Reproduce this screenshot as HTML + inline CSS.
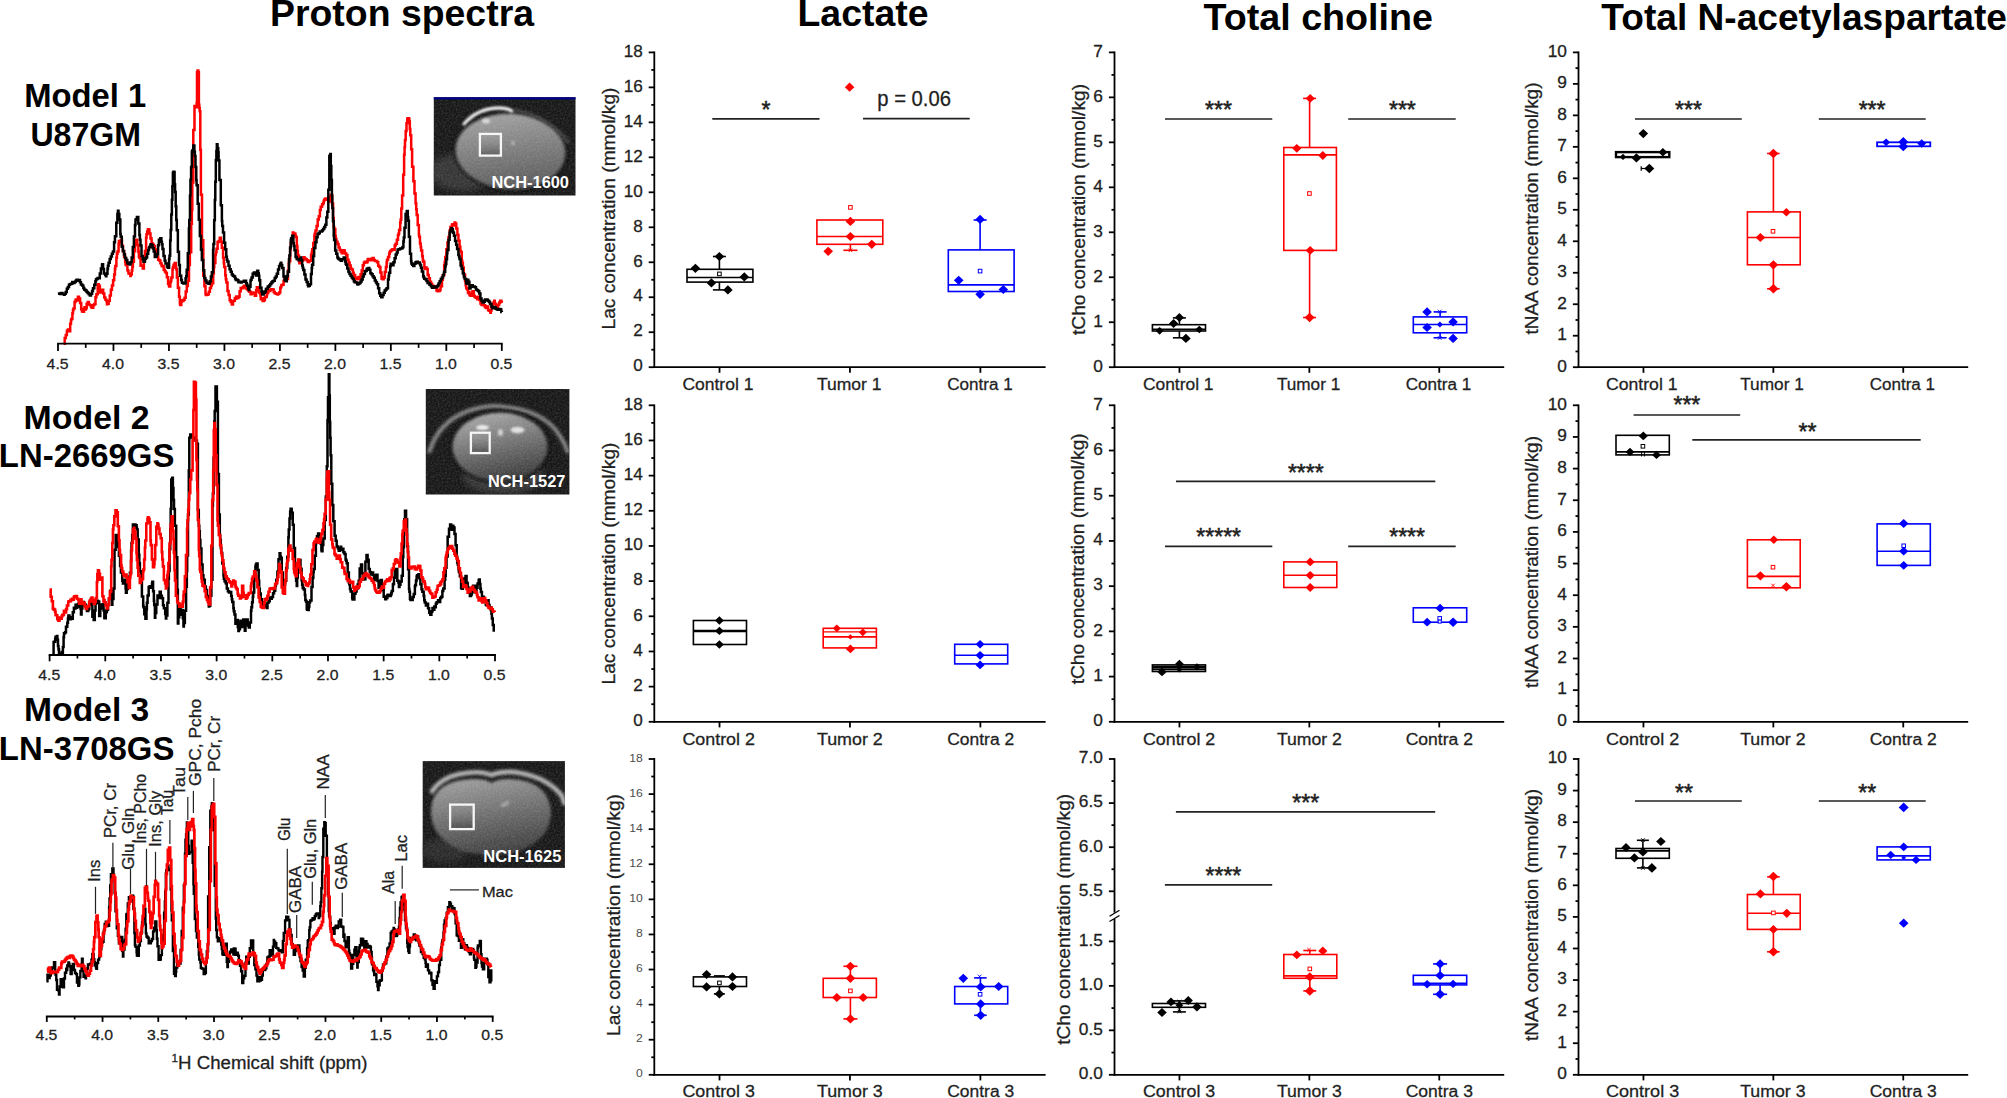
<!DOCTYPE html>
<html><head><meta charset="utf-8"><title>Figure</title>
<style>html,body{margin:0;padding:0;background:#fff}svg{display:block}text{font-family:'Liberation Sans', Arial, sans-serif}</style></head>
<body>
<svg width="2007" height="1098" viewBox="0 0 2007 1098">
<rect width="2007" height="1098" fill="#fff"/>
<text x="270" y="26.2" font-size="37" font-weight="bold" fill="#000" textLength="264" lengthAdjust="spacingAndGlyphs">Proton spectra</text>
<text x="797.5" y="25.9" font-size="37" font-weight="bold" fill="#000" textLength="131" lengthAdjust="spacingAndGlyphs">Lactate</text>
<text x="1203.5" y="29.5" font-size="37" font-weight="bold" fill="#000" textLength="229.5" lengthAdjust="spacingAndGlyphs">Total choline</text>
<text x="1601.3" y="29.6" font-size="37" font-weight="bold" fill="#000" textLength="405.7" lengthAdjust="spacingAndGlyphs">Total N-acetylaspartate</text>
<line x1="654.3" y1="51.5" x2="654.3" y2="368.1" stroke="#000000" stroke-width="1.8"/>
<line x1="653.4" y1="367.2" x2="1045.6" y2="367.2" stroke="#000000" stroke-width="1.8"/>
<line x1="648.7" y1="367.2" x2="654.3" y2="367.2" stroke="#000000" stroke-width="1.8"/>
<line x1="648.7" y1="332.22" x2="654.3" y2="332.22" stroke="#000000" stroke-width="1.8"/>
<line x1="648.7" y1="297.24" x2="654.3" y2="297.24" stroke="#000000" stroke-width="1.8"/>
<line x1="648.7" y1="262.27" x2="654.3" y2="262.27" stroke="#000000" stroke-width="1.8"/>
<line x1="648.7" y1="227.29" x2="654.3" y2="227.29" stroke="#000000" stroke-width="1.8"/>
<line x1="648.7" y1="192.31" x2="654.3" y2="192.31" stroke="#000000" stroke-width="1.8"/>
<line x1="648.7" y1="157.33" x2="654.3" y2="157.33" stroke="#000000" stroke-width="1.8"/>
<line x1="648.7" y1="122.36" x2="654.3" y2="122.36" stroke="#000000" stroke-width="1.8"/>
<line x1="648.7" y1="87.38" x2="654.3" y2="87.38" stroke="#000000" stroke-width="1.8"/>
<line x1="648.7" y1="52.4" x2="654.3" y2="52.4" stroke="#000000" stroke-width="1.8"/>
<line x1="651.3" y1="349.71" x2="654.3" y2="349.71" stroke="#000000" stroke-width="1.8"/>
<line x1="651.3" y1="314.73" x2="654.3" y2="314.73" stroke="#000000" stroke-width="1.8"/>
<line x1="651.3" y1="279.76" x2="654.3" y2="279.76" stroke="#000000" stroke-width="1.8"/>
<line x1="651.3" y1="244.78" x2="654.3" y2="244.78" stroke="#000000" stroke-width="1.8"/>
<line x1="651.3" y1="209.8" x2="654.3" y2="209.8" stroke="#000000" stroke-width="1.8"/>
<line x1="651.3" y1="174.82" x2="654.3" y2="174.82" stroke="#000000" stroke-width="1.8"/>
<line x1="651.3" y1="139.84" x2="654.3" y2="139.84" stroke="#000000" stroke-width="1.8"/>
<line x1="651.3" y1="104.87" x2="654.3" y2="104.87" stroke="#000000" stroke-width="1.8"/>
<line x1="651.3" y1="69.89" x2="654.3" y2="69.89" stroke="#000000" stroke-width="1.8"/>
<text transform="translate(642.7 371.44) scale(1.05 1)" font-size="16.3" text-anchor="end" fill="#1f1f1f" stroke="#1f1f1f" stroke-width="0.3">0</text>
<text transform="translate(642.7 336.46) scale(1.05 1)" font-size="16.3" text-anchor="end" fill="#1f1f1f" stroke="#1f1f1f" stroke-width="0.3">2</text>
<text transform="translate(642.7 301.48) scale(1.05 1)" font-size="16.3" text-anchor="end" fill="#1f1f1f" stroke="#1f1f1f" stroke-width="0.3">4</text>
<text transform="translate(642.7 266.5) scale(1.05 1)" font-size="16.3" text-anchor="end" fill="#1f1f1f" stroke="#1f1f1f" stroke-width="0.3">6</text>
<text transform="translate(642.7 231.52) scale(1.05 1)" font-size="16.3" text-anchor="end" fill="#1f1f1f" stroke="#1f1f1f" stroke-width="0.3">8</text>
<text transform="translate(642.7 196.55) scale(1.05 1)" font-size="16.3" text-anchor="end" fill="#1f1f1f" stroke="#1f1f1f" stroke-width="0.3">10</text>
<text transform="translate(642.7 161.57) scale(1.05 1)" font-size="16.3" text-anchor="end" fill="#1f1f1f" stroke="#1f1f1f" stroke-width="0.3">12</text>
<text transform="translate(642.7 126.59) scale(1.05 1)" font-size="16.3" text-anchor="end" fill="#1f1f1f" stroke="#1f1f1f" stroke-width="0.3">14</text>
<text transform="translate(642.7 91.61) scale(1.05 1)" font-size="16.3" text-anchor="end" fill="#1f1f1f" stroke="#1f1f1f" stroke-width="0.3">16</text>
<text transform="translate(642.7 56.64) scale(1.05 1)" font-size="16.3" text-anchor="end" fill="#1f1f1f" stroke="#1f1f1f" stroke-width="0.3">18</text>
<line x1="719.52" y1="367.2" x2="719.52" y2="372.8" stroke="#000000" stroke-width="1.8"/>
<line x1="849.95" y1="367.2" x2="849.95" y2="372.8" stroke="#000000" stroke-width="1.8"/>
<line x1="980.38" y1="367.2" x2="980.38" y2="372.8" stroke="#000000" stroke-width="1.8"/>
<text x="682.4" y="390.2" font-size="17.3" fill="#1f1f1f" stroke="#1f1f1f" stroke-width="0.3" textLength="71" lengthAdjust="spacingAndGlyphs">Control 1</text>
<text x="816.9" y="390.2" font-size="17.3" fill="#1f1f1f" stroke="#1f1f1f" stroke-width="0.3" textLength="64.5" lengthAdjust="spacingAndGlyphs">Tumor 1</text>
<text x="947.3" y="390.2" font-size="17.3" fill="#1f1f1f" stroke="#1f1f1f" stroke-width="0.3" textLength="65.4" lengthAdjust="spacingAndGlyphs">Contra 1</text>
<text x="615" y="208.5" font-size="18" text-anchor="middle" fill="#1f1f1f" stroke="#1f1f1f" stroke-width="0.3" transform="rotate(-90 615 208.5)" textLength="242" lengthAdjust="spacingAndGlyphs">Lac concentration (mmol/kg)</text>
<line x1="654.3" y1="404.4" x2="654.3" y2="722.7" stroke="#000000" stroke-width="1.8"/>
<line x1="653.4" y1="721.8" x2="1045.6" y2="721.8" stroke="#000000" stroke-width="1.8"/>
<line x1="648.7" y1="721.8" x2="654.3" y2="721.8" stroke="#000000" stroke-width="1.8"/>
<line x1="648.7" y1="686.63" x2="654.3" y2="686.63" stroke="#000000" stroke-width="1.8"/>
<line x1="648.7" y1="651.47" x2="654.3" y2="651.47" stroke="#000000" stroke-width="1.8"/>
<line x1="648.7" y1="616.3" x2="654.3" y2="616.3" stroke="#000000" stroke-width="1.8"/>
<line x1="648.7" y1="581.13" x2="654.3" y2="581.13" stroke="#000000" stroke-width="1.8"/>
<line x1="648.7" y1="545.97" x2="654.3" y2="545.97" stroke="#000000" stroke-width="1.8"/>
<line x1="648.7" y1="510.8" x2="654.3" y2="510.8" stroke="#000000" stroke-width="1.8"/>
<line x1="648.7" y1="475.63" x2="654.3" y2="475.63" stroke="#000000" stroke-width="1.8"/>
<line x1="648.7" y1="440.47" x2="654.3" y2="440.47" stroke="#000000" stroke-width="1.8"/>
<line x1="648.7" y1="405.3" x2="654.3" y2="405.3" stroke="#000000" stroke-width="1.8"/>
<line x1="651.3" y1="704.22" x2="654.3" y2="704.22" stroke="#000000" stroke-width="1.8"/>
<line x1="651.3" y1="669.05" x2="654.3" y2="669.05" stroke="#000000" stroke-width="1.8"/>
<line x1="651.3" y1="633.88" x2="654.3" y2="633.88" stroke="#000000" stroke-width="1.8"/>
<line x1="651.3" y1="598.72" x2="654.3" y2="598.72" stroke="#000000" stroke-width="1.8"/>
<line x1="651.3" y1="563.55" x2="654.3" y2="563.55" stroke="#000000" stroke-width="1.8"/>
<line x1="651.3" y1="528.38" x2="654.3" y2="528.38" stroke="#000000" stroke-width="1.8"/>
<line x1="651.3" y1="493.22" x2="654.3" y2="493.22" stroke="#000000" stroke-width="1.8"/>
<line x1="651.3" y1="458.05" x2="654.3" y2="458.05" stroke="#000000" stroke-width="1.8"/>
<line x1="651.3" y1="422.88" x2="654.3" y2="422.88" stroke="#000000" stroke-width="1.8"/>
<text transform="translate(642.7 726.04) scale(1.05 1)" font-size="16.3" text-anchor="end" fill="#1f1f1f" stroke="#1f1f1f" stroke-width="0.3">0</text>
<text transform="translate(642.7 690.87) scale(1.05 1)" font-size="16.3" text-anchor="end" fill="#1f1f1f" stroke="#1f1f1f" stroke-width="0.3">2</text>
<text transform="translate(642.7 655.7) scale(1.05 1)" font-size="16.3" text-anchor="end" fill="#1f1f1f" stroke="#1f1f1f" stroke-width="0.3">4</text>
<text transform="translate(642.7 620.54) scale(1.05 1)" font-size="16.3" text-anchor="end" fill="#1f1f1f" stroke="#1f1f1f" stroke-width="0.3">6</text>
<text transform="translate(642.7 585.37) scale(1.05 1)" font-size="16.3" text-anchor="end" fill="#1f1f1f" stroke="#1f1f1f" stroke-width="0.3">8</text>
<text transform="translate(642.7 550.2) scale(1.05 1)" font-size="16.3" text-anchor="end" fill="#1f1f1f" stroke="#1f1f1f" stroke-width="0.3">10</text>
<text transform="translate(642.7 515.04) scale(1.05 1)" font-size="16.3" text-anchor="end" fill="#1f1f1f" stroke="#1f1f1f" stroke-width="0.3">12</text>
<text transform="translate(642.7 479.87) scale(1.05 1)" font-size="16.3" text-anchor="end" fill="#1f1f1f" stroke="#1f1f1f" stroke-width="0.3">14</text>
<text transform="translate(642.7 444.7) scale(1.05 1)" font-size="16.3" text-anchor="end" fill="#1f1f1f" stroke="#1f1f1f" stroke-width="0.3">16</text>
<text transform="translate(642.7 409.54) scale(1.05 1)" font-size="16.3" text-anchor="end" fill="#1f1f1f" stroke="#1f1f1f" stroke-width="0.3">18</text>
<line x1="719.52" y1="721.8" x2="719.52" y2="727.4" stroke="#000000" stroke-width="1.8"/>
<line x1="849.95" y1="721.8" x2="849.95" y2="727.4" stroke="#000000" stroke-width="1.8"/>
<line x1="980.38" y1="721.8" x2="980.38" y2="727.4" stroke="#000000" stroke-width="1.8"/>
<text x="682.4" y="744.8" font-size="17.3" fill="#1f1f1f" stroke="#1f1f1f" stroke-width="0.3" textLength="72.5" lengthAdjust="spacingAndGlyphs">Control 2</text>
<text x="816.9" y="744.8" font-size="17.3" fill="#1f1f1f" stroke="#1f1f1f" stroke-width="0.3" textLength="65.9" lengthAdjust="spacingAndGlyphs">Tumor 2</text>
<text x="947.3" y="744.8" font-size="17.3" fill="#1f1f1f" stroke="#1f1f1f" stroke-width="0.3" textLength="66.8" lengthAdjust="spacingAndGlyphs">Contra 2</text>
<text x="615" y="563.5" font-size="18" text-anchor="middle" fill="#1f1f1f" stroke="#1f1f1f" stroke-width="0.3" transform="rotate(-90 615 563.5)" textLength="242" lengthAdjust="spacingAndGlyphs">Lac concentration (mmol/kg)</text>
<line x1="654.3" y1="758.1" x2="654.3" y2="1075.7" stroke="#000000" stroke-width="1.8"/>
<line x1="653.4" y1="1074.8" x2="1045.6" y2="1074.8" stroke="#000000" stroke-width="1.8"/>
<line x1="648.7" y1="1074.8" x2="654.3" y2="1074.8" stroke="#000000" stroke-width="1.8"/>
<line x1="648.7" y1="1039.71" x2="654.3" y2="1039.71" stroke="#000000" stroke-width="1.8"/>
<line x1="648.7" y1="1004.62" x2="654.3" y2="1004.62" stroke="#000000" stroke-width="1.8"/>
<line x1="648.7" y1="969.53" x2="654.3" y2="969.53" stroke="#000000" stroke-width="1.8"/>
<line x1="648.7" y1="934.44" x2="654.3" y2="934.44" stroke="#000000" stroke-width="1.8"/>
<line x1="648.7" y1="899.36" x2="654.3" y2="899.36" stroke="#000000" stroke-width="1.8"/>
<line x1="648.7" y1="864.27" x2="654.3" y2="864.27" stroke="#000000" stroke-width="1.8"/>
<line x1="648.7" y1="829.18" x2="654.3" y2="829.18" stroke="#000000" stroke-width="1.8"/>
<line x1="648.7" y1="794.09" x2="654.3" y2="794.09" stroke="#000000" stroke-width="1.8"/>
<line x1="648.7" y1="759" x2="654.3" y2="759" stroke="#000000" stroke-width="1.8"/>
<line x1="651.3" y1="1057.26" x2="654.3" y2="1057.26" stroke="#000000" stroke-width="1.8"/>
<line x1="651.3" y1="1022.17" x2="654.3" y2="1022.17" stroke="#000000" stroke-width="1.8"/>
<line x1="651.3" y1="987.08" x2="654.3" y2="987.08" stroke="#000000" stroke-width="1.8"/>
<line x1="651.3" y1="951.99" x2="654.3" y2="951.99" stroke="#000000" stroke-width="1.8"/>
<line x1="651.3" y1="916.9" x2="654.3" y2="916.9" stroke="#000000" stroke-width="1.8"/>
<line x1="651.3" y1="881.81" x2="654.3" y2="881.81" stroke="#000000" stroke-width="1.8"/>
<line x1="651.3" y1="846.72" x2="654.3" y2="846.72" stroke="#000000" stroke-width="1.8"/>
<line x1="651.3" y1="811.63" x2="654.3" y2="811.63" stroke="#000000" stroke-width="1.8"/>
<line x1="651.3" y1="776.54" x2="654.3" y2="776.54" stroke="#000000" stroke-width="1.8"/>
<text transform="translate(642.7 1077.35) scale(1.05 1)" font-size="11.6" text-anchor="end" fill="#4c4c4c">0</text>
<text transform="translate(642.7 1042.26) scale(1.05 1)" font-size="11.6" text-anchor="end" fill="#4c4c4c">2</text>
<text transform="translate(642.7 1007.18) scale(1.05 1)" font-size="11.6" text-anchor="end" fill="#4c4c4c">4</text>
<text transform="translate(642.7 972.09) scale(1.05 1)" font-size="11.6" text-anchor="end" fill="#4c4c4c">6</text>
<text transform="translate(642.7 937) scale(1.05 1)" font-size="11.6" text-anchor="end" fill="#4c4c4c">8</text>
<text transform="translate(642.7 901.91) scale(1.05 1)" font-size="11.6" text-anchor="end" fill="#4c4c4c">10</text>
<text transform="translate(642.7 866.82) scale(1.05 1)" font-size="11.6" text-anchor="end" fill="#4c4c4c">12</text>
<text transform="translate(642.7 831.73) scale(1.05 1)" font-size="11.6" text-anchor="end" fill="#4c4c4c">14</text>
<text transform="translate(642.7 796.64) scale(1.05 1)" font-size="11.6" text-anchor="end" fill="#4c4c4c">16</text>
<text transform="translate(642.7 761.55) scale(1.05 1)" font-size="11.6" text-anchor="end" fill="#4c4c4c">18</text>
<line x1="719.52" y1="1074.8" x2="719.52" y2="1080.4" stroke="#000000" stroke-width="1.8"/>
<line x1="849.95" y1="1074.8" x2="849.95" y2="1080.4" stroke="#000000" stroke-width="1.8"/>
<line x1="980.38" y1="1074.8" x2="980.38" y2="1080.4" stroke="#000000" stroke-width="1.8"/>
<text x="682.4" y="1097.2" font-size="17.3" fill="#1f1f1f" stroke="#1f1f1f" stroke-width="0.3" textLength="72.5" lengthAdjust="spacingAndGlyphs">Control 3</text>
<text x="816.9" y="1097.2" font-size="17.3" fill="#1f1f1f" stroke="#1f1f1f" stroke-width="0.3" textLength="65.9" lengthAdjust="spacingAndGlyphs">Tumor 3</text>
<text x="947.3" y="1097.2" font-size="17.3" fill="#1f1f1f" stroke="#1f1f1f" stroke-width="0.3" textLength="66.8" lengthAdjust="spacingAndGlyphs">Contra 3</text>
<text x="620" y="915" font-size="19" text-anchor="middle" fill="#1f1f1f" stroke="#1f1f1f" stroke-width="0.3" transform="rotate(-90 620 915)" textLength="242" lengthAdjust="spacingAndGlyphs">Lac concentration (mmol/kg)</text>
<line x1="1114.5" y1="51.5" x2="1114.5" y2="368.1" stroke="#000000" stroke-width="1.8"/>
<line x1="1113.6" y1="367.2" x2="1504.2" y2="367.2" stroke="#000000" stroke-width="1.8"/>
<line x1="1108.9" y1="367.2" x2="1114.5" y2="367.2" stroke="#000000" stroke-width="1.8"/>
<line x1="1108.9" y1="322.23" x2="1114.5" y2="322.23" stroke="#000000" stroke-width="1.8"/>
<line x1="1108.9" y1="277.26" x2="1114.5" y2="277.26" stroke="#000000" stroke-width="1.8"/>
<line x1="1108.9" y1="232.29" x2="1114.5" y2="232.29" stroke="#000000" stroke-width="1.8"/>
<line x1="1108.9" y1="187.31" x2="1114.5" y2="187.31" stroke="#000000" stroke-width="1.8"/>
<line x1="1108.9" y1="142.34" x2="1114.5" y2="142.34" stroke="#000000" stroke-width="1.8"/>
<line x1="1108.9" y1="97.37" x2="1114.5" y2="97.37" stroke="#000000" stroke-width="1.8"/>
<line x1="1108.9" y1="52.4" x2="1114.5" y2="52.4" stroke="#000000" stroke-width="1.8"/>
<line x1="1111.5" y1="344.71" x2="1114.5" y2="344.71" stroke="#000000" stroke-width="1.8"/>
<line x1="1111.5" y1="299.74" x2="1114.5" y2="299.74" stroke="#000000" stroke-width="1.8"/>
<line x1="1111.5" y1="254.77" x2="1114.5" y2="254.77" stroke="#000000" stroke-width="1.8"/>
<line x1="1111.5" y1="209.8" x2="1114.5" y2="209.8" stroke="#000000" stroke-width="1.8"/>
<line x1="1111.5" y1="164.83" x2="1114.5" y2="164.83" stroke="#000000" stroke-width="1.8"/>
<line x1="1111.5" y1="119.86" x2="1114.5" y2="119.86" stroke="#000000" stroke-width="1.8"/>
<line x1="1111.5" y1="74.89" x2="1114.5" y2="74.89" stroke="#000000" stroke-width="1.8"/>
<text transform="translate(1102.9 371.51) scale(1.05 1)" font-size="16.5" text-anchor="end" fill="#1f1f1f" stroke="#1f1f1f" stroke-width="0.3">0</text>
<text transform="translate(1102.9 326.54) scale(1.05 1)" font-size="16.5" text-anchor="end" fill="#1f1f1f" stroke="#1f1f1f" stroke-width="0.3">1</text>
<text transform="translate(1102.9 281.56) scale(1.05 1)" font-size="16.5" text-anchor="end" fill="#1f1f1f" stroke="#1f1f1f" stroke-width="0.3">2</text>
<text transform="translate(1102.9 236.59) scale(1.05 1)" font-size="16.5" text-anchor="end" fill="#1f1f1f" stroke="#1f1f1f" stroke-width="0.3">3</text>
<text transform="translate(1102.9 191.62) scale(1.05 1)" font-size="16.5" text-anchor="end" fill="#1f1f1f" stroke="#1f1f1f" stroke-width="0.3">4</text>
<text transform="translate(1102.9 146.65) scale(1.05 1)" font-size="16.5" text-anchor="end" fill="#1f1f1f" stroke="#1f1f1f" stroke-width="0.3">5</text>
<text transform="translate(1102.9 101.68) scale(1.05 1)" font-size="16.5" text-anchor="end" fill="#1f1f1f" stroke="#1f1f1f" stroke-width="0.3">6</text>
<text transform="translate(1102.9 56.71) scale(1.05 1)" font-size="16.5" text-anchor="end" fill="#1f1f1f" stroke="#1f1f1f" stroke-width="0.3">7</text>
<line x1="1179.45" y1="367.2" x2="1179.45" y2="372.8" stroke="#000000" stroke-width="1.8"/>
<line x1="1309.35" y1="367.2" x2="1309.35" y2="372.8" stroke="#000000" stroke-width="1.8"/>
<line x1="1439.25" y1="367.2" x2="1439.25" y2="372.8" stroke="#000000" stroke-width="1.8"/>
<text x="1143" y="390.2" font-size="17.3" fill="#1f1f1f" stroke="#1f1f1f" stroke-width="0.3" textLength="70.5" lengthAdjust="spacingAndGlyphs">Control 1</text>
<text x="1276.9" y="390.2" font-size="17.3" fill="#1f1f1f" stroke="#1f1f1f" stroke-width="0.3" textLength="63.3" lengthAdjust="spacingAndGlyphs">Tumor 1</text>
<text x="1405.7" y="390.2" font-size="17.3" fill="#1f1f1f" stroke="#1f1f1f" stroke-width="0.3" textLength="65.6" lengthAdjust="spacingAndGlyphs">Contra 1</text>
<text x="1084.5" y="209.5" font-size="18" text-anchor="middle" fill="#1f1f1f" stroke="#1f1f1f" stroke-width="0.3" transform="rotate(-90 1084.5 209.5)" textLength="251" lengthAdjust="spacingAndGlyphs">tCho concentration (mmol/kg)</text>
<line x1="1114.5" y1="404.4" x2="1114.5" y2="722.7" stroke="#000000" stroke-width="1.8"/>
<line x1="1113.6" y1="721.8" x2="1504.2" y2="721.8" stroke="#000000" stroke-width="1.8"/>
<line x1="1108.9" y1="721.8" x2="1114.5" y2="721.8" stroke="#000000" stroke-width="1.8"/>
<line x1="1108.9" y1="676.59" x2="1114.5" y2="676.59" stroke="#000000" stroke-width="1.8"/>
<line x1="1108.9" y1="631.37" x2="1114.5" y2="631.37" stroke="#000000" stroke-width="1.8"/>
<line x1="1108.9" y1="586.16" x2="1114.5" y2="586.16" stroke="#000000" stroke-width="1.8"/>
<line x1="1108.9" y1="540.94" x2="1114.5" y2="540.94" stroke="#000000" stroke-width="1.8"/>
<line x1="1108.9" y1="495.73" x2="1114.5" y2="495.73" stroke="#000000" stroke-width="1.8"/>
<line x1="1108.9" y1="450.51" x2="1114.5" y2="450.51" stroke="#000000" stroke-width="1.8"/>
<line x1="1108.9" y1="405.3" x2="1114.5" y2="405.3" stroke="#000000" stroke-width="1.8"/>
<line x1="1111.5" y1="699.19" x2="1114.5" y2="699.19" stroke="#000000" stroke-width="1.8"/>
<line x1="1111.5" y1="653.98" x2="1114.5" y2="653.98" stroke="#000000" stroke-width="1.8"/>
<line x1="1111.5" y1="608.76" x2="1114.5" y2="608.76" stroke="#000000" stroke-width="1.8"/>
<line x1="1111.5" y1="563.55" x2="1114.5" y2="563.55" stroke="#000000" stroke-width="1.8"/>
<line x1="1111.5" y1="518.34" x2="1114.5" y2="518.34" stroke="#000000" stroke-width="1.8"/>
<line x1="1111.5" y1="473.12" x2="1114.5" y2="473.12" stroke="#000000" stroke-width="1.8"/>
<line x1="1111.5" y1="427.91" x2="1114.5" y2="427.91" stroke="#000000" stroke-width="1.8"/>
<text transform="translate(1102.9 726.11) scale(1.05 1)" font-size="16.5" text-anchor="end" fill="#1f1f1f" stroke="#1f1f1f" stroke-width="0.3">0</text>
<text transform="translate(1102.9 680.89) scale(1.05 1)" font-size="16.5" text-anchor="end" fill="#1f1f1f" stroke="#1f1f1f" stroke-width="0.3">1</text>
<text transform="translate(1102.9 635.68) scale(1.05 1)" font-size="16.5" text-anchor="end" fill="#1f1f1f" stroke="#1f1f1f" stroke-width="0.3">2</text>
<text transform="translate(1102.9 590.46) scale(1.05 1)" font-size="16.5" text-anchor="end" fill="#1f1f1f" stroke="#1f1f1f" stroke-width="0.3">3</text>
<text transform="translate(1102.9 545.25) scale(1.05 1)" font-size="16.5" text-anchor="end" fill="#1f1f1f" stroke="#1f1f1f" stroke-width="0.3">4</text>
<text transform="translate(1102.9 500.04) scale(1.05 1)" font-size="16.5" text-anchor="end" fill="#1f1f1f" stroke="#1f1f1f" stroke-width="0.3">5</text>
<text transform="translate(1102.9 454.82) scale(1.05 1)" font-size="16.5" text-anchor="end" fill="#1f1f1f" stroke="#1f1f1f" stroke-width="0.3">6</text>
<text transform="translate(1102.9 409.61) scale(1.05 1)" font-size="16.5" text-anchor="end" fill="#1f1f1f" stroke="#1f1f1f" stroke-width="0.3">7</text>
<line x1="1179.45" y1="721.8" x2="1179.45" y2="727.4" stroke="#000000" stroke-width="1.8"/>
<line x1="1309.35" y1="721.8" x2="1309.35" y2="727.4" stroke="#000000" stroke-width="1.8"/>
<line x1="1439.25" y1="721.8" x2="1439.25" y2="727.4" stroke="#000000" stroke-width="1.8"/>
<text x="1143" y="744.8" font-size="17.3" fill="#1f1f1f" stroke="#1f1f1f" stroke-width="0.3" textLength="72.2" lengthAdjust="spacingAndGlyphs">Control 2</text>
<text x="1276.9" y="744.8" font-size="17.3" fill="#1f1f1f" stroke="#1f1f1f" stroke-width="0.3" textLength="65" lengthAdjust="spacingAndGlyphs">Tumor 2</text>
<text x="1405.7" y="744.8" font-size="17.3" fill="#1f1f1f" stroke="#1f1f1f" stroke-width="0.3" textLength="67.3" lengthAdjust="spacingAndGlyphs">Contra 2</text>
<text x="1084.5" y="558.8" font-size="18" text-anchor="middle" fill="#1f1f1f" stroke="#1f1f1f" stroke-width="0.3" transform="rotate(-90 1084.5 558.8)" textLength="251" lengthAdjust="spacingAndGlyphs">tCho concentration (mmol/kg)</text>
<line x1="1114.5" y1="758.1" x2="1114.5" y2="912.6" stroke="#000000" stroke-width="1.8"/>
<line x1="1114.5" y1="919" x2="1114.5" y2="1075.7" stroke="#000000" stroke-width="1.8"/>
<line x1="1109.5" y1="916.2" x2="1119.5" y2="910.2" stroke="#000000" stroke-width="1.2"/>
<line x1="1109.5" y1="921.4" x2="1119.5" y2="915.4" stroke="#000000" stroke-width="1.2"/>
<line x1="1113.6" y1="1074.8" x2="1504.2" y2="1074.8" stroke="#000000" stroke-width="1.8"/>
<line x1="1108.9" y1="1074.8" x2="1114.5" y2="1074.8" stroke="#000000" stroke-width="1.8"/>
<line x1="1108.9" y1="1030.33" x2="1114.5" y2="1030.33" stroke="#000000" stroke-width="1.8"/>
<line x1="1108.9" y1="985.86" x2="1114.5" y2="985.86" stroke="#000000" stroke-width="1.8"/>
<line x1="1108.9" y1="941.39" x2="1114.5" y2="941.39" stroke="#000000" stroke-width="1.8"/>
<line x1="1108.9" y1="891.3" x2="1114.5" y2="891.3" stroke="#000000" stroke-width="1.8"/>
<line x1="1108.9" y1="847.2" x2="1114.5" y2="847.2" stroke="#000000" stroke-width="1.8"/>
<line x1="1108.9" y1="803.1" x2="1114.5" y2="803.1" stroke="#000000" stroke-width="1.8"/>
<line x1="1108.9" y1="759" x2="1114.5" y2="759" stroke="#000000" stroke-width="1.8"/>
<line x1="1111.5" y1="1052.57" x2="1114.5" y2="1052.57" stroke="#000000" stroke-width="1.8"/>
<line x1="1111.5" y1="1008.09" x2="1114.5" y2="1008.09" stroke="#000000" stroke-width="1.8"/>
<line x1="1111.5" y1="963.62" x2="1114.5" y2="963.62" stroke="#000000" stroke-width="1.8"/>
<line x1="1111.5" y1="869.25" x2="1114.5" y2="869.25" stroke="#000000" stroke-width="1.8"/>
<line x1="1111.5" y1="825.15" x2="1114.5" y2="825.15" stroke="#000000" stroke-width="1.8"/>
<line x1="1111.5" y1="781.05" x2="1114.5" y2="781.05" stroke="#000000" stroke-width="1.8"/>
<text transform="translate(1102.9 1079.11) scale(1.05 1)" font-size="16.5" text-anchor="end" fill="#1f1f1f" stroke="#1f1f1f" stroke-width="0.3">0.0</text>
<text transform="translate(1102.9 1034.64) scale(1.05 1)" font-size="16.5" text-anchor="end" fill="#1f1f1f" stroke="#1f1f1f" stroke-width="0.3">0.5</text>
<text transform="translate(1102.9 990.17) scale(1.05 1)" font-size="16.5" text-anchor="end" fill="#1f1f1f" stroke="#1f1f1f" stroke-width="0.3">1.0</text>
<text transform="translate(1102.9 945.7) scale(1.05 1)" font-size="16.5" text-anchor="end" fill="#1f1f1f" stroke="#1f1f1f" stroke-width="0.3">1.5</text>
<text transform="translate(1102.9 895.61) scale(1.05 1)" font-size="16.5" text-anchor="end" fill="#1f1f1f" stroke="#1f1f1f" stroke-width="0.3">5.5</text>
<text transform="translate(1102.9 851.51) scale(1.05 1)" font-size="16.5" text-anchor="end" fill="#1f1f1f" stroke="#1f1f1f" stroke-width="0.3">6.0</text>
<text transform="translate(1102.9 807.41) scale(1.05 1)" font-size="16.5" text-anchor="end" fill="#1f1f1f" stroke="#1f1f1f" stroke-width="0.3">6.5</text>
<text transform="translate(1102.9 763.31) scale(1.05 1)" font-size="16.5" text-anchor="end" fill="#1f1f1f" stroke="#1f1f1f" stroke-width="0.3">7.0</text>
<line x1="1179.45" y1="1074.8" x2="1179.45" y2="1080.4" stroke="#000000" stroke-width="1.8"/>
<line x1="1309.35" y1="1074.8" x2="1309.35" y2="1080.4" stroke="#000000" stroke-width="1.8"/>
<line x1="1439.25" y1="1074.8" x2="1439.25" y2="1080.4" stroke="#000000" stroke-width="1.8"/>
<text x="1143" y="1097.2" font-size="17.3" fill="#1f1f1f" stroke="#1f1f1f" stroke-width="0.3" textLength="72.2" lengthAdjust="spacingAndGlyphs">Control 3</text>
<text x="1276.9" y="1097.2" font-size="17.3" fill="#1f1f1f" stroke="#1f1f1f" stroke-width="0.3" textLength="65" lengthAdjust="spacingAndGlyphs">Tumor 3</text>
<text x="1405.7" y="1097.2" font-size="17.3" fill="#1f1f1f" stroke="#1f1f1f" stroke-width="0.3" textLength="67.3" lengthAdjust="spacingAndGlyphs">Contra 3</text>
<text x="1069.9" y="919.3" font-size="19" text-anchor="middle" fill="#1f1f1f" stroke="#1f1f1f" stroke-width="0.3" transform="rotate(-90 1069.9 919.3)" textLength="251" lengthAdjust="spacingAndGlyphs">tCho concentration (mmol/kg)</text>
<line x1="1578.5" y1="51.5" x2="1578.5" y2="368.1" stroke="#000000" stroke-width="1.8"/>
<line x1="1577.6" y1="367.2" x2="1968.2" y2="367.2" stroke="#000000" stroke-width="1.8"/>
<line x1="1572.9" y1="367.2" x2="1578.5" y2="367.2" stroke="#000000" stroke-width="1.8"/>
<line x1="1572.9" y1="335.72" x2="1578.5" y2="335.72" stroke="#000000" stroke-width="1.8"/>
<line x1="1572.9" y1="304.24" x2="1578.5" y2="304.24" stroke="#000000" stroke-width="1.8"/>
<line x1="1572.9" y1="272.76" x2="1578.5" y2="272.76" stroke="#000000" stroke-width="1.8"/>
<line x1="1572.9" y1="241.28" x2="1578.5" y2="241.28" stroke="#000000" stroke-width="1.8"/>
<line x1="1572.9" y1="209.8" x2="1578.5" y2="209.8" stroke="#000000" stroke-width="1.8"/>
<line x1="1572.9" y1="178.32" x2="1578.5" y2="178.32" stroke="#000000" stroke-width="1.8"/>
<line x1="1572.9" y1="146.84" x2="1578.5" y2="146.84" stroke="#000000" stroke-width="1.8"/>
<line x1="1572.9" y1="115.36" x2="1578.5" y2="115.36" stroke="#000000" stroke-width="1.8"/>
<line x1="1572.9" y1="83.88" x2="1578.5" y2="83.88" stroke="#000000" stroke-width="1.8"/>
<line x1="1572.9" y1="52.4" x2="1578.5" y2="52.4" stroke="#000000" stroke-width="1.8"/>
<line x1="1575.5" y1="351.46" x2="1578.5" y2="351.46" stroke="#000000" stroke-width="1.8"/>
<line x1="1575.5" y1="319.98" x2="1578.5" y2="319.98" stroke="#000000" stroke-width="1.8"/>
<line x1="1575.5" y1="288.5" x2="1578.5" y2="288.5" stroke="#000000" stroke-width="1.8"/>
<line x1="1575.5" y1="257.02" x2="1578.5" y2="257.02" stroke="#000000" stroke-width="1.8"/>
<line x1="1575.5" y1="225.54" x2="1578.5" y2="225.54" stroke="#000000" stroke-width="1.8"/>
<line x1="1575.5" y1="194.06" x2="1578.5" y2="194.06" stroke="#000000" stroke-width="1.8"/>
<line x1="1575.5" y1="162.58" x2="1578.5" y2="162.58" stroke="#000000" stroke-width="1.8"/>
<line x1="1575.5" y1="131.1" x2="1578.5" y2="131.1" stroke="#000000" stroke-width="1.8"/>
<line x1="1575.5" y1="99.62" x2="1578.5" y2="99.62" stroke="#000000" stroke-width="1.8"/>
<line x1="1575.5" y1="68.14" x2="1578.5" y2="68.14" stroke="#000000" stroke-width="1.8"/>
<text transform="translate(1566.9 371.51) scale(1.05 1)" font-size="16.5" text-anchor="end" fill="#1f1f1f" stroke="#1f1f1f" stroke-width="0.3">0</text>
<text transform="translate(1566.9 340.03) scale(1.05 1)" font-size="16.5" text-anchor="end" fill="#1f1f1f" stroke="#1f1f1f" stroke-width="0.3">1</text>
<text transform="translate(1566.9 308.55) scale(1.05 1)" font-size="16.5" text-anchor="end" fill="#1f1f1f" stroke="#1f1f1f" stroke-width="0.3">2</text>
<text transform="translate(1566.9 277.07) scale(1.05 1)" font-size="16.5" text-anchor="end" fill="#1f1f1f" stroke="#1f1f1f" stroke-width="0.3">3</text>
<text transform="translate(1566.9 245.59) scale(1.05 1)" font-size="16.5" text-anchor="end" fill="#1f1f1f" stroke="#1f1f1f" stroke-width="0.3">4</text>
<text transform="translate(1566.9 214.11) scale(1.05 1)" font-size="16.5" text-anchor="end" fill="#1f1f1f" stroke="#1f1f1f" stroke-width="0.3">5</text>
<text transform="translate(1566.9 182.63) scale(1.05 1)" font-size="16.5" text-anchor="end" fill="#1f1f1f" stroke="#1f1f1f" stroke-width="0.3">6</text>
<text transform="translate(1566.9 151.15) scale(1.05 1)" font-size="16.5" text-anchor="end" fill="#1f1f1f" stroke="#1f1f1f" stroke-width="0.3">7</text>
<text transform="translate(1566.9 119.67) scale(1.05 1)" font-size="16.5" text-anchor="end" fill="#1f1f1f" stroke="#1f1f1f" stroke-width="0.3">8</text>
<text transform="translate(1566.9 88.19) scale(1.05 1)" font-size="16.5" text-anchor="end" fill="#1f1f1f" stroke="#1f1f1f" stroke-width="0.3">9</text>
<text transform="translate(1566.9 56.71) scale(1.05 1)" font-size="16.5" text-anchor="end" fill="#1f1f1f" stroke="#1f1f1f" stroke-width="0.3">10</text>
<line x1="1643.45" y1="367.2" x2="1643.45" y2="372.8" stroke="#000000" stroke-width="1.8"/>
<line x1="1773.35" y1="367.2" x2="1773.35" y2="372.8" stroke="#000000" stroke-width="1.8"/>
<line x1="1903.25" y1="367.2" x2="1903.25" y2="372.8" stroke="#000000" stroke-width="1.8"/>
<text x="1606" y="390" font-size="17.3" fill="#1f1f1f" stroke="#1f1f1f" stroke-width="0.3" textLength="71.5" lengthAdjust="spacingAndGlyphs">Control 1</text>
<text x="1740.2" y="390" font-size="17.3" fill="#1f1f1f" stroke="#1f1f1f" stroke-width="0.3" textLength="63.6" lengthAdjust="spacingAndGlyphs">Tumor 1</text>
<text x="1869.7" y="390" font-size="17.3" fill="#1f1f1f" stroke="#1f1f1f" stroke-width="0.3" textLength="65.3" lengthAdjust="spacingAndGlyphs">Contra 1</text>
<text x="1538.2" y="208.5" font-size="18.5" text-anchor="middle" fill="#1f1f1f" stroke="#1f1f1f" stroke-width="0.3" transform="rotate(-90 1538.2 208.5)" textLength="252" lengthAdjust="spacingAndGlyphs">tNAA concentration (mmol/kg)</text>
<line x1="1578.5" y1="404.4" x2="1578.5" y2="722.7" stroke="#000000" stroke-width="1.8"/>
<line x1="1577.6" y1="721.8" x2="1968.2" y2="721.8" stroke="#000000" stroke-width="1.8"/>
<line x1="1572.9" y1="721.8" x2="1578.5" y2="721.8" stroke="#000000" stroke-width="1.8"/>
<line x1="1572.9" y1="690.15" x2="1578.5" y2="690.15" stroke="#000000" stroke-width="1.8"/>
<line x1="1572.9" y1="658.5" x2="1578.5" y2="658.5" stroke="#000000" stroke-width="1.8"/>
<line x1="1572.9" y1="626.85" x2="1578.5" y2="626.85" stroke="#000000" stroke-width="1.8"/>
<line x1="1572.9" y1="595.2" x2="1578.5" y2="595.2" stroke="#000000" stroke-width="1.8"/>
<line x1="1572.9" y1="563.55" x2="1578.5" y2="563.55" stroke="#000000" stroke-width="1.8"/>
<line x1="1572.9" y1="531.9" x2="1578.5" y2="531.9" stroke="#000000" stroke-width="1.8"/>
<line x1="1572.9" y1="500.25" x2="1578.5" y2="500.25" stroke="#000000" stroke-width="1.8"/>
<line x1="1572.9" y1="468.6" x2="1578.5" y2="468.6" stroke="#000000" stroke-width="1.8"/>
<line x1="1572.9" y1="436.95" x2="1578.5" y2="436.95" stroke="#000000" stroke-width="1.8"/>
<line x1="1572.9" y1="405.3" x2="1578.5" y2="405.3" stroke="#000000" stroke-width="1.8"/>
<line x1="1575.5" y1="705.97" x2="1578.5" y2="705.97" stroke="#000000" stroke-width="1.8"/>
<line x1="1575.5" y1="674.32" x2="1578.5" y2="674.32" stroke="#000000" stroke-width="1.8"/>
<line x1="1575.5" y1="642.67" x2="1578.5" y2="642.67" stroke="#000000" stroke-width="1.8"/>
<line x1="1575.5" y1="611.02" x2="1578.5" y2="611.02" stroke="#000000" stroke-width="1.8"/>
<line x1="1575.5" y1="579.38" x2="1578.5" y2="579.38" stroke="#000000" stroke-width="1.8"/>
<line x1="1575.5" y1="547.72" x2="1578.5" y2="547.72" stroke="#000000" stroke-width="1.8"/>
<line x1="1575.5" y1="516.08" x2="1578.5" y2="516.08" stroke="#000000" stroke-width="1.8"/>
<line x1="1575.5" y1="484.43" x2="1578.5" y2="484.43" stroke="#000000" stroke-width="1.8"/>
<line x1="1575.5" y1="452.77" x2="1578.5" y2="452.77" stroke="#000000" stroke-width="1.8"/>
<line x1="1575.5" y1="421.12" x2="1578.5" y2="421.12" stroke="#000000" stroke-width="1.8"/>
<text transform="translate(1566.9 726.11) scale(1.05 1)" font-size="16.5" text-anchor="end" fill="#1f1f1f" stroke="#1f1f1f" stroke-width="0.3">0</text>
<text transform="translate(1566.9 694.46) scale(1.05 1)" font-size="16.5" text-anchor="end" fill="#1f1f1f" stroke="#1f1f1f" stroke-width="0.3">1</text>
<text transform="translate(1566.9 662.81) scale(1.05 1)" font-size="16.5" text-anchor="end" fill="#1f1f1f" stroke="#1f1f1f" stroke-width="0.3">2</text>
<text transform="translate(1566.9 631.16) scale(1.05 1)" font-size="16.5" text-anchor="end" fill="#1f1f1f" stroke="#1f1f1f" stroke-width="0.3">3</text>
<text transform="translate(1566.9 599.51) scale(1.05 1)" font-size="16.5" text-anchor="end" fill="#1f1f1f" stroke="#1f1f1f" stroke-width="0.3">4</text>
<text transform="translate(1566.9 567.86) scale(1.05 1)" font-size="16.5" text-anchor="end" fill="#1f1f1f" stroke="#1f1f1f" stroke-width="0.3">5</text>
<text transform="translate(1566.9 536.21) scale(1.05 1)" font-size="16.5" text-anchor="end" fill="#1f1f1f" stroke="#1f1f1f" stroke-width="0.3">6</text>
<text transform="translate(1566.9 504.56) scale(1.05 1)" font-size="16.5" text-anchor="end" fill="#1f1f1f" stroke="#1f1f1f" stroke-width="0.3">7</text>
<text transform="translate(1566.9 472.91) scale(1.05 1)" font-size="16.5" text-anchor="end" fill="#1f1f1f" stroke="#1f1f1f" stroke-width="0.3">8</text>
<text transform="translate(1566.9 441.26) scale(1.05 1)" font-size="16.5" text-anchor="end" fill="#1f1f1f" stroke="#1f1f1f" stroke-width="0.3">9</text>
<text transform="translate(1566.9 409.61) scale(1.05 1)" font-size="16.5" text-anchor="end" fill="#1f1f1f" stroke="#1f1f1f" stroke-width="0.3">10</text>
<line x1="1643.45" y1="721.8" x2="1643.45" y2="727.4" stroke="#000000" stroke-width="1.8"/>
<line x1="1773.35" y1="721.8" x2="1773.35" y2="727.4" stroke="#000000" stroke-width="1.8"/>
<line x1="1903.25" y1="721.8" x2="1903.25" y2="727.4" stroke="#000000" stroke-width="1.8"/>
<text x="1606" y="744.8" font-size="17.3" fill="#1f1f1f" stroke="#1f1f1f" stroke-width="0.3" textLength="73.2" lengthAdjust="spacingAndGlyphs">Control 2</text>
<text x="1740.2" y="744.8" font-size="17.3" fill="#1f1f1f" stroke="#1f1f1f" stroke-width="0.3" textLength="65.3" lengthAdjust="spacingAndGlyphs">Tumor 2</text>
<text x="1869.7" y="744.8" font-size="17.3" fill="#1f1f1f" stroke="#1f1f1f" stroke-width="0.3" textLength="67" lengthAdjust="spacingAndGlyphs">Contra 2</text>
<text x="1538.2" y="562" font-size="18.5" text-anchor="middle" fill="#1f1f1f" stroke="#1f1f1f" stroke-width="0.3" transform="rotate(-90 1538.2 562)" textLength="252" lengthAdjust="spacingAndGlyphs">tNAA concentration (mmol/kg)</text>
<line x1="1578.5" y1="758.1" x2="1578.5" y2="1075.7" stroke="#000000" stroke-width="1.8"/>
<line x1="1577.6" y1="1074.8" x2="1968.2" y2="1074.8" stroke="#000000" stroke-width="1.8"/>
<line x1="1572.9" y1="1074.8" x2="1578.5" y2="1074.8" stroke="#000000" stroke-width="1.8"/>
<line x1="1572.9" y1="1043.22" x2="1578.5" y2="1043.22" stroke="#000000" stroke-width="1.8"/>
<line x1="1572.9" y1="1011.64" x2="1578.5" y2="1011.64" stroke="#000000" stroke-width="1.8"/>
<line x1="1572.9" y1="980.06" x2="1578.5" y2="980.06" stroke="#000000" stroke-width="1.8"/>
<line x1="1572.9" y1="948.48" x2="1578.5" y2="948.48" stroke="#000000" stroke-width="1.8"/>
<line x1="1572.9" y1="916.9" x2="1578.5" y2="916.9" stroke="#000000" stroke-width="1.8"/>
<line x1="1572.9" y1="885.32" x2="1578.5" y2="885.32" stroke="#000000" stroke-width="1.8"/>
<line x1="1572.9" y1="853.74" x2="1578.5" y2="853.74" stroke="#000000" stroke-width="1.8"/>
<line x1="1572.9" y1="822.16" x2="1578.5" y2="822.16" stroke="#000000" stroke-width="1.8"/>
<line x1="1572.9" y1="790.58" x2="1578.5" y2="790.58" stroke="#000000" stroke-width="1.8"/>
<line x1="1572.9" y1="759" x2="1578.5" y2="759" stroke="#000000" stroke-width="1.8"/>
<line x1="1575.5" y1="1059.01" x2="1578.5" y2="1059.01" stroke="#000000" stroke-width="1.8"/>
<line x1="1575.5" y1="1027.43" x2="1578.5" y2="1027.43" stroke="#000000" stroke-width="1.8"/>
<line x1="1575.5" y1="995.85" x2="1578.5" y2="995.85" stroke="#000000" stroke-width="1.8"/>
<line x1="1575.5" y1="964.27" x2="1578.5" y2="964.27" stroke="#000000" stroke-width="1.8"/>
<line x1="1575.5" y1="932.69" x2="1578.5" y2="932.69" stroke="#000000" stroke-width="1.8"/>
<line x1="1575.5" y1="901.11" x2="1578.5" y2="901.11" stroke="#000000" stroke-width="1.8"/>
<line x1="1575.5" y1="869.53" x2="1578.5" y2="869.53" stroke="#000000" stroke-width="1.8"/>
<line x1="1575.5" y1="837.95" x2="1578.5" y2="837.95" stroke="#000000" stroke-width="1.8"/>
<line x1="1575.5" y1="806.37" x2="1578.5" y2="806.37" stroke="#000000" stroke-width="1.8"/>
<line x1="1575.5" y1="774.79" x2="1578.5" y2="774.79" stroke="#000000" stroke-width="1.8"/>
<text transform="translate(1566.9 1079.11) scale(1.05 1)" font-size="16.5" text-anchor="end" fill="#1f1f1f" stroke="#1f1f1f" stroke-width="0.3">0</text>
<text transform="translate(1566.9 1047.53) scale(1.05 1)" font-size="16.5" text-anchor="end" fill="#1f1f1f" stroke="#1f1f1f" stroke-width="0.3">1</text>
<text transform="translate(1566.9 1015.95) scale(1.05 1)" font-size="16.5" text-anchor="end" fill="#1f1f1f" stroke="#1f1f1f" stroke-width="0.3">2</text>
<text transform="translate(1566.9 984.37) scale(1.05 1)" font-size="16.5" text-anchor="end" fill="#1f1f1f" stroke="#1f1f1f" stroke-width="0.3">3</text>
<text transform="translate(1566.9 952.79) scale(1.05 1)" font-size="16.5" text-anchor="end" fill="#1f1f1f" stroke="#1f1f1f" stroke-width="0.3">4</text>
<text transform="translate(1566.9 921.21) scale(1.05 1)" font-size="16.5" text-anchor="end" fill="#1f1f1f" stroke="#1f1f1f" stroke-width="0.3">5</text>
<text transform="translate(1566.9 889.63) scale(1.05 1)" font-size="16.5" text-anchor="end" fill="#1f1f1f" stroke="#1f1f1f" stroke-width="0.3">6</text>
<text transform="translate(1566.9 858.05) scale(1.05 1)" font-size="16.5" text-anchor="end" fill="#1f1f1f" stroke="#1f1f1f" stroke-width="0.3">7</text>
<text transform="translate(1566.9 826.47) scale(1.05 1)" font-size="16.5" text-anchor="end" fill="#1f1f1f" stroke="#1f1f1f" stroke-width="0.3">8</text>
<text transform="translate(1566.9 794.89) scale(1.05 1)" font-size="16.5" text-anchor="end" fill="#1f1f1f" stroke="#1f1f1f" stroke-width="0.3">9</text>
<text transform="translate(1566.9 763.31) scale(1.05 1)" font-size="16.5" text-anchor="end" fill="#1f1f1f" stroke="#1f1f1f" stroke-width="0.3">10</text>
<line x1="1643.45" y1="1074.8" x2="1643.45" y2="1080.4" stroke="#000000" stroke-width="1.8"/>
<line x1="1773.35" y1="1074.8" x2="1773.35" y2="1080.4" stroke="#000000" stroke-width="1.8"/>
<line x1="1903.25" y1="1074.8" x2="1903.25" y2="1080.4" stroke="#000000" stroke-width="1.8"/>
<text x="1606" y="1097.2" font-size="17.3" fill="#1f1f1f" stroke="#1f1f1f" stroke-width="0.3" textLength="73.2" lengthAdjust="spacingAndGlyphs">Control 3</text>
<text x="1740.2" y="1097.2" font-size="17.3" fill="#1f1f1f" stroke="#1f1f1f" stroke-width="0.3" textLength="65.3" lengthAdjust="spacingAndGlyphs">Tumor 3</text>
<text x="1869.7" y="1097.2" font-size="17.3" fill="#1f1f1f" stroke="#1f1f1f" stroke-width="0.3" textLength="67" lengthAdjust="spacingAndGlyphs">Contra 3</text>
<text x="1538.2" y="915" font-size="18.5" text-anchor="middle" fill="#1f1f1f" stroke="#1f1f1f" stroke-width="0.3" transform="rotate(-90 1538.2 915)" textLength="252" lengthAdjust="spacingAndGlyphs">tNAA concentration (mmol/kg)</text>
<line x1="712.3" y1="118.8" x2="819.5" y2="118.8" stroke="#222" stroke-width="1.7"/>
<text x="765.9" y="117.5" font-size="23" text-anchor="middle" fill="#1f1f1f" stroke="#1f1f1f" stroke-width="0.55">*</text>
<line x1="863" y1="118.6" x2="969.7" y2="118.6" stroke="#222" stroke-width="1.7"/>
<text x="877.3" y="105.9" font-size="22" fill="#1f1f1f" stroke="#1f1f1f" stroke-width="0.3" textLength="73.7" lengthAdjust="spacingAndGlyphs">p = 0.06</text>
<line x1="1165" y1="119" x2="1272.3" y2="119" stroke="#222" stroke-width="1.7"/>
<text x="1218.5" y="117.8" font-size="23" text-anchor="middle" fill="#1f1f1f" stroke="#1f1f1f" stroke-width="0.55">***</text>
<line x1="1348.2" y1="119" x2="1455.7" y2="119" stroke="#222" stroke-width="1.7"/>
<text x="1402.4" y="117.8" font-size="23" text-anchor="middle" fill="#1f1f1f" stroke="#1f1f1f" stroke-width="0.55">***</text>
<line x1="1176" y1="481.4" x2="1435.3" y2="481.4" stroke="#222" stroke-width="1.7"/>
<text x="1305.8" y="480.6" font-size="23" text-anchor="middle" fill="#1f1f1f" stroke="#1f1f1f" stroke-width="0.55">****</text>
<line x1="1165" y1="546.3" x2="1272.3" y2="546.3" stroke="#222" stroke-width="1.7"/>
<text x="1218.7" y="545.1" font-size="23" text-anchor="middle" fill="#1f1f1f" stroke="#1f1f1f" stroke-width="0.55">*****</text>
<line x1="1348.2" y1="546.3" x2="1455.7" y2="546.3" stroke="#222" stroke-width="1.7"/>
<text x="1407.1" y="545.1" font-size="23" text-anchor="middle" fill="#1f1f1f" stroke="#1f1f1f" stroke-width="0.55">****</text>
<line x1="1175.9" y1="811.9" x2="1435.2" y2="811.9" stroke="#222" stroke-width="1.7"/>
<text x="1305.7" y="811.2" font-size="23" text-anchor="middle" fill="#1f1f1f" stroke="#1f1f1f" stroke-width="0.55">***</text>
<line x1="1164.9" y1="884.9" x2="1272.2" y2="884.9" stroke="#222" stroke-width="1.7"/>
<text x="1223.4" y="884.1" font-size="23" text-anchor="middle" fill="#1f1f1f" stroke="#1f1f1f" stroke-width="0.55">****</text>
<line x1="1635" y1="119" x2="1741.8" y2="119" stroke="#222" stroke-width="1.7"/>
<text x="1688.5" y="117.8" font-size="23" text-anchor="middle" fill="#1f1f1f" stroke="#1f1f1f" stroke-width="0.55">***</text>
<line x1="1818.8" y1="119" x2="1925.7" y2="119" stroke="#222" stroke-width="1.7"/>
<text x="1872.1" y="117.8" font-size="23" text-anchor="middle" fill="#1f1f1f" stroke="#1f1f1f" stroke-width="0.55">***</text>
<line x1="1633.6" y1="415" x2="1740.2" y2="415" stroke="#222" stroke-width="1.7"/>
<text x="1686.9" y="412.8" font-size="23" text-anchor="middle" fill="#1f1f1f" stroke="#1f1f1f" stroke-width="0.55">***</text>
<line x1="1692.3" y1="439.9" x2="1920.7" y2="439.9" stroke="#222" stroke-width="1.7"/>
<text x="1807.4" y="439.6" font-size="23" text-anchor="middle" fill="#1f1f1f" stroke="#1f1f1f" stroke-width="0.55">**</text>
<line x1="1635" y1="801" x2="1741.8" y2="801" stroke="#222" stroke-width="1.7"/>
<text x="1683.9" y="800.6" font-size="23" text-anchor="middle" fill="#1f1f1f" stroke="#1f1f1f" stroke-width="0.55">**</text>
<line x1="1818.8" y1="801" x2="1925.7" y2="801" stroke="#222" stroke-width="1.7"/>
<text x="1867.3" y="800.6" font-size="23" text-anchor="middle" fill="#1f1f1f" stroke="#1f1f1f" stroke-width="0.55">**</text>
<line x1="719.4" y1="269.3" x2="719.4" y2="256.5" stroke="#000000" stroke-width="1.6"/>
<line x1="712.9" y1="256.5" x2="725.9" y2="256.5" stroke="#000000" stroke-width="1.6"/>
<line x1="719.4" y1="282.1" x2="719.4" y2="289.9" stroke="#000000" stroke-width="1.6"/>
<line x1="712.9" y1="289.9" x2="725.9" y2="289.9" stroke="#000000" stroke-width="1.6"/>
<rect x="687" y="269.3" width="65.9" height="12.8" fill="none" stroke="#000000" stroke-width="1.6"/>
<line x1="687" y1="277.5" x2="752.9" y2="277.5" stroke="#000000" stroke-width="1.6"/>
<rect x="717.6" y="272.1" width="3.6" height="3.6" fill="#fff" stroke="#000000" stroke-width="1"/>
<path d="M690.6 268.3L695.4 263.7L700.2 268.3L695.4 272.9Z" fill="#000000"/>
<path d="M714.6 256.5L719.4 251.9L724.2 256.5L719.4 261.1Z" fill="#000000"/>
<path d="M739.5 276.9L744.3 272.3L749.1 276.9L744.3 281.5Z" fill="#000000"/>
<path d="M706.6 282.9L711.4 278.3L716.2 282.9L711.4 287.5Z" fill="#000000"/>
<path d="M723.1 289.9L727.9 285.3L732.7 289.9L727.9 294.5Z" fill="#000000"/>
<line x1="850.4" y1="244.3" x2="850.4" y2="250.3" stroke="#ff0000" stroke-width="1.6"/>
<line x1="843.4" y1="250.3" x2="857.4" y2="250.3" stroke="#ff0000" stroke-width="1.6"/>
<rect x="816.9" y="220" width="65.9" height="24.3" fill="none" stroke="#ff0000" stroke-width="1.6"/>
<line x1="816.9" y1="236.5" x2="882.8" y2="236.5" stroke="#ff0000" stroke-width="1.6"/>
<path d="M848.6 248.5L852.2 252.1M848.6 252.1L852.2 248.5" stroke="#ff0000" stroke-width="0.9" fill="none"/>
<rect x="848.6" y="205.6" width="3.6" height="3.6" fill="#fff" stroke="#ff0000" stroke-width="1"/>
<path d="M845.6 221.4L850.4 216.8L855.2 221.4L850.4 226Z" fill="#ff0000"/>
<path d="M845.6 236.5L850.4 231.9L855.2 236.5L850.4 241.1Z" fill="#ff0000"/>
<path d="M867 244.3L871.8 239.7L876.6 244.3L871.8 248.9Z" fill="#ff0000"/>
<path d="M823.4 251.3L828.2 246.7L833 251.3L828.2 255.9Z" fill="#ff0000"/>
<path d="M844.8 87.2L849.6 82.6L854.4 87.2L849.6 91.8Z" fill="#ff0000"/>
<line x1="980.1" y1="249.9" x2="980.1" y2="220" stroke="#0000ff" stroke-width="1.6"/>
<line x1="973.6" y1="220" x2="986.6" y2="220" stroke="#0000ff" stroke-width="1.6"/>
<rect x="948.3" y="249.9" width="65.8" height="41.6" fill="none" stroke="#0000ff" stroke-width="1.6"/>
<line x1="948.3" y1="284.9" x2="1014.1" y2="284.9" stroke="#0000ff" stroke-width="1.6"/>
<rect x="978.3" y="269.3" width="3.6" height="3.6" fill="#fff" stroke="#0000ff" stroke-width="1"/>
<path d="M975.3 219.4L980.1 214.8L984.9 219.4L980.1 224Z" fill="#0000ff"/>
<path d="M953.9 280.3L958.7 275.7L963.5 280.3L958.7 284.9Z" fill="#0000ff"/>
<path d="M975.3 294.3L980.1 289.7L984.9 294.3L980.1 298.9Z" fill="#0000ff"/>
<path d="M998.5 289.5L1003.3 284.9L1008.1 289.5L1003.3 294.1Z" fill="#0000ff"/>
<rect x="693.4" y="620.5" width="53.1" height="24" fill="none" stroke="#000000" stroke-width="1.6"/>
<line x1="693.4" y1="630.9" x2="746.5" y2="630.9" stroke="#000000" stroke-width="1.6"/>
<line x1="693.4" y1="630.3" x2="746.5" y2="630.3" stroke="#000000" stroke-width="1.28"/>
<line x1="693.4" y1="631.5" x2="746.5" y2="631.5" stroke="#000000" stroke-width="1.28"/>
<path d="M715 620.5L719.4 616.28L723.8 620.5L719.4 624.72Z" fill="#000000"/>
<path d="M715 630.9L719.4 626.68L723.8 630.9L719.4 635.12Z" fill="#000000"/>
<path d="M715 644.5L719.4 640.28L723.8 644.5L719.4 648.72Z" fill="#000000"/>
<rect x="823.2" y="628.3" width="53.2" height="19.6" fill="none" stroke="#ff0000" stroke-width="1.6"/>
<line x1="823.2" y1="636.9" x2="876.4" y2="636.9" stroke="#ff0000" stroke-width="1.6"/>
<line x1="823.2" y1="631.9" x2="876.4" y2="631.9" stroke="#ff0000" stroke-width="1.28"/>
<path d="M832.8 628.3L836.8 624.46L840.8 628.3L836.8 632.14Z" fill="#ff0000"/>
<path d="M858.8 632.3L862.8 628.46L866.8 632.3L862.8 636.14Z" fill="#ff0000"/>
<path d="M847.6 636.9L850.4 634.21L853.2 636.9L850.4 639.59Z" fill="#ff0000"/>
<path d="M845.8 648.9L850.4 644.48L855 648.9L850.4 653.32Z" fill="#ff0000"/>
<rect x="954.7" y="644.3" width="53" height="19.6" fill="none" stroke="#0000ff" stroke-width="1.6"/>
<line x1="954.7" y1="655.3" x2="1007.7" y2="655.3" stroke="#0000ff" stroke-width="1.6"/>
<path d="M975.7 644.3L980.1 640.08L984.5 644.3L980.1 648.52Z" fill="#0000ff"/>
<path d="M975.5 655.3L980.1 650.88L984.7 655.3L980.1 659.72Z" fill="#0000ff"/>
<path d="M975.5 664.9L980.1 660.48L984.7 664.9L980.1 669.32Z" fill="#0000ff"/>
<line x1="719.4" y1="976.9" x2="719.4" y2="975.9" stroke="#000000" stroke-width="1.6"/>
<line x1="713.9" y1="975.9" x2="724.9" y2="975.9" stroke="#000000" stroke-width="1.6"/>
<line x1="719.4" y1="986.5" x2="719.4" y2="993.9" stroke="#000000" stroke-width="1.6"/>
<line x1="713.9" y1="993.9" x2="724.9" y2="993.9" stroke="#000000" stroke-width="1.6"/>
<rect x="693.4" y="976.9" width="53.1" height="9.6" fill="none" stroke="#000000" stroke-width="1.6"/>
<rect x="717.6" y="981.1" width="3.6" height="3.6" fill="#fff" stroke="#000000" stroke-width="1"/>
<path d="M701.8 974.5L706.6 969.9L711.4 974.5L706.6 979.1Z" fill="#000000"/>
<path d="M727.7 976.9L732.5 972.3L737.3 976.9L732.5 981.5Z" fill="#000000"/>
<path d="M701.8 986.9L706.6 982.3L711.4 986.9L706.6 991.5Z" fill="#000000"/>
<path d="M727.7 986.5L732.5 981.9L737.3 986.5L732.5 991.1Z" fill="#000000"/>
<path d="M714.6 993.9L719.4 989.3L724.2 993.9L719.4 998.5Z" fill="#000000"/>
<line x1="850.4" y1="978.3" x2="850.4" y2="966.3" stroke="#ff0000" stroke-width="1.6"/>
<line x1="843.4" y1="966.3" x2="857.4" y2="966.3" stroke="#ff0000" stroke-width="1.6"/>
<line x1="850.4" y1="997.5" x2="850.4" y2="1018.9" stroke="#ff0000" stroke-width="1.6"/>
<line x1="843.4" y1="1018.9" x2="857.4" y2="1018.9" stroke="#ff0000" stroke-width="1.6"/>
<rect x="823.2" y="978.3" width="53.2" height="19.2" fill="none" stroke="#ff0000" stroke-width="1.6"/>
<rect x="848.6" y="989.1" width="3.6" height="3.6" fill="#fff" stroke="#ff0000" stroke-width="1"/>
<path d="M845.6 966.3L850.4 961.7L855.2 966.3L850.4 970.9Z" fill="#ff0000"/>
<path d="M845.6 978.3L850.4 973.7L855.2 978.3L850.4 982.9Z" fill="#ff0000"/>
<path d="M832 997.5L836.8 992.9L841.6 997.5L836.8 1002.1Z" fill="#ff0000"/>
<path d="M858.4 997.5L863.2 992.9L868 997.5L863.2 1002.1Z" fill="#ff0000"/>
<path d="M845.6 1018.9L850.4 1014.3L855.2 1018.9L850.4 1023.5Z" fill="#ff0000"/>
<line x1="980.4" y1="986.5" x2="980.4" y2="977.9" stroke="#0000ff" stroke-width="1.6"/>
<line x1="974.1" y1="977.9" x2="986.7" y2="977.9" stroke="#0000ff" stroke-width="1.6"/>
<line x1="980.4" y1="1003.9" x2="980.4" y2="1015.3" stroke="#0000ff" stroke-width="1.6"/>
<line x1="974.1" y1="1015.3" x2="986.7" y2="1015.3" stroke="#0000ff" stroke-width="1.6"/>
<rect x="954.7" y="986.5" width="53" height="17.4" fill="none" stroke="#0000ff" stroke-width="1.6"/>
<path d="M977.8 974.7L981.4 978.3M977.8 978.3L981.4 974.7" stroke="#0000ff" stroke-width="0.9" fill="none"/>
<rect x="978.3" y="992.5" width="3.6" height="3.6" fill="#fff" stroke="#0000ff" stroke-width="1"/>
<path d="M958.5 978.3L963.3 973.7L968.1 978.3L963.3 982.9Z" fill="#0000ff"/>
<path d="M975.9 986.9L980.7 982.3L985.5 986.9L980.7 991.5Z" fill="#0000ff"/>
<path d="M993.9 986.5L998.7 981.9L1003.5 986.5L998.7 991.1Z" fill="#0000ff"/>
<path d="M975.9 1003.9L980.7 999.3L985.5 1003.9L980.7 1008.5Z" fill="#0000ff"/>
<path d="M975.9 1015.3L980.7 1010.7L985.5 1015.3L980.7 1019.9Z" fill="#0000ff"/>
<line x1="1179.4" y1="324.7" x2="1179.4" y2="317.9" stroke="#000000" stroke-width="1.6"/>
<line x1="1172.9" y1="317.9" x2="1185.9" y2="317.9" stroke="#000000" stroke-width="1.6"/>
<line x1="1179.4" y1="331" x2="1179.4" y2="337.8" stroke="#000000" stroke-width="1.6"/>
<line x1="1172.9" y1="337.8" x2="1185.9" y2="337.8" stroke="#000000" stroke-width="1.6"/>
<rect x="1152.4" y="324.7" width="53.1" height="6.3" fill="none" stroke="#000000" stroke-width="1.6"/>
<line x1="1152.4" y1="329.2" x2="1205.5" y2="329.2" stroke="#000000" stroke-width="1.6"/>
<path d="M1174.8 317.5L1179.4 313.08L1184 317.5L1179.4 321.92Z" fill="#000000"/>
<path d="M1169 323.5L1173.6 319.08L1178.2 323.5L1173.6 327.92Z" fill="#000000"/>
<path d="M1155.6 330.8L1159.6 326.96L1163.6 330.8L1159.6 334.64Z" fill="#000000"/>
<path d="M1195.3 329.5L1199.3 325.66L1203.3 329.5L1199.3 333.34Z" fill="#000000"/>
<path d="M1181.1 338.4L1185.9 333.79L1190.7 338.4L1185.9 343.01Z" fill="#000000"/>
<line x1="1309.6" y1="147.5" x2="1309.6" y2="98.4" stroke="#ff0000" stroke-width="1.6"/>
<line x1="1303.1" y1="98.4" x2="1316.1" y2="98.4" stroke="#ff0000" stroke-width="1.6"/>
<line x1="1309.6" y1="250.4" x2="1309.6" y2="317.5" stroke="#ff0000" stroke-width="1.6"/>
<line x1="1303.1" y1="317.5" x2="1316.1" y2="317.5" stroke="#ff0000" stroke-width="1.6"/>
<rect x="1283.8" y="147.5" width="52.6" height="102.9" fill="none" stroke="#ff0000" stroke-width="1.6"/>
<line x1="1283.8" y1="154.9" x2="1336.4" y2="154.9" stroke="#ff0000" stroke-width="1.6"/>
<rect x="1307.6" y="191.7" width="3.6" height="3.6" fill="#fff" stroke="#ff0000" stroke-width="1"/>
<path d="M1305.6 98.4L1310.2 93.98L1314.8 98.4L1310.2 102.82Z" fill="#ff0000"/>
<path d="M1292.2 148.3L1296.8 143.88L1301.4 148.3L1296.8 152.72Z" fill="#ff0000"/>
<path d="M1318.2 155.5L1322.8 151.08L1327.4 155.5L1322.8 159.92Z" fill="#ff0000"/>
<path d="M1305.6 250.4L1310.2 245.98L1314.8 250.4L1310.2 254.82Z" fill="#ff0000"/>
<path d="M1304.6 317.5L1309.6 312.7L1314.6 317.5L1309.6 322.3Z" fill="#ff0000"/>
<line x1="1440.1" y1="316.9" x2="1440.1" y2="311.9" stroke="#0000ff" stroke-width="1.6"/>
<line x1="1433.6" y1="311.9" x2="1446.6" y2="311.9" stroke="#0000ff" stroke-width="1.6"/>
<line x1="1440.1" y1="332.8" x2="1440.1" y2="337.8" stroke="#0000ff" stroke-width="1.6"/>
<line x1="1433.6" y1="337.8" x2="1446.6" y2="337.8" stroke="#0000ff" stroke-width="1.6"/>
<rect x="1413.3" y="316.9" width="53.4" height="15.9" fill="none" stroke="#0000ff" stroke-width="1.6"/>
<line x1="1413.3" y1="324.5" x2="1466.7" y2="324.5" stroke="#0000ff" stroke-width="1.6"/>
<path d="M1437.9 309.7L1441.5 313.3M1437.9 313.3L1441.5 309.7" stroke="#0000ff" stroke-width="0.9" fill="none"/>
<path d="M1437.9 336.2L1441.5 339.8M1437.9 339.8L1441.5 336.2" stroke="#0000ff" stroke-width="0.9" fill="none"/>
<path d="M1422.3 311.9L1427.1 307.29L1431.9 311.9L1427.1 316.51Z" fill="#0000ff"/>
<path d="M1448.3 321.9L1453.1 317.29L1457.9 321.9L1453.1 326.51Z" fill="#0000ff"/>
<path d="M1422.3 327.5L1427.1 322.89L1431.9 327.5L1427.1 332.11Z" fill="#0000ff"/>
<path d="M1448.3 338.4L1453.1 333.79L1457.9 338.4L1453.1 343.01Z" fill="#0000ff"/>
<path d="M1436.9 324.5L1439.9 321.62L1442.9 324.5L1439.9 327.38Z" fill="#0000ff"/>
<rect x="1152.4" y="664.9" width="53.1" height="6.6" fill="none" stroke="#000000" stroke-width="1.6"/>
<line x1="1152.4" y1="667.9" x2="1205.5" y2="667.9" stroke="#000000" stroke-width="1.6"/>
<line x1="1152.4" y1="666.4" x2="1205.5" y2="666.4" stroke="#000000" stroke-width="1.28"/>
<line x1="1152.4" y1="669.6" x2="1205.5" y2="669.6" stroke="#000000" stroke-width="1.28"/>
<path d="M1175 663.9L1179.4 659.68L1183.8 663.9L1179.4 668.12Z" fill="#000000"/>
<path d="M1157.4 671.9L1162 667.48L1166.6 671.9L1162 676.32Z" fill="#000000"/>
<path d="M1193.1 666.9L1196.9 663.25L1200.7 666.9L1196.9 670.55Z" fill="#000000"/>
<path d="M1176.4 669.5L1179.4 666.62L1182.4 669.5L1179.4 672.38Z" fill="#000000"/>
<rect x="1283.8" y="561.9" width="53" height="25.6" fill="none" stroke="#ff0000" stroke-width="1.6"/>
<line x1="1283.8" y1="575.3" x2="1336.8" y2="575.3" stroke="#ff0000" stroke-width="1.6"/>
<path d="M1305.6 561.9L1310.2 557.48L1314.8 561.9L1310.2 566.32Z" fill="#ff0000"/>
<path d="M1305.6 575.3L1310.2 570.88L1314.8 575.3L1310.2 579.72Z" fill="#ff0000"/>
<path d="M1305.6 587.5L1310.2 583.08L1314.8 587.5L1310.2 591.92Z" fill="#ff0000"/>
<rect x="1413.3" y="607.8" width="53.4" height="14.4" fill="none" stroke="#0000ff" stroke-width="1.6"/>
<rect x="1437.9" y="616.6" width="3.6" height="3.6" fill="#fff" stroke="#0000ff" stroke-width="1"/>
<path d="M1435.5 608.2L1440.1 603.78L1444.7 608.2L1440.1 612.62Z" fill="#0000ff"/>
<path d="M1422.5 622.2L1427.1 617.78L1431.7 622.2L1427.1 626.62Z" fill="#0000ff"/>
<path d="M1448.1 622.2L1453.1 617.4L1458.1 622.2L1453.1 627Z" fill="#0000ff"/>
<rect x="1438.2" y="620.1" width="3" height="3" fill="#fff" stroke="#0000ff" stroke-width="1"/>
<line x1="1179.4" y1="1003.5" x2="1179.4" y2="1000.9" stroke="#000000" stroke-width="1.6"/>
<line x1="1172.9" y1="1000.9" x2="1185.9" y2="1000.9" stroke="#000000" stroke-width="1.6"/>
<line x1="1179.4" y1="1007.3" x2="1179.4" y2="1011.9" stroke="#000000" stroke-width="1.6"/>
<line x1="1172.9" y1="1011.9" x2="1185.9" y2="1011.9" stroke="#000000" stroke-width="1.6"/>
<rect x="1152.4" y="1003.5" width="53.1" height="3.8" fill="none" stroke="#000000" stroke-width="1.6"/>
<path d="M1177.6 1009.7L1181.2 1013.3M1177.6 1013.3L1181.2 1009.7" stroke="#000000" stroke-width="0.9" fill="none"/>
<path d="M1177.6 999.7L1181.2 1003.3M1177.6 1003.3L1181.2 999.7" stroke="#000000" stroke-width="0.9" fill="none"/>
<path d="M1166.4 1001.9L1171 997.48L1175.6 1001.9L1171 1006.32Z" fill="#000000"/>
<path d="M1183.7 1000.5L1188.3 996.08L1192.9 1000.5L1188.3 1004.92Z" fill="#000000"/>
<path d="M1157.2 1012.5L1162 1007.89L1166.8 1012.5L1162 1017.11Z" fill="#000000"/>
<path d="M1192.1 1006.9L1196.9 1002.29L1201.7 1006.9L1196.9 1011.51Z" fill="#000000"/>
<path d="M1175.6 1005.3L1179.4 1001.65L1183.2 1005.3L1179.4 1008.95Z" fill="#000000"/>
<line x1="1309.8" y1="954.5" x2="1309.8" y2="950.5" stroke="#ff0000" stroke-width="1.6"/>
<line x1="1303.3" y1="950.5" x2="1316.3" y2="950.5" stroke="#ff0000" stroke-width="1.6"/>
<line x1="1309.8" y1="978.3" x2="1309.8" y2="990.9" stroke="#ff0000" stroke-width="1.6"/>
<line x1="1303.3" y1="990.9" x2="1316.3" y2="990.9" stroke="#ff0000" stroke-width="1.6"/>
<rect x="1283.8" y="954.5" width="53" height="23.8" fill="none" stroke="#ff0000" stroke-width="1.6"/>
<line x1="1283.8" y1="975.9" x2="1336.8" y2="975.9" stroke="#ff0000" stroke-width="1.6"/>
<path d="M1307.2 947.8L1310.8 951.4M1307.2 951.4L1310.8 947.8" stroke="#ff0000" stroke-width="0.9" fill="none"/>
<rect x="1308" y="967.1" width="3.6" height="3.6" fill="#fff" stroke="#ff0000" stroke-width="1"/>
<path d="M1292.2 954.9L1296.8 950.48L1301.4 954.9L1296.8 959.32Z" fill="#ff0000"/>
<path d="M1318.2 950.9L1322.8 946.48L1327.4 950.9L1322.8 955.32Z" fill="#ff0000"/>
<path d="M1305 976.9L1309.8 972.29L1314.6 976.9L1309.8 981.51Z" fill="#ff0000"/>
<path d="M1304.8 990.9L1309.8 986.1L1314.8 990.9L1309.8 995.7Z" fill="#ff0000"/>
<line x1="1440.1" y1="975.3" x2="1440.1" y2="963.9" stroke="#0000ff" stroke-width="1.6"/>
<line x1="1433.1" y1="963.9" x2="1447.1" y2="963.9" stroke="#0000ff" stroke-width="1.6"/>
<line x1="1440.1" y1="984.9" x2="1440.1" y2="994.3" stroke="#0000ff" stroke-width="1.6"/>
<line x1="1433.1" y1="994.3" x2="1447.1" y2="994.3" stroke="#0000ff" stroke-width="1.6"/>
<rect x="1413.3" y="975.3" width="53.4" height="9.6" fill="none" stroke="#0000ff" stroke-width="1.6"/>
<line x1="1413.3" y1="983.3" x2="1466.7" y2="983.3" stroke="#0000ff" stroke-width="1.6"/>
<path d="M1435.3 963.9L1440.1 959.29L1444.9 963.9L1440.1 968.51Z" fill="#0000ff"/>
<path d="M1435.3 975.5L1440.1 970.89L1444.9 975.5L1440.1 980.11Z" fill="#0000ff"/>
<path d="M1422.7 984.3L1427.1 980.08L1431.5 984.3L1427.1 988.52Z" fill="#0000ff"/>
<path d="M1448.7 983.9L1453.1 979.68L1457.5 983.9L1453.1 988.12Z" fill="#0000ff"/>
<path d="M1435.1 994.3L1440.1 989.5L1445.1 994.3L1440.1 999.1Z" fill="#0000ff"/>
<rect x="1616" y="152.1" width="53.3" height="5" fill="none" stroke="#000000" stroke-width="2.4"/>
<path d="M1638.5 133.6L1643.3 128.99L1648.1 133.6L1643.3 138.21Z" fill="#000000"/>
<path d="M1658.5 152.3L1662.9 148.08L1667.3 152.3L1662.9 156.52Z" fill="#000000"/>
<path d="M1631.6 157.9L1636.4 153.29L1641.2 157.9L1636.4 162.51Z" fill="#000000"/>
<path d="M1619.8 156.9L1623 153.83L1626.2 156.9L1623 159.97Z" fill="#000000"/>
<path d="M1644.3 168.5L1649.3 163.7L1654.3 168.5L1649.3 173.3Z" fill="#000000"/>
<line x1="1641.2" y1="166.2" x2="1641.2" y2="170.8" stroke="#000000" stroke-width="1.2"/>
<line x1="1641.2" y1="168.5" x2="1646" y2="168.5" stroke="#000000" stroke-width="1.2"/>
<line x1="1773.4" y1="211.9" x2="1773.4" y2="153.5" stroke="#ff0000" stroke-width="1.6"/>
<line x1="1767.1" y1="153.5" x2="1779.7" y2="153.5" stroke="#ff0000" stroke-width="1.6"/>
<line x1="1773.4" y1="264.8" x2="1773.4" y2="288.8" stroke="#ff0000" stroke-width="1.6"/>
<line x1="1767.1" y1="288.8" x2="1779.7" y2="288.8" stroke="#ff0000" stroke-width="1.6"/>
<rect x="1747.4" y="211.9" width="52.8" height="52.9" fill="none" stroke="#ff0000" stroke-width="1.6"/>
<line x1="1747.4" y1="237.5" x2="1800.2" y2="237.5" stroke="#ff0000" stroke-width="1.6"/>
<rect x="1771.2" y="229.5" width="3.6" height="3.6" fill="#fff" stroke="#ff0000" stroke-width="1"/>
<path d="M1768.4 153.5L1773.4 148.7L1778.4 153.5L1773.4 158.3Z" fill="#ff0000"/>
<path d="M1782 212.3L1786.4 208.08L1790.8 212.3L1786.4 216.52Z" fill="#ff0000"/>
<path d="M1755.6 237.5L1760.4 232.89L1765.2 237.5L1760.4 242.11Z" fill="#ff0000"/>
<path d="M1768.6 264.8L1773.4 260.19L1778.2 264.8L1773.4 269.41Z" fill="#ff0000"/>
<path d="M1768.4 288.8L1773.4 284L1778.4 288.8L1773.4 293.6Z" fill="#ff0000"/>
<rect x="1877.1" y="142.3" width="53.2" height="4" fill="none" stroke="#0000ff" stroke-width="1.8"/>
<path d="M1882.1 142.3L1886.1 138.46L1890.1 142.3L1886.1 146.14Z" fill="#0000ff"/>
<path d="M1898.3 141.9L1903.3 137.1L1908.3 141.9L1903.3 146.7Z" fill="#0000ff"/>
<path d="M1898.3 146.5L1903.3 141.7L1908.3 146.5L1903.3 151.3Z" fill="#0000ff"/>
<path d="M1917.3 143.5L1921.7 139.28L1926.1 143.5L1921.7 147.72Z" fill="#0000ff"/>
<rect x="1616" y="435.3" width="53.3" height="19.6" fill="none" stroke="#000000" stroke-width="1.6"/>
<line x1="1616" y1="451.9" x2="1669.3" y2="451.9" stroke="#000000" stroke-width="1.6"/>
<rect x="1641.1" y="444.5" width="3.6" height="3.6" fill="#fff" stroke="#000000" stroke-width="1"/>
<path d="M1638.7 435.9L1643.3 431.48L1647.9 435.9L1643.3 440.32Z" fill="#000000"/>
<path d="M1625.6 451.9L1630 447.68L1634.4 451.9L1630 456.12Z" fill="#000000"/>
<path d="M1652.1 454.9L1656.5 450.68L1660.9 454.9L1656.5 459.12Z" fill="#000000"/>
<line x1="1641.6" y1="452" x2="1641.6" y2="456.5" stroke="#000000" stroke-width="1"/>
<line x1="1644.4" y1="452" x2="1644.4" y2="456.5" stroke="#000000" stroke-width="1"/>
<rect x="1747.4" y="539.8" width="52.8" height="48" fill="none" stroke="#ff0000" stroke-width="1.6"/>
<line x1="1747.4" y1="576.4" x2="1800.2" y2="576.4" stroke="#ff0000" stroke-width="1.6"/>
<path d="M1771.2 583.7L1774.8 587.3M1771.2 587.3L1774.8 583.7" stroke="#ff0000" stroke-width="0.9" fill="none"/>
<rect x="1771.2" y="565.4" width="3.6" height="3.6" fill="#fff" stroke="#ff0000" stroke-width="1"/>
<path d="M1769.4 539.8L1773.8 535.58L1778.2 539.8L1773.8 544.02Z" fill="#ff0000"/>
<path d="M1755.6 575.8L1760.4 571.19L1765.2 575.8L1760.4 580.41Z" fill="#ff0000"/>
<path d="M1781.4 586.8L1786.4 582L1791.4 586.8L1786.4 591.6Z" fill="#ff0000"/>
<rect x="1877.1" y="523.9" width="53.2" height="41.5" fill="none" stroke="#0000ff" stroke-width="1.6"/>
<line x1="1877.1" y1="551.2" x2="1930.3" y2="551.2" stroke="#0000ff" stroke-width="1.6"/>
<rect x="1901.9" y="544" width="3.6" height="3.6" fill="#fff" stroke="#0000ff" stroke-width="1"/>
<path d="M1898.9 523.5L1903.7 518.89L1908.5 523.5L1903.7 528.11Z" fill="#0000ff"/>
<path d="M1899.1 551.2L1903.7 546.78L1908.3 551.2L1903.7 555.62Z" fill="#0000ff"/>
<path d="M1899.1 565.4L1903.7 560.98L1908.3 565.4L1903.7 569.82Z" fill="#0000ff"/>
<line x1="1642.9" y1="848.5" x2="1642.9" y2="840.3" stroke="#000000" stroke-width="1.6"/>
<line x1="1636.9" y1="840.3" x2="1648.9" y2="840.3" stroke="#000000" stroke-width="1.6"/>
<line x1="1642.9" y1="858.3" x2="1642.9" y2="867.9" stroke="#000000" stroke-width="1.6"/>
<line x1="1636.9" y1="867.9" x2="1648.9" y2="867.9" stroke="#000000" stroke-width="1.6"/>
<rect x="1616" y="848.5" width="53.3" height="9.8" fill="none" stroke="#000000" stroke-width="1.6"/>
<line x1="1616" y1="850.9" x2="1669.3" y2="850.9" stroke="#000000" stroke-width="1.6"/>
<path d="M1641.1 838.2L1644.7 841.8M1641.1 841.8L1644.7 838.2" stroke="#000000" stroke-width="0.9" fill="none"/>
<path d="M1641.1 866.2L1644.7 869.8M1641.1 869.8L1644.7 866.2" stroke="#000000" stroke-width="0.9" fill="none"/>
<path d="M1621.4 847.5L1626 843.08L1630.6 847.5L1626 851.92Z" fill="#000000"/>
<path d="M1656.1 841.5L1660.9 836.89L1665.7 841.5L1660.9 846.11Z" fill="#000000"/>
<path d="M1638.1 851.9L1642.9 847.29L1647.7 851.9L1642.9 856.51Z" fill="#000000"/>
<path d="M1629.6 857.9L1634.4 853.29L1639.2 857.9L1634.4 862.51Z" fill="#000000"/>
<path d="M1646.9 867.9L1651.9 863.1L1656.9 867.9L1651.9 872.7Z" fill="#000000"/>
<line x1="1773.4" y1="894.5" x2="1773.4" y2="876.9" stroke="#ff0000" stroke-width="1.6"/>
<line x1="1767.1" y1="876.9" x2="1779.7" y2="876.9" stroke="#ff0000" stroke-width="1.6"/>
<line x1="1773.4" y1="929.4" x2="1773.4" y2="951.8" stroke="#ff0000" stroke-width="1.6"/>
<line x1="1767.1" y1="951.8" x2="1779.7" y2="951.8" stroke="#ff0000" stroke-width="1.6"/>
<rect x="1747.4" y="894.5" width="52.8" height="34.9" fill="none" stroke="#ff0000" stroke-width="1.6"/>
<line x1="1747.4" y1="913.3" x2="1800.2" y2="913.3" stroke="#ff0000" stroke-width="1.6"/>
<rect x="1771.6" y="911.1" width="3.6" height="3.6" fill="#fff" stroke="#ff0000" stroke-width="1"/>
<path d="M1768.4 876.5L1773.4 871.7L1778.4 876.5L1773.4 881.3Z" fill="#ff0000"/>
<path d="M1755.6 893.9L1760.4 889.29L1765.2 893.9L1760.4 898.51Z" fill="#ff0000"/>
<path d="M1782 913.3L1786.8 908.69L1791.6 913.3L1786.8 917.91Z" fill="#ff0000"/>
<path d="M1768.8 929.4L1773.4 924.98L1778 929.4L1773.4 933.82Z" fill="#ff0000"/>
<path d="M1768.4 951.8L1773.4 947L1778.4 951.8L1773.4 956.6Z" fill="#ff0000"/>
<rect x="1877.1" y="846.9" width="53.2" height="13" fill="none" stroke="#0000ff" stroke-width="1.6"/>
<line x1="1877.1" y1="855.9" x2="1930.3" y2="855.9" stroke="#0000ff" stroke-width="1.6"/>
<path d="M1898.7 807.4L1903.7 802.6L1908.7 807.4L1903.7 812.2Z" fill="#0000ff"/>
<path d="M1899.1 846.9L1903.7 842.48L1908.3 846.9L1903.7 851.32Z" fill="#0000ff"/>
<path d="M1886.3 854.9L1890.7 850.68L1895.1 854.9L1890.7 859.12Z" fill="#0000ff"/>
<path d="M1911.7 859.9L1916.1 855.68L1920.5 859.9L1916.1 864.12Z" fill="#0000ff"/>
<path d="M1898.9 923.2L1903.7 918.59L1908.5 923.2L1903.7 927.81Z" fill="#0000ff"/>
<path d="M1901.3 857.8L1903.7 855.5L1906.1 857.8L1903.7 860.1Z" fill="#0000ff"/>
<polyline points="63.59,343.74 64.69,343.74 64.69,337.98 65.79,337.98 65.79,334.91 66.89,334.91 66.89,330.82 67.99,330.82 67.99,329.54 68.98,329.54 68.98,331.13 70.19,331.13 70.19,323.69 70.98,323.69 70.98,320.36 71.29,320.36 71.29,319.05 72.39,319.05 72.39,313.26 72.98,313.26 72.98,310.03 73.49,310.03 73.49,308.39 74.59,308.39 74.59,302.32 74.98,302.32 74.98,301.55 75.69,301.55 75.69,299.4 76.79,299.4 76.79,300.4 77.89,300.4 77.89,296.86 78.97,296.86 78.97,298.53 80.09,298.53 80.09,303.09 81.19,303.09 81.19,309.31 81.97,309.31 81.97,311.5 82.29,311.5 82.29,311.04 83.39,311.04 83.39,311.66 83.97,311.66 83.97,308.68 84.49,308.68 84.49,307.26 85.59,307.26 85.59,309.43 85.96,309.43 85.96,308.03 86.69,308.03 86.69,303.63 87.79,303.63 87.79,301.91 88.89,301.91 88.89,304.46 89.96,304.46 89.96,305.14 91.09,305.14 91.09,307.03 91.96,307.03 91.96,307.79 93.29,307.79 93.29,305.07 94.36,305.07 94.36,304.01 95.49,304.01 95.49,297.16 96.35,297.16 96.35,294.14 97.69,294.14 97.69,284.24 98.79,284.24 98.79,285.84 99.89,285.84 99.89,292.38 100.99,292.38 100.99,290.75 102.09,290.75 102.09,289.7 103.19,289.7 103.19,293.45 104.29,293.45 104.29,297.58 105.39,297.58 105.39,299.82 106.49,299.82 106.49,300.98 106.94,300.98 106.94,304.16 107.59,304.16 107.59,303.65 108.69,303.65 108.69,300.63 109.79,300.63 109.79,295.42 110.89,295.42 110.89,289.77 111.94,289.77 111.94,285.49 113.09,285.49 113.09,280.23 114.19,280.23 114.19,274.51 114.94,274.51 114.94,269.11 115.29,269.11 115.29,266.1 116.39,266.1 116.39,257.68 116.93,257.68 116.93,253.83 117.49,253.83 117.49,251.5 118.59,251.5 118.59,244.15 118.93,244.15 118.93,240.91 119.69,240.91 119.69,242.13 120.79,242.13 120.79,239.97 121.89,239.97 121.89,245.69 122.93,245.69 122.93,251.3 124.09,251.3 124.09,256.83 125.19,256.83 125.19,261.87 125.52,261.87 125.52,264.43 126.29,264.43 126.29,265.2 127.39,265.2 127.39,270.01 127.92,270.01 127.92,271.08 128.49,271.08 128.49,273.54 129.59,273.54 129.59,273.72 130.32,273.72 130.32,276.06 130.69,276.06 130.69,274.47 131.79,274.47 131.79,270.56 132.32,270.56 132.32,266.89 132.89,266.89 132.89,261.8 133.92,261.8 133.92,251.3 135.09,251.3 135.09,244.03 135.91,244.03 135.91,239.73 137.29,239.73 137.29,244.94 138.39,244.94 138.39,251.66 138.91,251.66 138.91,256.8 139.49,256.8 139.49,257.96 140.59,257.96 140.59,265.46 140.91,265.46 140.91,265.74 141.69,265.74 141.69,265.39 142.79,265.39 142.79,268.48 143.89,268.48 143.89,261.34 144.91,261.34 144.91,251.1 146.09,251.1 146.09,237.8 146.5,237.8 146.5,234.26 147.19,234.26 147.19,231.5 147.9,231.5 147.9,229.2 148.29,229.2 148.29,229.48 149.39,229.48 149.39,233.54 150.49,233.54 150.49,238.41 151.59,238.41 151.59,242.88 151.9,242.88 151.9,243.41 152.69,243.41 152.69,244.71 153.79,244.71 153.79,245.97 154.89,245.97 154.89,249.58 155.99,249.58 155.99,254.31 156.89,254.31 156.89,256.84 158.19,256.84 158.19,259.65 159.29,259.65 159.29,260.57 160.39,260.57 160.39,263.31 161.49,263.31 161.49,265.11 161.89,265.11 161.89,266.2 162.59,266.2 162.59,265.98 163.69,265.98 163.69,269.83 164.79,269.83 164.79,271.57 165.89,271.57 165.89,273.11 166.88,273.11 166.88,277.26 168.09,277.26 168.09,283.76 168.88,283.76 168.88,285.48 169.19,285.48 169.19,286.4 170.29,286.4 170.29,281.98 170.88,281.98 170.88,280.39 171.39,280.39 171.39,277.59 172.49,277.59 172.49,269.5 172.88,269.5 172.88,267.31 173.59,267.31 173.59,264.72 174.69,264.72 174.69,262.89 175.79,262.89 175.79,267.78 176.27,267.78 176.27,269.17 176.89,269.17 176.89,277.52 177.87,277.52 177.87,287.82 179.09,287.82 179.09,296.83 179.87,296.83 179.87,303.61 180.19,303.61 180.19,304.92 181.29,304.92 181.29,301.57 181.87,301.57 181.87,300.24 182.39,300.24 182.39,300.88 183.49,300.88 183.49,299.81 184.59,299.81 184.59,297.64 185.69,297.64 185.69,291.49 186.79,291.49 186.79,285.88 187.86,285.88 187.86,280.78 188.99,280.78 188.99,265.04 189.86,265.04 189.86,252.14 191.19,252.14 191.19,223.83 191.86,223.83 191.86,209.73 192.29,209.73 192.29,182.39 193.3,182.39 193.3,130.07 194.49,130.07 194.49,106.04 195.59,106.04 195.59,106.96 196,106.96 196,107.16 196.69,107.16 196.69,102.64 197,102.64 197,72.24 197.6,72.24 197.6,70.4 198.3,70.4 198.3,72.28 198.89,72.28 198.89,104.7 199.3,104.7 199.3,107.9 199.7,107.9 199.7,111.25 200.3,111.25 200.3,149.76 200.9,149.76 200.9,194.75 202,194.75 202,240.34 203.29,240.34 203.29,275.84 204.39,275.84 204.39,286.33 205.49,286.33 205.49,293.86 205.84,293.86 205.84,295.12 206.59,295.12 206.59,294.78 207.69,294.78 207.69,294.15 208.79,294.15 208.79,291.67 209.89,291.67 209.89,288.1 210.99,288.1 210.99,285.6 211.84,285.6 211.84,283.34 213.19,283.34 213.19,273.44 213.84,273.44 213.84,267.22 214.29,267.22 214.29,262.93 215.39,262.93 215.39,254.68 215.83,254.68 215.83,252.16 216.49,252.16 216.49,248.85 217.59,248.85 217.59,242.04 218.69,242.04 218.69,240.88 219.79,240.88 219.79,237.79 220.89,237.79 220.89,241.65 221.83,241.65 221.83,247.65 223.09,247.65 223.09,257.73 223.83,257.73 223.83,263.21 224.19,263.21 224.19,267.04 225.29,267.04 225.29,275.17 225.82,275.17 225.82,279.29 226.39,279.29 226.39,282.54 227.49,282.54 227.49,291.05 227.82,291.05 227.82,290.96 228.59,290.96 228.59,294.97 229.69,294.97 229.69,300.32 230.79,300.32 230.79,301.98 231.82,301.98 231.82,304.47 232.99,304.47 232.99,300.99 234.09,300.99 234.09,300.85 234.82,300.85 234.82,298.03 235.19,298.03 235.19,298.72 236.29,298.72 236.29,296.61 237.39,296.61 237.39,297.45 237.81,297.45 237.81,298.1 238.49,298.1 238.49,296.86 239.59,296.86 239.59,291.31 240.69,291.31 240.69,288 241.79,288 241.79,288.21 242.81,288.21 242.81,286.95 243.99,286.95 243.99,285.86 245.09,285.86 245.09,287.37 245.8,287.37 245.8,288.58 246.19,288.58 246.19,287.9 247.29,287.9 247.29,289.49 248.39,289.49 248.39,290.36 248.8,290.36 248.8,291.28 249.49,291.28 249.49,291.83 250.59,291.83 250.59,294.21 251.69,294.21 251.69,292.53 252.79,292.53 252.79,292.68 253.89,292.68 253.89,293.53 254.8,293.53 254.8,295.77 256.09,295.77 256.09,290.19 256.79,290.19 256.79,287.33 257.19,287.33 257.19,287.14 258.29,287.14 258.29,289.52 258.79,289.52 258.79,291.78 259.39,291.78 259.39,293.06 260.49,293.06 260.49,296.05 260.79,296.05 260.79,299.33 261.59,299.33 261.59,298.37 262.69,298.37 262.69,301.11 263.79,301.11 263.79,300.35 264.89,300.35 264.89,297.37 265.99,297.37 265.99,296.77 266.78,296.77 266.78,295.07 267.09,295.07 267.09,292.92 268.19,292.92 268.19,289.59 268.78,289.59 268.78,290.01 269.29,290.01 269.29,290.93 270.39,290.93 270.39,289.5 271.49,289.5 271.49,289.33 272.59,289.33 272.59,289.4 273.69,289.4 273.69,292.09 274.78,292.09 274.78,293.29 275.89,293.29 275.89,293.68 276.99,293.68 276.99,293.98 277.77,293.98 277.77,294.43 278.09,294.43 278.09,293.63 279.19,293.63 279.19,292.57 280.29,292.57 280.29,287.98 280.77,287.98 280.77,286.96 281.39,286.96 281.39,285.07 282.49,285.07 282.49,284.74 283.59,284.74 283.59,280.71 284.69,280.71 284.69,277.53 285.79,277.53 285.79,279.51 286.76,279.51 286.76,279.05 287.99,279.05 287.99,270.58 288.76,270.58 288.76,263.77 289.09,263.77 289.09,261.2 290.19,261.2 290.19,249.23 290.76,249.23 290.76,243.18 291.29,243.18 291.29,241.93 292.39,241.93 292.39,236.18 292.76,236.18 292.76,232.45 293.49,232.45 293.49,235.09 294.59,235.09 294.59,233.44 295.35,233.44 295.35,235.16 295.69,235.16 295.69,236.98 296.79,236.98 296.79,246.12 297.35,246.12 297.35,251.05 297.89,251.05 297.89,255.51 298.99,255.51 298.99,261.15 299.35,261.15 299.35,263.14 300.09,263.14 300.09,261.24 301.19,261.24 301.19,259.82 301.75,259.82 301.75,260.7 302.29,260.7 302.29,260.18 303.39,260.18 303.39,257.33 304.49,257.33 304.49,258.5 305.59,258.5 305.59,259.23 306.69,259.23 306.69,260.32 307.74,260.32 307.74,261.93 308.89,261.93 308.89,261.34 309.74,261.34 309.74,260.79 311.09,260.79 311.09,254.77 311.74,254.77 311.74,252.25 312.19,252.25 312.19,249.2 313.29,249.2 313.29,243.01 314.39,243.01 314.39,235.74 314.74,235.74 314.74,233.69 315.49,233.69 315.49,230.39 316.59,230.39 316.59,225.96 317.69,225.96 317.69,219.55 318.79,219.55 318.79,216.27 319.89,216.27 319.89,210.09 320.73,210.09 320.73,206.77 322.09,206.77 322.09,204.17 323.19,204.17 323.19,202.9 323.73,202.9 323.73,200.68 324.29,200.68 324.29,199.48 325.39,199.48 325.39,198.44 326.49,198.44 326.49,198.45 327.59,198.45 327.59,199.87 328.69,199.87 328.69,201.45 329.79,201.45 329.79,196.74 330.72,196.74 330.72,194.66 331.99,194.66 331.99,203.49 333.09,203.49 333.09,218 333.72,218 333.72,227.03 334.19,227.03 334.19,228.98 335.29,228.98 335.29,236.22 335.71,236.22 335.71,238.92 336.39,238.92 336.39,241.65 337.49,241.65 337.49,243.96 338.59,243.96 338.59,247.48 339.69,247.48 339.69,249.92 340.79,249.92 340.79,251.38 341.71,251.38 341.71,253.24 342.99,253.24 342.99,250.31 344.09,250.31 344.09,250.44 344.71,250.44 344.71,252.93 345.19,252.93 345.19,253.38 346.29,253.38 346.29,255.09 347.39,255.09 347.39,259.76 347.7,259.76 347.7,259.79 348.49,259.79 348.49,262.62 349.59,262.62 349.59,265.55 350.69,265.55 350.69,268.81 351.79,268.81 351.79,269.53 352.89,269.53 352.89,272.84 353.7,272.84 353.7,275.09 355.09,275.09 355.09,277.95 356.19,277.95 356.19,278.65 356.69,278.65 356.69,279.24 357.29,279.24 357.29,277.68 358.39,277.68 358.39,276.99 359.29,276.99 359.29,278.97 360.59,278.97 360.59,274.21 361.69,274.21 361.69,270.6 362.79,270.6 362.79,265.34 363.89,265.34 363.89,262.71 364.69,262.71 364.69,261.65 364.99,261.65 364.99,262.54 366.09,262.54 366.09,262.42 367.19,262.42 367.19,261.53 367.68,261.53 367.68,259.62 368.29,259.62 368.29,258.93 369.39,258.93 369.39,260.08 370.49,260.08 370.49,260.24 371.59,260.24 371.59,258.87 372.69,258.87 372.69,258.08 373.68,258.08 373.68,260.07 374.89,260.07 374.89,260.88 375.99,260.88 375.99,260.91 376.67,260.91 376.67,261.05 377.09,261.05 377.09,262.18 378.19,262.18 378.19,265.65 379.27,265.65 379.27,266.96 380.39,266.96 380.39,272.4 381.49,272.4 381.49,278.58 382.59,278.58 382.59,279.18 383.69,279.18 383.69,277.09 384.07,277.09 384.07,277.52 384.79,277.52 384.79,272.12 385.89,272.12 385.89,267.12 386.66,267.12 386.66,262.22 386.99,262.22 386.99,259.77 388.09,259.77 388.09,257.09 389.19,257.09 389.19,253.79 389.66,253.79 389.66,252.12 390.29,252.12 390.29,251.05 391.39,251.05 391.39,249.89 392.49,249.89 392.49,249.25 393.59,249.25 393.59,249.73 394.69,249.73 394.69,245.54 395.65,245.54 395.65,243.86 396.89,243.86 396.89,239.64 397.99,239.64 397.99,234.96 398.65,234.96 398.65,233.5 399.09,233.5 399.09,229.88 400.19,229.88 400.19,222.44 400.65,222.44 400.65,219.55 401.29,219.55 401.29,208.52 402.1,208.52 402.1,195.47 403.2,195.47 403.2,174.83 404.1,174.83 404.1,154.66 404.59,154.66 404.59,147.11 405,147.11 405,139.89 405.69,139.89 405.69,131.08 406.5,131.08 406.5,123.27 407.3,123.27 407.3,118.38 407.89,118.38 407.89,119.75 408.4,119.75 408.4,118.2 408.99,118.2 408.99,119.09 409.3,119.09 409.3,121.54 409.8,121.54 409.8,128.9 410.3,128.9 410.3,135.36 411.19,135.36 411.19,149.22 412.1,149.22 412.1,166.74 413.39,166.74 413.39,181.26 414.49,181.26 414.49,193.55 415.59,193.55 415.59,203.29 416.2,203.29 416.2,209.37 416.69,209.37 416.69,214.98 417.7,214.98 417.7,225.08 418.89,225.08 418.89,234.78 419.2,234.78 419.2,237 419.99,237 419.99,243.51 420.7,243.51 420.7,246.91 421.09,246.91 421.09,250.61 422.19,250.61 422.19,256.23 422.84,256.23 422.84,260.36 423.29,260.36 423.29,261.75 424.39,261.75 424.39,267.26 424.74,267.26 424.74,268.74 425.49,268.74 425.49,267.57 426.59,267.57 426.59,268.91 427.69,268.91 427.69,274.93 428.79,274.93 428.79,278.25 429.88,278.25 429.88,281.81 430.99,281.81 430.99,283.65 432.09,283.65 432.09,285.71 433.19,285.71 433.19,285.93 434.29,285.93 434.29,286.95 435.21,286.95 435.21,287.6 436.49,287.6 436.49,290.62 437.59,290.62 437.59,291.21 438.07,291.21 438.07,289.84 438.69,289.84 438.69,291.02 439.79,291.02 439.79,289.89 440.54,289.89 440.54,286.42 440.89,286.42 440.89,286.26 441.99,286.26 441.99,279.8 442.83,279.8 442.83,275.25 444.19,275.25 444.19,265.33 444.73,265.33 444.73,262.05 445.29,262.05 445.29,257.06 446.39,257.06 446.39,249.16 447.49,249.16 447.49,242.42 448.54,242.42 448.54,236.98 449.69,236.98 449.69,230.59 450.44,230.59 450.44,227.05 450.79,227.05 450.79,228.33 451.89,228.33 451.89,224.93 452.35,224.93 452.35,224.21 452.99,224.21 452.99,224.4 454.09,224.4 454.09,225.38 454.63,225.38 454.63,222.57 455.19,222.57 455.19,223.51 456.29,223.51 456.29,228.52 457.39,228.52 457.39,234.65 458.44,234.65 458.44,240.63 459.59,240.63 459.59,246.8 460.34,246.8 460.34,250.7 460.69,250.7 460.69,251.97 461.79,251.97 461.79,260.64 462.25,260.64 462.25,263.06 462.89,263.06 462.89,267.5 463.77,267.5 463.77,274.4 465.09,274.4 465.09,281.12 465.67,281.12 465.67,285.19 466.19,285.19 466.19,288.31 467.29,288.31 467.29,289.49 467.96,289.49 467.96,292.94 468.39,292.94 468.39,291.92 469.49,291.92 469.49,295.08 470.43,295.08 470.43,295.81 471.69,295.81 471.69,293.7 472.34,293.7 472.34,291.81 472.79,291.81 472.79,291.23 473.89,291.23 473.89,295.36 474.24,295.36 474.24,296.21 474.99,296.21 474.99,297.24 476.09,297.24 476.09,297.67 477.19,297.67 477.19,299.17 478.05,299.17 478.05,296.85 479.39,296.85 479.39,300 480.49,300 480.49,303.55 481.59,303.55 481.59,305.05 482.69,305.05 482.69,304.69 483.79,304.69 483.79,305.17 484.89,305.17 484.89,307.06 485.66,307.06 485.66,305.98 485.99,305.98 485.99,308.06 487.09,308.06 487.09,306.5 488.19,306.5 488.19,310.33 488.52,310.33 488.52,310.13 489.29,310.13 489.29,310.81 490.39,310.81 490.39,312.82 490.8,312.82 490.8,310.39 491.49,310.39 491.49,307.38 492.59,307.38 492.59,303.77 493.69,303.77 493.69,302.24 494.23,302.24 494.23,300.65 494.79,300.65 494.79,303.64 495.89,303.64 495.89,307.84 496.99,307.84 496.99,307.87 498.04,307.87 498.04,304.84 499.19,304.84 499.19,302.72 499.94,302.72 499.94,301.69 500.29,301.69 500.29,300.85 501.39,300.85 501.39,301.93 501.85,301.93 501.85,302.72" fill="none" stroke="#ff0000" stroke-width="2.5" stroke-linejoin="miter"/>
<polyline points="57.99,293.79 59.09,293.79 59.09,293.57 60.19,293.57 60.19,293.91 60.99,293.91 60.99,292.91 61.29,292.91 61.29,293.08 62.39,293.08 62.39,293.94 63.49,293.94 63.49,293.99 63.99,293.99 63.99,294.79 64.59,294.79 64.59,293.82 65.69,293.82 65.69,291.92 66.79,291.92 66.79,288.7 67.89,288.7 67.89,286.92 68.99,286.92 68.99,284.76 69.98,284.76 69.98,284.06 71.19,284.06 71.19,283.63 72.29,283.63 72.29,281.88 72.98,281.88 72.98,282.69 73.39,282.69 73.39,283.05 74.49,283.05 74.49,282.03 75.59,282.03 75.59,281.34 75.97,281.34 75.97,280.52 76.69,280.52 76.69,279.82 77.79,279.82 77.79,280.7 78.89,280.7 78.89,279.98 79.99,279.98 79.99,282.25 80.97,282.25 80.97,284.54 82.19,284.54 82.19,285.6 83.29,285.6 83.29,287.72 83.97,287.72 83.97,288.76 84.39,288.76 84.39,289.83 85.49,289.83 85.49,290.52 86.59,290.52 86.59,291.75 86.96,291.75 86.96,291.88 87.69,291.88 87.69,293.1 88.79,293.1 88.79,294.27 89.89,294.27 89.89,295.38 90.99,295.38 90.99,293.74 92.09,293.74 92.09,291.01 92.96,291.01 92.96,288.25 94.29,288.25 94.29,284.73 95.39,284.73 95.39,281.18 95.95,281.18 95.95,279.6 96.49,279.6 96.49,279.04 97.59,279.04 97.59,277.91 98.69,277.91 98.69,278.34 99.79,278.34 99.79,273.6 100.89,273.6 100.89,268.56 101.99,268.56 101.99,264.81 102.35,264.81 102.35,264.26 103.09,264.26 103.09,269.04 103.95,269.04 103.95,273.6 105.29,273.6 105.29,274.63 105.94,274.63 105.94,276.22 106.39,276.22 106.39,273.71 107.49,273.71 107.49,268.72 107.94,268.72 107.94,265.87 108.59,265.87 108.59,262.72 109.69,262.72 109.69,258.93 110.79,258.93 110.79,256.62 111.89,256.62 111.89,253.71 112.94,253.71 112.94,251.47 114.09,251.47 114.09,242.35 114.94,242.35 114.94,236.14 116.29,236.14 116.29,222.64 117.39,222.64 117.39,214.05 117.93,214.05 117.93,210.72 118.49,210.72 118.49,214.03 119.33,214.03 119.33,219.57 120.33,219.57 120.33,233.96 120.69,233.96 120.69,236.79 121.79,236.79 121.79,246.7 122.89,246.7 122.89,251.03 123.99,251.03 123.99,254.33 124.93,254.33 124.93,258.02 126.19,258.02 126.19,259.89 127.29,259.89 127.29,262.73 127.92,262.73 127.92,263.53 128.39,263.53 128.39,263.85 129.49,263.85 129.49,264.09 129.92,264.09 129.92,264.56 130.59,264.56 130.59,262.33 131.69,262.33 131.69,257.38 132.79,257.38 132.79,247.07 133.89,247.07 133.89,236.47 134.99,236.47 134.99,224.96 135.51,224.96 135.51,219.84 136.09,219.84 136.09,219.2 136.91,219.2 136.91,217.11 138.29,217.11 138.29,223.4 139.39,223.4 139.39,235.06 139.91,235.06 139.91,239.79 140.49,239.79 140.49,245.47 141.51,245.47 141.51,256 142.69,256 142.69,259.23 143.51,259.23 143.51,261.68 144.89,261.68 144.89,258.82 145.9,258.82 145.9,257.4 147.09,257.4 147.09,253.87 148.19,253.87 148.19,249.89 148.9,249.89 148.9,247.93 149.29,247.93 149.29,246.92 150.39,246.92 150.39,244.8 150.9,244.8 150.9,244.31 151.49,244.31 151.49,245.19 152.59,245.19 152.59,247.42 152.9,247.42 152.9,248.25 153.69,248.25 153.69,251.61 154.79,251.61 154.79,256.9 155.89,256.9 155.89,256.43 156.89,256.43 156.89,254.25 158.09,254.25 158.09,245.35 158.89,245.35 158.89,239.69 159.19,239.69 159.19,239.79 160.29,239.79 160.29,238.37 161.39,238.37 161.39,241.79 161.89,241.79 161.89,244.22 162.49,244.22 162.49,248.92 163.49,248.92 163.49,256.01 164.69,256.01 164.69,260.64 165.48,260.64 165.48,263.56 165.79,263.56 165.79,263.55 166.89,263.55 166.89,266.79 167.88,266.79 167.88,267.69 169.09,267.69 169.09,258.94 169.48,258.94 169.48,255.75 170.19,255.75 170.19,240.6 170.68,240.6 170.68,229.96 171.29,229.96 171.29,214.51 171.88,214.51 171.88,199.84 172.39,199.84 172.39,186.13 172.88,186.13 172.88,172.86 173.49,172.86 173.49,171.85 173.88,171.85 173.88,171.97 174.59,171.97 174.59,184.13 175.07,184.13 175.07,192.02 175.69,192.02 175.69,206.26 176.27,206.26 176.27,220.04 176.79,220.04 176.79,230.16 177.87,230.16 177.87,251.71 178.99,251.71 178.99,265.09 179.87,265.09 179.87,275.81 181.19,275.81 181.19,279.88 181.87,279.88 181.87,282.52 182.29,282.52 182.29,282.68 183.39,282.68 183.39,283.55 184.27,283.55 184.27,283.46 185.59,283.46 185.59,278.24 186.26,278.24 186.26,276.13 186.69,276.13 186.69,269.86 187.79,269.86 187.79,253.13 188.89,253.13 188.89,228.48 189.26,228.48 189.26,219.96 189.99,219.96 189.99,195.42 190.46,195.42 190.46,179.84 191.09,179.84 191.09,167 191.86,167 191.86,152.09 192.19,152.09 192.19,150.59 193.29,150.59 193.29,145.43 194.39,145.43 194.39,151.68 194.86,151.68 194.86,156.02 195.49,156.02 195.49,166.9 196.25,166.9 196.25,180.05 196.59,180.05 196.59,185.37 197.69,185.37 197.69,203.64 198.79,203.64 198.79,219.8 199.85,219.8 199.85,235.9 200.99,235.9 200.99,249.79 201.85,249.79 201.85,260.09 203.19,260.09 203.19,270.27 204.25,270.27 204.25,278.02 205.39,278.02 205.39,280.58 206.49,280.58 206.49,282.93 206.84,282.93 206.84,282.81 207.59,282.81 207.59,283.2 208.69,283.2 208.69,283.69 209.44,283.69 209.44,283.39 209.79,283.39 209.79,281.32 210.89,281.32 210.89,276.58 211.84,276.58 211.84,272.18 213.09,272.18 213.09,250.08 213.44,250.08 213.44,243.96 214.19,243.96 214.19,220.13 214.84,220.13 214.84,199.96 215.29,199.96 215.29,181.71 215.83,181.71 215.83,159.9 216.39,159.9 216.39,151.12 216.83,151.12 216.83,144.2 217.49,144.2 217.49,148.26 218.23,148.26 218.23,152.2 218.59,152.2 218.59,160.41 219.43,160.41 219.43,180.03 220.79,180.03 220.79,205.32 221.89,205.32 221.89,221.09 222.23,221.09 222.23,226.05 222.99,226.05 222.99,232.45 224.09,232.45 224.09,242.86 225.19,242.86 225.19,249.36 226.29,249.36 226.29,256.63 226.82,256.63 226.82,259.87 227.39,259.87 227.39,261.4 228.49,261.4 228.49,265.64 229.59,265.64 229.59,269.15 230.69,269.15 230.69,271.8 231.79,271.8 231.79,274.5 232.82,274.5 232.82,275.72 233.99,275.72 233.99,276.57 235.09,276.57 235.09,278.4 235.81,278.4 235.81,279.98 236.19,279.98 236.19,279.62 237.29,279.62 237.29,280.16 238.39,280.16 238.39,282.16 238.81,282.16 238.81,282.1 239.49,282.1 239.49,281.83 240.59,281.83 240.59,282.6 241.69,282.6 241.69,281.68 242.79,281.68 242.79,281.8 243.89,281.8 243.89,280.66 244.81,280.66 244.81,280.72 246.09,280.72 246.09,283.24 246.8,283.24 246.8,284.31 247.19,284.31 247.19,285.71 248.29,285.71 248.29,288.3 248.8,288.3 248.8,289.92 249.39,289.92 249.39,286.7 250.49,286.7 250.49,280.92 250.8,280.92 250.8,279.8 251.59,279.8 251.59,277.52 252.69,277.52 252.69,273.79 253.79,273.79 253.79,272.64 254.2,272.64 254.2,272.4 254.89,272.4 254.89,273.46 255.79,273.46 255.79,275.55 257.09,275.55 257.09,271.64 257.39,271.64 257.39,270.66 258.19,270.66 258.19,273.27 258.79,273.27 258.79,275.74 259.29,275.74 259.29,280.23 260.19,280.23 260.19,287.86 261.49,287.86 261.49,291.5 262.19,291.5 262.19,294.1 262.59,294.1 262.59,294.47 263.69,294.47 263.69,292.79 264.79,292.79 264.79,291.41 265.89,291.41 265.89,289.11 266.99,289.11 266.99,288.59 267.78,288.59 267.78,286.46 268.09,286.46 268.09,286.77 269.19,286.77 269.19,285.61 270.29,285.61 270.29,284.05 270.78,284.05 270.78,284.12 271.39,284.12 271.39,282.51 272.49,282.51 272.49,281.37 273.59,281.37 273.59,280.81 274.69,280.81 274.69,277.96 275.79,277.96 275.79,276.5 276.77,276.5 276.77,273.67 277.99,273.67 277.99,269.55 279.09,269.55 279.09,265.98 280.19,265.98 280.19,264.16 280.77,264.16 280.77,262.83 281.29,262.83 281.29,264.9 282.17,264.9 282.17,268.02 283.49,268.02 283.49,276.53 284.59,276.53 284.59,279.92 285.69,279.92 285.69,281.22 286.79,281.22 286.79,275.95 287.76,275.95 287.76,271.82 288.99,271.82 288.99,259.27 289.36,259.27 289.36,255.59 290.09,255.59 290.09,247.41 290.76,247.41 290.76,239.99 291.19,239.99 291.19,238.23 292.16,238.23 292.16,235.66 293.39,235.66 293.39,243.37 293.76,243.37 293.76,245.99 294.49,245.99 294.49,250.36 295.59,250.36 295.59,257.05 296.69,257.05 296.69,258.99 297.79,258.99 297.79,259.15 298.75,259.15 298.75,260.18 299.99,260.18 299.99,259.44 300.75,259.44 300.75,257.55 301.09,257.55 301.09,260.01 302.19,260.01 302.19,265.44 302.75,265.44 302.75,267.65 303.29,267.65 303.29,269.92 304.39,269.92 304.39,274.59 305.49,274.59 305.49,279.41 306.59,279.41 306.59,281.91 307.69,281.91 307.69,284.82 308.14,284.82 308.14,286.2 308.79,286.2 308.79,285.65 309.74,285.65 309.74,284.37 310.99,284.37 310.99,273.98 311.74,273.98 311.74,267.98 312.09,267.98 312.09,264.68 313.19,264.68 313.19,255.92 314.14,255.92 314.14,248.1 315.39,248.1 315.39,242.34 316.49,242.34 316.49,237.34 317.59,237.34 317.59,234.08 318.69,234.08 318.69,233.2 319.73,233.2 319.73,231.44 320.89,231.44 320.89,231.58 321.99,231.58 321.99,230.43 322.73,230.43 322.73,230.27 323.09,230.27 323.09,228.92 324.19,228.92 324.19,227.12 325.29,227.12 325.29,224.64 326.39,224.64 326.39,217.47 327.32,217.47 327.32,211.64 328.32,211.64 328.32,189.87 329.32,189.87 329.32,155.98 329.69,155.98 329.69,155.66 330.32,155.66 330.32,154.02 330.79,154.02 330.79,166.06 331.32,166.06 331.32,180.02 331.89,180.02 331.89,195.84 332.32,195.84 332.32,207.99 332.99,207.99 332.99,221.25 333.72,221.25 333.72,235.83 334.09,235.83 334.09,239.89 335.19,239.89 335.19,250.39 336.29,250.39 336.29,253.76 337.39,253.76 337.39,256.99 337.71,256.99 337.71,258.07 338.49,258.07 338.49,259.07 339.59,259.07 339.59,259.61 340.69,259.61 340.69,260.76 341.79,260.76 341.79,259.32 342.89,259.32 342.89,259.26 343.71,259.26 343.71,257.54 345.09,257.54 345.09,261.53 345.7,261.53 345.7,263.84 346.19,263.84 346.19,264.86 347.29,264.86 347.29,268.38 348.39,268.38 348.39,271.3 348.7,271.3 348.7,271.92 349.49,271.92 349.49,274 350.59,274 350.59,275.85 351.69,275.85 351.69,277.6 352.79,277.6 352.79,279.07 353.89,279.07 353.89,281.31 354.7,281.31 354.7,282.32 356.09,282.32 356.09,282.42 357.19,282.42 357.19,284.07 357.69,284.07 357.69,284.42 358.29,284.42 358.29,283.69 359.39,283.69 359.39,282.9 360.49,282.9 360.49,281.49 361.59,281.49 361.59,279.4 362.69,279.4 362.69,276.51 363.69,276.51 363.69,273.96 364.89,273.96 364.89,271.13 365.99,271.13 365.99,270.63 366.68,270.63 366.68,268.96 367.09,268.96 367.09,268.52 368.19,268.52 368.19,268.63 368.68,268.63 368.68,268 369.29,268 369.29,269.73 370.39,269.73 370.39,273.28 371.49,273.28 371.49,274.29 372.59,274.29 372.59,276.35 373.68,276.35 373.68,277.77 374.79,277.77 374.79,280.42 375.89,280.42 375.89,282.37 376.67,282.37 376.67,282.73 376.99,282.73 376.99,284.13 378.09,284.13 378.09,288.37 379.19,288.37 379.19,293.33 380.29,293.33 380.29,295.86 381.27,295.86 381.27,297.29 382.49,297.29 382.49,294.92 383.59,294.92 383.59,292.7 384.69,292.7 384.69,290.59 385.79,290.59 385.79,289.38 386.66,289.38 386.66,288.27 387.99,288.27 387.99,279.61 388.66,279.61 388.66,276.02 389.09,276.02 389.09,272.8 390.19,272.8 390.19,266.24 390.66,266.24 390.66,263.64 391.29,263.64 391.29,264.75 392.39,264.75 392.39,265.35 393.49,265.35 393.49,262.3 394.59,262.3 394.59,258.24 395.69,258.24 395.69,254.56 396.79,254.56 396.79,252.41 397.65,252.41 397.65,249.59 398.99,249.59 398.99,249.36 400.09,249.36 400.09,248.6 400.65,248.6 400.65,248.5 401.19,248.5 401.19,248.38 402.29,248.38 402.29,247.44 402.85,247.44 402.85,246.97 403.39,246.97 403.39,241.53 403.8,241.53 403.8,237.6 404.49,237.6 404.49,227.64 405.59,227.64 405.59,213.89 406.69,213.89 406.69,211.59 407.03,211.59 407.03,211.1 407.79,211.1 407.79,217.33 408.18,217.33 408.18,220.67 408.89,220.67 408.89,236.68 409.99,236.68 409.99,253.67 411.09,253.67 411.09,261 411.41,261 411.41,263.43 412.19,263.43 412.19,264.65 413.29,264.65 413.29,265.98 414.39,265.98 414.39,263.81 415.49,263.81 415.49,262.35 415.79,262.35 415.79,262.73 416.59,262.73 416.59,261.81 417.69,261.81 417.69,262.89 418.08,262.89 418.08,262.51 418.79,262.51 418.79,262.56 419.89,262.56 419.89,264.03 420.36,264.03 420.36,265.36 420.99,265.36 420.99,267.71 421.88,267.71 421.88,271.53 423.19,271.53 423.19,276.14 423.79,276.14 423.79,277.55 424.29,277.55 424.29,278.72 425.39,278.72 425.39,279.19 426.49,279.19 426.49,280.92 427.59,280.92 427.59,282.9 428.69,282.9 428.69,283.37 429.5,283.37 429.5,284.81 430.89,284.81 430.89,286.32 431.99,286.32 431.99,287.62 432.36,287.62 432.36,287.69 433.09,287.69 433.09,286.56 434.19,286.56 434.19,287 435.21,287 435.21,287.38 436.39,287.38 436.39,286.41 437.49,286.41 437.49,285.93 438.07,285.93 438.07,284.9 438.59,284.9 438.59,283.38 439.69,283.38 439.69,281.18 440.79,281.18 440.79,278.88 441.89,278.88 441.89,277.45 442.99,277.45 442.99,275.35 443.78,275.35 443.78,273.83 444.09,273.83 444.09,271.8 445.19,271.8 445.19,266.25 445.68,266.25 445.68,263.98 446.29,263.98 446.29,259.26 447.02,259.26 447.02,253.13 447.39,253.13 447.39,250.04 448.49,250.04 448.49,239.63 449.59,239.63 449.59,233.02 450.06,233.02 450.06,231.18 450.69,231.18 450.69,229.61 451.39,229.61 451.39,228.32 451.79,228.32 451.79,228.9 452.89,228.9 452.89,231.74 453.3,231.74 453.3,232.84 453.99,232.84 453.99,235.87 455.09,235.87 455.09,241.02 456.19,241.02 456.19,244.75 457.11,244.75 457.11,249.1 458.39,249.1 458.39,254.64 459.01,254.64 459.01,256.44 459.49,256.44 459.49,258.93 460.59,258.93 460.59,264.81 460.91,264.81 460.91,266.12 461.69,266.12 461.69,268.86 462.79,268.86 462.79,273.15 463.89,273.15 463.89,276.91 464.72,276.91 464.72,279.06 466.09,279.06 466.09,282.69 466.63,282.69 466.63,283.63 467.19,283.63 467.19,282.07 467.96,282.07 467.96,279.84 468.29,279.84 468.29,281.83 469.39,281.83 469.39,288.39 470.49,288.39 470.49,287.12 471.39,287.12 471.39,285.21 472.69,285.21 472.69,286.63 473.67,286.63 473.67,286.59 474.89,286.59 474.89,287.29 475.99,287.29 475.99,289.47 477.09,289.47 477.09,290.29 478.19,290.29 478.19,291.18 478.62,291.18 478.62,291.31 479.29,291.31 479.29,293.61 480.39,293.61 480.39,298.51 481.49,298.51 481.49,300.84 482.59,300.84 482.59,302.42 483.69,302.42 483.69,301.76 484.79,301.76 484.79,300.4 485.09,300.4 485.09,299.44 485.89,299.44 485.89,300.18 486.99,300.18 486.99,299.49 487.57,299.49 487.57,300.16 488.09,300.16 488.09,301.09 489.19,301.09 489.19,302.1 490.04,302.1 490.04,303.99 491.39,303.99 491.39,306.62 492.33,306.62 492.33,308.18 493.59,308.18 493.59,307.07 494.61,307.07 494.61,307.52 495.79,307.52 495.79,308.87 496.89,308.87 496.89,309.53 497.99,309.53 497.99,309.85 499.09,309.85 499.09,309.35 499.56,309.35 499.56,309.05 500.19,309.05 500.19,309.61 501.29,309.61 501.29,311.95 501.85,311.95 501.85,312.09" fill="none" stroke="#000" stroke-width="2.5" stroke-linejoin="miter"/>
<line x1="57.1" y1="343.6" x2="502.7" y2="343.6" stroke="#000" stroke-width="1.8"/>
<line x1="58" y1="343.6" x2="58" y2="350.9" stroke="#000" stroke-width="1.8"/>
<text transform="translate(57.6 368.5) scale(1.02 1)" font-size="15.5" text-anchor="middle" fill="#1f1f1f" stroke="#1f1f1f" stroke-width="0.3">4.5</text>
<line x1="85.74" y1="343.6" x2="85.74" y2="347.9" stroke="#000" stroke-width="1.7"/>
<line x1="113.47" y1="343.6" x2="113.47" y2="350.9" stroke="#000" stroke-width="1.8"/>
<text transform="translate(113.07 368.5) scale(1.02 1)" font-size="15.5" text-anchor="middle" fill="#1f1f1f" stroke="#1f1f1f" stroke-width="0.3">4.0</text>
<line x1="141.21" y1="343.6" x2="141.21" y2="347.9" stroke="#000" stroke-width="1.7"/>
<line x1="168.95" y1="343.6" x2="168.95" y2="350.9" stroke="#000" stroke-width="1.8"/>
<text transform="translate(168.55 368.5) scale(1.02 1)" font-size="15.5" text-anchor="middle" fill="#1f1f1f" stroke="#1f1f1f" stroke-width="0.3">3.5</text>
<line x1="196.69" y1="343.6" x2="196.69" y2="347.9" stroke="#000" stroke-width="1.7"/>
<line x1="224.43" y1="343.6" x2="224.43" y2="350.9" stroke="#000" stroke-width="1.8"/>
<text transform="translate(224.03 368.5) scale(1.02 1)" font-size="15.5" text-anchor="middle" fill="#1f1f1f" stroke="#1f1f1f" stroke-width="0.3">3.0</text>
<line x1="252.16" y1="343.6" x2="252.16" y2="347.9" stroke="#000" stroke-width="1.7"/>
<line x1="279.9" y1="343.6" x2="279.9" y2="350.9" stroke="#000" stroke-width="1.8"/>
<text transform="translate(279.5 368.5) scale(1.02 1)" font-size="15.5" text-anchor="middle" fill="#1f1f1f" stroke="#1f1f1f" stroke-width="0.3">2.5</text>
<line x1="307.64" y1="343.6" x2="307.64" y2="347.9" stroke="#000" stroke-width="1.7"/>
<line x1="335.38" y1="343.6" x2="335.38" y2="350.9" stroke="#000" stroke-width="1.8"/>
<text transform="translate(334.98 368.5) scale(1.02 1)" font-size="15.5" text-anchor="middle" fill="#1f1f1f" stroke="#1f1f1f" stroke-width="0.3">2.0</text>
<line x1="363.11" y1="343.6" x2="363.11" y2="347.9" stroke="#000" stroke-width="1.7"/>
<line x1="390.85" y1="343.6" x2="390.85" y2="350.9" stroke="#000" stroke-width="1.8"/>
<text transform="translate(390.45 368.5) scale(1.02 1)" font-size="15.5" text-anchor="middle" fill="#1f1f1f" stroke="#1f1f1f" stroke-width="0.3">1.5</text>
<line x1="418.59" y1="343.6" x2="418.59" y2="347.9" stroke="#000" stroke-width="1.7"/>
<line x1="446.32" y1="343.6" x2="446.32" y2="350.9" stroke="#000" stroke-width="1.8"/>
<text transform="translate(445.93 368.5) scale(1.02 1)" font-size="15.5" text-anchor="middle" fill="#1f1f1f" stroke="#1f1f1f" stroke-width="0.3">1.0</text>
<line x1="474.06" y1="343.6" x2="474.06" y2="347.9" stroke="#000" stroke-width="1.7"/>
<line x1="501.8" y1="343.6" x2="501.8" y2="350.9" stroke="#000" stroke-width="1.8"/>
<text transform="translate(501.4 368.5) scale(1.02 1)" font-size="15.5" text-anchor="middle" fill="#1f1f1f" stroke="#1f1f1f" stroke-width="0.3">0.5</text>
<defs><clipPath id="c2"><rect x="40" y="370" width="470" height="284.2"/></clipPath><clipPath id="c3"><rect x="40" y="690" width="470" height="326"/></clipPath></defs>
<polyline points="52.99,654.25 53.59,654.25 53.59,642.02 54.09,642.02 54.09,641.66 55.19,641.66 55.19,638.67 55.58,638.67 55.58,636.85 56.29,636.85 56.29,637.65 56.98,637.65 56.98,636.03 57.39,636.03 57.39,639.72 57.98,639.72 57.98,645.88 58.49,645.88 58.49,649.28 58.98,649.28 58.98,653.44 59.59,653.44 59.59,653.52 60.69,653.52 60.69,655.1 61.79,655.1 61.79,652.11 62.38,652.11 62.38,655.61 62.89,655.61 62.89,646.93 63.58,646.93 63.58,637.19 63.99,637.19 63.99,633.3 65.09,633.3 65.09,632.23 65.97,632.23 65.97,626.77 67.29,626.77 67.29,622.83 67.97,622.83 67.97,618.47 68.39,618.47 68.39,615.46 69.49,615.46 69.49,617.27 70.59,617.27 70.59,619.25 70.97,619.25 70.97,618.38 71.69,618.38 71.69,618.81 72.79,618.81 72.79,612.26 73.89,612.26 73.89,607.72 74.99,607.72 74.99,608.57 75.56,608.57 75.56,604.75 76.09,604.75 76.09,607.66 77.19,607.66 77.19,604.66 77.96,604.66 77.96,604.07 78.29,604.07 78.29,603.68 79.39,603.68 79.39,606.45 79.96,606.45 79.96,606.75 80.49,606.75 80.49,608.47 80.96,608.47 80.96,614.57 81.59,614.57 81.59,608.42 82.36,608.42 82.36,604.5 82.69,604.5 82.69,602.03 83.79,602.03 83.79,605.31 84.89,605.31 84.89,604.83 85.99,604.83 85.99,607.89 86.95,607.89 86.95,610.89 88.19,610.89 88.19,609.45 88.95,609.45 88.95,608.78 89.29,608.78 89.29,604.62 90.39,604.62 90.39,600.25 90.95,600.25 90.95,598.78 91.49,598.78 91.49,604 92.35,604 92.35,616.67 93.69,616.67 93.69,620.1 94.79,620.1 94.79,610.62 95.54,610.62 95.54,603.53 95.89,603.53 95.89,602.89 96.99,602.89 96.99,600.71 97.94,600.71 97.94,601.5 99.19,601.5 99.19,616 100.29,616 100.29,608.68 100.94,608.68 100.94,604.53 101.39,604.53 101.39,606.28 102.49,606.28 102.49,607.46 102.94,607.46 102.94,604.22 103.59,604.22 103.59,610.44 104.34,610.44 104.34,617.97 104.69,617.97 104.69,618.18 105.79,618.18 105.79,612.26 106.33,612.26 106.33,612.05 106.89,612.05 106.89,609.65 107.99,609.65 107.99,604.9 108.93,604.9 108.93,598.98 110.19,598.98 110.19,590.82 111.29,590.82 111.29,598.01 111.93,598.01 111.93,604.86 112.39,604.86 112.39,598.99 113.49,598.99 113.49,588.6 114.53,588.6 114.53,549.72 115.69,549.72 115.69,535.07 116.79,535.07 116.79,535.1 117.32,535.1 117.32,540.58 117.89,540.58 117.89,546.89 118.92,546.89 118.92,555.76 120.09,555.76 120.09,565.98 120.92,565.98 120.92,572.43 122.29,572.43 122.29,580.87 122.92,580.87 122.92,583.49 123.39,583.49 123.39,580.94 124.49,580.94 124.49,581.53 124.92,581.53 124.92,579.8 125.59,579.8 125.59,588.24 125.91,588.24 125.91,592.78 126.69,592.78 126.69,589.03 127.79,589.03 127.79,583.79 128.89,583.79 128.89,576.72 129.91,576.72 129.91,572.79 131.09,572.79 131.09,550.54 131.51,550.54 131.51,543.02 132.19,543.02 132.19,534.98 132.91,534.98 132.91,524.59 133.29,524.59 133.29,524.43 134.39,524.43 134.39,527.47 134.91,527.47 134.91,524.56 135.49,524.56 135.49,525.26 136.59,525.26 136.59,527.73 136.9,527.73 136.9,529.47 137.69,529.47 137.69,539.6 138.79,539.6 138.79,554.81 139.3,554.81 139.3,563.35 139.89,563.35 139.89,571.17 140.9,571.17 140.9,581.21 141.9,581.21 141.9,596.61 143.19,596.61 143.19,605.69 143.5,605.69 143.5,607.21 144.29,607.21 144.29,614.2 145.39,614.2 145.39,618.77 146.49,618.77 146.49,609.2 146.89,609.2 146.89,602.87 147.59,602.87 147.59,595.44 148.69,595.44 148.69,586.97 149.79,586.97 149.79,586.37 150.89,586.37 150.89,587.65 151.99,587.65 151.99,583.65 152.29,583.65 152.29,581.76 153.09,581.76 153.09,591.14 153.89,591.14 153.89,600.69 154.19,600.69 154.19,604.96 154.89,604.96 154.89,617.87 155.29,617.87 155.29,612.94 156.28,612.94 156.28,604.39 157.49,604.39 157.49,595.61 157.88,595.61 157.88,596.14 158.59,596.14 158.59,597.99 159.69,597.99 159.69,591.75 160.79,591.75 160.79,595.75 161.88,595.75 161.88,598.36 162.99,598.36 162.99,605.31 163.88,605.31 163.88,608.33 165.19,608.33 165.19,614.05 165.87,614.05 165.87,618.45 166.29,618.45 166.29,615.52 167.39,615.52 167.39,602.71 168.49,602.71 168.49,578.87 168.87,578.87 168.87,571.1 169.59,571.1 169.59,549.22 170.27,549.22 170.27,529.14 170.69,529.14 170.69,508.72 171.27,508.72 171.27,479.59 171.79,479.59 171.79,480.29 172.27,480.29 172.27,477.71 172.89,477.71 172.89,487.98 173.47,487.98 173.47,499.92 173.99,499.92 173.99,509.08 174.87,509.08 174.87,525.86 176.19,525.86 176.19,557.28 177.29,557.28 177.29,589.68 177.86,589.68 177.86,623.49 178.39,623.49 178.39,617.26 179.26,617.26 179.26,608.26 180.59,608.26 180.59,614.87 181.69,614.87 181.69,610.06 182.26,610.06 182.26,610.23 182.79,610.23 182.79,618.36 183.46,618.36 183.46,626.59 183.89,626.59 183.89,622.95 184.86,622.95 184.86,610.84 186.09,610.84 186.09,586.77 186.85,586.77 186.85,571.07 187.19,571.07 187.19,555.48 188,555.48 188,514.7 188.8,514.7 188.8,470.13 189.3,470.13 189.3,437.83 190.3,437.83 190.3,434.47 191.5,434.47 191.5,435.47 192.69,435.47 192.69,436.46 193,436.46 193,439.31 193.79,439.31 193.79,437.83 194.89,437.83 194.89,440.26 195.99,440.26 195.99,440.39 196.9,440.39 196.9,443.83 197.9,443.83 197.9,509.92 198.8,509.92 198.8,525.86 199.29,525.86 199.29,531.19 199.8,531.19 199.8,539.98 200.39,539.98 200.39,548.55 201.44,548.55 201.44,564.38 202.59,564.38 202.59,575.27 203.44,575.27 203.44,579.65 204.79,579.65 204.79,586.45 205.83,586.45 205.83,590.06 206.99,590.06 206.99,596 207.83,596 207.83,598.61 208.83,598.61 208.83,606.49 209.19,606.49 209.19,605.66 210.23,605.66 210.23,595.76 211.39,595.76 211.39,579.75 212.49,579.75 212.49,505.72 212.9,505.72 212.9,493.54 213.59,493.54 213.59,457.85 214.3,457.85 214.3,421.5 214.69,421.5 214.69,410.94 215.5,410.94 215.5,386.42 216.89,386.42 216.89,401.8 217.9,401.8 217.9,474.08 218.9,474.08 218.9,514.48 219.8,514.48 219.8,535.13 220.19,535.13 220.19,539.87 220.8,539.87 220.8,548.02 221.29,548.02 221.29,553.04 222.22,553.04 222.22,563.62 223.49,563.62 223.49,575.4 223.82,575.4 223.82,578.65 224.59,578.65 224.59,581.16 225.69,581.16 225.69,583.32 226.79,583.32 226.79,588.62 227.89,588.62 227.89,591.35 228.99,591.35 228.99,592.51 229.81,592.51 229.81,591.92 231.19,591.92 231.19,596.03 231.81,596.03 231.81,599.34 232.29,599.34 232.29,602.02 233.39,602.02 233.39,608.36 233.81,608.36 233.81,611.29 234.49,611.29 234.49,614.55 235.4,614.55 235.4,623.63 236.69,623.63 236.69,620.06 237.79,620.06 237.79,626.98 238.4,626.98 238.4,631.04 238.89,631.04 238.89,629.18 239.99,629.18 239.99,622.88 240.4,622.88 240.4,620.72 241.09,620.72 241.09,623.94 241.8,623.94 241.8,627.07 242.19,627.07 242.19,625.28 243.29,625.28 243.29,619.57 244.39,619.57 244.39,625.49 244.8,625.49 244.8,630.79 245.49,630.79 245.49,625.46 246.59,625.46 246.59,619.58 247.69,619.58 247.69,623.43 248.19,623.43 248.19,625.46 248.79,625.46 248.79,627.51 249.79,627.51 249.79,622.38 250.99,622.38 250.99,610.63 251.39,610.63 251.39,607.25 252.09,607.25 252.09,602.18 252.79,602.18 252.79,596.83 253.19,596.83 253.19,592.57 254.19,592.57 254.19,578.95 255.39,578.95 255.39,566.77 255.78,566.77 255.78,564.83 256.49,564.83 256.49,563.41 257.59,563.41 257.59,569.92 258.69,569.92 258.69,580.78 259.18,580.78 259.18,588.74 259.79,588.74 259.79,593.61 260.78,593.61 260.78,599.22 261.99,599.22 261.99,602.38 262.78,602.38 262.78,606.18 263.09,606.18 263.09,606.75 264.19,606.75 264.19,603.24 264.78,603.24 264.78,605.35 265.29,605.35 265.29,604.08 266.39,604.08 266.39,604.72 266.77,604.72 266.77,607.88 267.49,607.88 267.49,602.87 268.59,602.87 268.59,601.17 269.69,601.17 269.69,597.53 270.79,597.53 270.79,598.78 271.77,598.78 271.77,597.07 272.99,597.07 272.99,593.29 273.77,593.29 273.77,593.19 274.09,593.19 274.09,590.86 275.19,590.86 275.19,585.91 275.76,585.91 275.76,584.21 276.29,584.21 276.29,579.82 277.39,579.82 277.39,572.42 277.76,572.42 277.76,571.36 278.49,571.36 278.49,559.37 279.59,559.37 279.59,553.28 280.36,553.28 280.36,556.36 280.69,556.36 280.69,557.64 281.76,557.64 281.76,572.43 282.89,572.43 282.89,586.43 283.36,586.43 283.36,590.56 283.99,590.56 283.99,584.58 285.09,584.58 285.09,580.8 286.19,580.8 286.19,568.09 287.29,568.09 287.29,556.73 288.39,556.73 288.39,537.31 288.75,537.31 288.75,529.53 289.49,529.53 289.49,518.56 290.15,518.56 290.15,511.81 290.59,511.81 290.59,508.82 291.35,508.82 291.35,508.99 291.69,508.99 291.69,512.83 292.75,512.83 292.75,524.82 293.75,524.82 293.75,547.88 294.99,547.88 294.99,565.28 295.34,565.28 295.34,572.33 296.09,572.33 296.09,580.75 296.74,580.75 296.74,586.12 297.19,586.12 297.19,577.38 297.74,577.38 297.74,569.11 298.29,569.11 298.29,565.3 299.14,565.3 299.14,559.96 300.49,559.96 300.49,568.8 301.59,568.8 301.59,580.19 302.14,580.19 302.14,584.87 302.69,584.87 302.69,587.95 303.74,587.95 303.74,589.48 304.89,589.48 304.89,594.91 305.33,594.91 305.33,599.89 305.99,599.89 305.99,601.6 306.73,601.6 306.73,608.76 307.09,608.76 307.09,609.73 308.19,609.73 308.19,609.89 308.73,609.89 308.73,606.9 309.29,606.9 309.29,602.26 310.13,602.26 310.13,600.47 311.49,600.47 311.49,586.92 312.59,586.92 312.59,578.09 313.33,578.09 313.33,571.89 313.69,571.89 313.69,568.91 314.73,568.91 314.73,555.67 315.89,555.67 315.89,543.29 316.32,543.29 316.32,539.45 316.99,539.45 316.99,536.13 318.09,536.13 318.09,533.48 319.19,533.48 319.19,539.65 319.72,539.65 319.72,538.86 320.29,538.86 320.29,539.6 320.72,539.6 320.72,543.64 321.39,543.64 321.39,549.94 321.72,549.94 321.72,551.18 322.49,551.18 322.49,544.89 323.32,544.89 323.32,538.6 324.69,538.6 324.69,520.06 325.79,520.06 325.79,496.48 326.8,496.48 326.8,466.18 327.5,466.18 327.5,420.16 327.99,420.16 327.99,397.2 328.8,397.2 328.8,374.28 329.4,374.28 329.4,395.41 329.8,395.41 329.8,422.11 330.19,422.11 330.19,437.83 330.6,437.83 330.6,455.2 331.29,455.2 331.29,483.82 332.3,483.82 332.3,505.1 333.3,505.1 333.3,521.22 334.59,521.22 334.59,535.81 335.69,535.81 335.69,540.68 336.7,540.68 336.7,546.48 337.89,546.48 337.89,548.34 338.7,548.34 338.7,550.86 340.09,550.86 340.09,549.57 340.7,549.57 340.7,546.85 341.19,546.85 341.19,549.31 342.29,549.31 342.29,549.64 342.7,549.64 342.7,548.7 343.39,548.7 343.39,552.32 344.49,552.32 344.49,553.9 345.59,553.9 345.59,559.38 346.09,559.38 346.09,560.7 346.69,560.7 346.69,563.37 347.69,563.37 347.69,572.51 348.89,572.51 348.89,582.83 349.29,582.83 349.29,584.2 349.99,584.2 349.99,589.05 350.69,589.05 350.69,591.57 351.09,591.57 351.09,591.46 352.19,591.46 352.19,598.14 352.69,598.14 352.69,599.49 353.29,599.49 353.29,599.58 354.39,599.58 354.39,593.67 355.49,593.67 355.49,591.4 356.59,591.4 356.59,588.59 357.69,588.59 357.69,584.48 358.68,584.48 358.68,580.75 359.68,580.75 359.68,568.39 360.99,568.39 360.99,564.41 362.09,564.41 362.09,573.23 362.68,573.23 362.68,576.17 363.19,576.17 363.19,579.52 364.08,579.52 364.08,579.18 365.39,579.18 365.39,561.66 366.49,561.66 366.49,555.36 367.07,555.36 367.07,554.95 367.59,554.95 367.59,559.76 368.67,559.76 368.67,569.02 369.79,569.02 369.79,572.02 370.67,572.02 370.67,574.55 371.99,574.55 371.99,573.55 372.67,573.55 372.67,572.6 373.09,572.6 373.09,574.93 374.19,574.93 374.19,580.11 374.67,580.11 374.67,579.63 375.29,579.63 375.29,576.95 376.39,576.95 376.39,574.84 377.49,574.84 377.49,580.96 378.59,580.96 378.59,587.69 379.69,587.69 379.69,581.36 380.66,581.36 380.66,580.1 381.89,580.1 381.89,585.59 382.99,585.59 382.99,590.09 383.69,590.09 383.69,596.67 384.09,596.67 384.09,596.44 385.19,596.44 385.19,599.32 386.16,599.32 386.16,597.91 387.39,597.91 387.39,594.9 388.49,594.9 388.49,594.7 389.02,594.7 389.02,596.07 389.59,596.07 389.59,596.05 390.69,596.05 390.69,594.8 391.3,594.8 391.3,592.9 391.79,592.9 391.79,591.05 392.89,591.05 392.89,584.47 393.21,584.47 393.21,583.89 393.99,583.89 393.99,577.74 394.73,577.74 394.73,572.7 395.09,572.7 395.09,570.58 396.19,570.58 396.19,569.11 397.29,569.11 397.29,580.64 398.39,580.64 398.39,582.6 398.92,582.6 398.92,586.94 399.49,586.94 399.49,584.73 400.44,584.73 400.44,581.46 401.69,581.46 401.69,575.71 402.79,575.71 402.79,557.36 403.3,557.36 403.3,547.13 403.89,547.13 403.89,529.71 404.25,529.71 404.25,519.35 404.99,519.35 404.99,510.76 406.09,510.76 406.09,519.16 407.11,519.16 407.11,546.3 408.06,546.3 408.06,569.15 409.01,569.15 409.01,588.94 409.39,588.94 409.39,591.74 409.96,591.74 409.96,598.75 410.49,598.75 410.49,600.11 411.59,600.11 411.59,599.96 412.69,599.96 412.69,597.06 413.77,597.06 413.77,594.08 414.89,594.08 414.89,586.18 415.29,586.18 415.29,584.96 415.99,584.96 415.99,580.51 416.63,580.51 416.63,576.54 417.09,576.54 417.09,575.25 418.19,575.25 418.19,574.89 418.53,574.89 418.53,574.18 419.29,574.18 419.29,578.28 420.39,578.28 420.39,584.18 421.49,584.18 421.49,589.25 422.34,589.25 422.34,591.68 423.69,591.68 423.69,595.9 424.24,595.9 424.24,600.17 424.79,600.17 424.79,602.47 425.89,602.47 425.89,605.58 426.99,605.58 426.99,603.8 428.05,603.8 428.05,608.13 429.19,608.13 429.19,612.82 430.29,612.82 430.29,614.66 431.39,614.66 431.39,611.98 431.86,611.98 431.86,611.13 432.49,611.13 432.49,607.92 433.59,607.92 433.59,609.76 434.33,609.76 434.33,606.44 434.69,606.44 434.69,607.33 435.79,607.33 435.79,603.63 436.62,603.63 436.62,602.16 437.99,602.16 437.99,600.18 439.09,600.18 439.09,601.17 439.47,601.17 439.47,602.1 440.19,602.1 440.19,597.93 441.29,597.93 441.29,596.67 442.39,596.67 442.39,590.91 443.28,590.91 443.28,588.42 444.59,588.42 444.59,579.7 445.18,579.7 445.18,575.69 445.69,575.69 445.69,567.87 446.52,567.87 446.52,556.48 447.66,556.48 447.66,536.77 448.99,536.77 448.99,528.68 450.09,528.68 450.09,524.46 451.19,524.46 451.19,529.53 451.85,529.53 451.85,529.76 452.29,529.76 452.29,525.87 453.37,525.87 453.37,527.61 454.49,527.61 454.49,534.11 455.59,534.11 455.59,545.26 456.69,545.26 456.69,556.47 457.18,556.47 457.18,562.49 457.79,562.49 457.79,564.64 458.51,564.64 458.51,569.36 458.89,569.36 458.89,571.92 459.84,571.92 459.84,576.32 461.09,576.32 461.09,588.34 462.19,588.34 462.19,588.85 462.89,588.85 462.89,584.77 463.29,584.77 463.29,582.48 464.22,582.48 464.22,578.56 465.49,578.56 465.49,576.04 466.59,576.04 466.59,582.86 467.08,582.86 467.08,582.94 467.69,582.94 467.69,587.55 468.6,587.55 468.6,591.75 469.89,591.75 469.89,595.91 470.99,595.91 470.99,594.58 471.84,594.58 471.84,592.14 473.19,592.14 473.19,585.65 473.74,585.65 473.74,585.85 474.29,585.85 474.29,585.86 475.39,585.86 475.39,592.31 476.49,592.31 476.49,587.83 477.55,587.83 477.55,583.62 478.69,583.62 478.69,580.26 479.07,580.26 479.07,579.59 479.79,579.59 479.79,583.93 480.4,583.93 480.4,588.73 480.89,588.73 480.89,592 481.93,592 481.93,596.77 483.09,596.77 483.09,596.75 483.83,596.75 483.83,597.98 484.19,597.98 484.19,600.22 485.29,600.22 485.29,601.68 485.74,601.68 485.74,604.61 486.39,604.61 486.39,605.17 487.49,605.17 487.49,600.23 488.59,600.23 488.59,605.01 489.54,605.01 489.54,607.3 490.79,607.3 490.79,609.99 491.45,609.99 491.45,613.65 491.89,613.65 491.89,618.54 492.78,618.54 492.78,625.1 493.73,625.1 493.73,631.78" fill="none" stroke="#000" stroke-width="2.5" stroke-linejoin="miter" clip-path="url(#c2)"/>
<polyline points="49.59,589.55 50.69,589.55 50.69,596.72 51.79,596.72 51.79,601.18 52.89,601.18 52.89,608.9 53.99,608.9 53.99,609.59 55.09,609.59 55.09,611.82 55.58,611.82 55.58,614.98 56.19,614.98 56.19,615.25 57.29,615.25 57.29,619.22 57.98,619.22 57.98,618.43 58.39,618.43 58.39,620.59 59.49,620.59 59.49,617.64 59.98,617.64 59.98,618.03 60.59,618.03 60.59,618.73 61.69,618.73 61.69,616.16 62.38,616.16 62.38,614.86 62.79,614.86 62.79,614.88 63.89,614.88 63.89,610.91 64.98,610.91 64.98,612.53 66.09,612.53 66.09,609.12 66.97,609.12 66.97,605.55 68.29,605.55 68.29,601.44 69.39,601.44 69.39,601.42 70.49,601.42 70.49,599.69 71.59,599.69 71.59,600.27 71.97,600.27 71.97,598.69 72.69,598.69 72.69,599.67 73.79,599.67 73.79,597.12 74.37,597.12 74.37,596.39 74.89,596.39 74.89,596.99 75.99,596.99 75.99,596.17 76.96,596.17 76.96,598.8 78.19,598.8 78.19,599.92 78.96,599.92 78.96,602.4 79.29,602.4 79.29,603.77 80.39,603.77 80.39,601.55 80.96,601.55 80.96,599.18 81.49,599.18 81.49,602 82.59,602 82.59,604.03 82.96,604.03 82.96,603.3 83.69,603.3 83.69,602.83 84.79,602.83 84.79,606.38 85.55,606.38 85.55,606.82 85.89,606.82 85.89,609.07 86.99,609.07 86.99,606.98 87.95,606.98 87.95,605.93 89.19,605.93 89.19,601.82 89.95,601.82 89.95,600.14 90.29,600.14 90.29,601.48 91.39,601.48 91.39,597.96 91.95,597.96 91.95,597.54 92.49,597.54 92.49,599.68 93.59,599.68 93.59,602.04 93.95,602.04 93.95,603.97 94.69,603.97 94.69,601.83 95.79,601.83 95.79,598.11 96.89,598.11 96.89,581.95 97.34,581.95 97.34,573.95 97.99,573.95 97.99,570.19 98.54,570.19 98.54,570.68 99.09,570.68 99.09,573.69 99.94,573.69 99.94,579.76 101.29,579.76 101.29,577.49 102.39,577.49 102.39,596.2 103.49,596.2 103.49,601.33 103.94,601.33 103.94,600.1 104.59,600.1 104.59,602.21 105.69,602.21 105.69,605.36 106.79,605.36 106.79,608.45 107.89,608.45 107.89,604.73 108.99,604.73 108.99,598.36 109.93,598.36 109.93,591.63 111.19,591.63 111.19,566.25 111.53,566.25 111.53,559.73 112.29,559.73 112.29,542.96 112.93,542.96 112.93,529.46 113.39,529.46 113.39,525.2 114.33,525.2 114.33,516.33 115.52,516.33 115.52,510.28 116.69,510.28 116.69,512.25 117.79,512.25 117.79,526.32 118.89,526.32 118.89,540.27 119.52,540.27 119.52,549.71 119.99,549.71 119.99,554.98 121.09,554.98 121.09,565.38 121.52,565.38 121.52,567.97 122.19,567.97 122.19,571.48 123.29,571.48 123.29,574.06 123.92,574.06 123.92,575.96 124.39,575.96 124.39,575.81 125.49,575.81 125.49,576.57 125.91,576.57 125.91,574.65 126.59,574.65 126.59,577.48 127.51,577.48 127.51,582.29 128.79,582.29 128.79,588.03 129.89,588.03 129.89,577.82 130.31,577.82 130.31,574.24 130.99,574.24 130.99,561 131.51,561 131.51,550.08 132.09,550.08 132.09,542.66 132.91,542.66 132.91,529.5 133.91,529.5 133.91,527.85 134.29,527.85 134.29,531.18 135.39,531.18 135.39,538.66 136.49,538.66 136.49,553.19 136.9,553.19 136.9,560.03 137.59,560.03 137.59,567.64 138.3,567.64 138.3,575.58 138.69,575.58 138.69,575.53 139.79,575.53 139.79,582.83 140.89,582.83 140.89,580.5 141.9,580.5 141.9,578.99 143.09,578.99 143.09,571.17 143.5,571.17 143.5,569.37 144.19,569.37 144.19,559.56 144.9,559.56 144.9,547.63 145.29,547.63 145.29,540.57 146.29,540.57 146.29,523.47 147.49,523.47 147.49,519.15 147.89,519.15 147.89,517.37 148.59,517.37 148.59,518.84 149.49,518.84 149.49,522.32 150.49,522.32 150.49,540.42 150.79,540.42 150.79,545.17 151.89,545.17 151.89,559.48 152.99,559.48 152.99,567.23 154.09,567.23 154.09,564.09 154.49,564.09 154.49,559.32 155.19,559.32 155.19,545.02 156.29,545.02 156.29,526.85 157.39,526.85 157.39,523.34 157.88,523.34 157.88,524.48 158.49,524.48 158.49,528.65 159.48,528.65 159.48,533.96 160.69,533.96 160.69,538.23 161.79,538.23 161.79,552.16 162.28,552.16 162.28,559.56 162.89,559.56 162.89,566.38 163.88,566.38 163.88,579.96 165.09,579.96 165.09,583.53 165.87,583.53 165.87,588.46 166.19,588.46 166.19,586 167.29,586 167.29,575.38 167.87,575.38 167.87,571.77 168.39,571.77 168.39,562.98 169.47,562.98 169.47,543.47 170.59,543.47 170.59,524.51 171.69,524.51 171.69,516.31 172.79,516.31 172.79,530.83 173.47,530.83 173.47,539.37 173.89,539.37 173.89,552.6 174.47,552.6 174.47,570.23 174.99,570.23 174.99,580.44 175.86,580.44 175.86,595.69 177.19,595.69 177.19,601.22 177.86,601.22 177.86,603.21 178.29,603.21 178.29,603.32 179.39,603.32 179.39,606.81 179.86,606.81 179.86,606.7 180.49,606.7 180.49,604.64 181.59,604.64 181.59,606.68 182.69,606.68 182.69,601.85 183.46,601.85 183.46,595.4 183.79,595.4 183.79,591.59 184.86,591.59 184.86,576.37 185.99,576.37 185.99,555.1 187.09,555.1 187.09,528.83 187.45,528.83 187.45,520.2 188.19,520.2 188.19,509.53 188.85,509.53 188.85,499.62 189.29,499.62 189.29,493.05 190.25,493.05 190.25,479.54 191.2,479.54 191.2,470.35 192.59,470.35 192.59,440.61 193.4,440.61 193.4,410.12 193.9,410.12 193.9,381.86 194.79,381.86 194.79,384.76 195.2,384.76 195.2,382.54 195.89,382.54 195.89,399.43 196.4,399.43 196.4,460.04 196.99,460.04 196.99,480.04 197.3,480.04 197.3,489.96 197.84,489.96 197.84,520 198.84,520 198.84,549.71 199.19,549.71 199.19,556.19 199.84,556.19 199.84,569.4 200.29,569.4 200.29,572.01 201.39,572.01 201.39,578.22 201.84,578.22 201.84,581.81 202.49,581.81 202.49,585.62 203.59,585.62 203.59,586.15 204.69,586.15 204.69,591.3 205.79,591.3 205.79,597.02 206.89,597.02 206.89,599.68 207.83,599.68 207.83,601.98 208.83,601.98 208.83,604.43 210.19,604.43 210.19,587.35 211.29,587.35 211.29,545.77 212.2,545.77 212.2,500.12 213.2,500.12 213.2,470.24 213.8,470.24 213.8,430.17 214.3,430.17 214.3,423.06 215,423.06 215,429.32 215.69,429.32 215.69,455.23 216.5,455.23 216.5,484.94 217.5,484.94 217.5,520.26 217.89,520.26 217.89,525.63 218.8,525.63 218.8,535 220.09,535 220.09,545.28 221.19,545.28 221.19,552.82 221.82,552.82 221.82,555.72 222.29,555.72 222.29,560.19 223.39,560.19 223.39,567.06 223.82,567.06 223.82,568.43 224.49,568.43 224.49,572.26 225.59,572.26 225.59,576.42 226.69,576.42 226.69,578.55 227.79,578.55 227.79,579.28 228.81,579.28 228.81,581.37 229.99,581.37 229.99,582.37 231.09,582.37 231.09,583.23 231.41,583.23 231.41,586.57 232.19,586.57 232.19,583.99 233.29,583.99 233.29,580.61 233.81,580.61 233.81,581.28 234.39,581.28 234.39,581.85 235.49,581.85 235.49,586.36 235.8,586.36 235.8,587.49 236.59,587.49 236.59,589.11 237.69,589.11 237.69,593.79 238.2,593.79 238.2,595.67 238.79,595.67 238.79,595.58 239.89,595.58 239.89,598.43 240.8,598.43 240.8,597.55 242.09,597.55 242.09,585.86 243.19,585.86 243.19,592.87 243.8,592.87 243.8,596.69 244.29,596.69 244.29,596.13 245.39,596.13 245.39,595.37 245.79,595.37 245.79,598.65 246.49,598.65 246.49,597.55 247.59,597.55 247.59,594.89 248.69,594.89 248.69,593.08 249.79,593.08 249.79,593.1 250.89,593.1 250.89,586.08 251.39,586.08 251.39,583.21 251.99,583.21 251.99,578.68 252.79,578.68 252.79,576.52 253.09,576.52 253.09,576.52 254.19,576.52 254.19,571.28 255.29,571.28 255.29,574.33 255.78,574.33 255.78,576.45 256.39,576.45 256.39,580.67 257.38,580.67 257.38,587.25 258.59,587.25 258.59,597.52 259.69,597.52 259.69,601.98 260.78,601.98 260.78,606.6 261.89,606.6 261.89,607.63 262.78,607.63 262.78,607.83 264.09,607.83 264.09,603.06 264.78,603.06 264.78,599.09 265.19,599.09 265.19,599.96 266.29,599.96 266.29,599.82 266.77,599.82 266.77,598.39 267.39,598.39 267.39,595.68 268.49,595.68 268.49,591.82 269.59,591.82 269.59,588.91 270.69,588.91 270.69,588.2 271.77,588.2 271.77,588.84 272.89,588.84 272.89,588.13 273.77,588.13 273.77,588.43 275.09,588.43 275.09,584.28 275.76,584.28 275.76,583.72 276.19,583.72 276.19,583.06 277.29,583.06 277.29,579.89 277.76,579.89 277.76,577.01 278.39,577.01 278.39,572.37 279.16,572.37 279.16,564.09 279.49,564.09 279.49,565.55 280.36,565.55 280.36,571.43 281.69,571.43 281.69,587.39 282.79,587.39 282.79,592.7 283.76,592.7 283.76,593.72 284.99,593.72 284.99,582.72 285.35,582.72 285.35,579.93 286.09,579.93 286.09,570.67 286.75,570.67 286.75,563.7 287.19,563.7 287.19,560.56 288.29,560.56 288.29,548.88 289.39,548.88 289.39,547.89 289.75,547.89 289.75,545.55 290.49,545.55 290.49,549.09 291.35,549.09 291.35,550.61 292.69,550.61 292.69,558.93 293.79,558.93 293.79,568.81 294.15,568.81 294.15,572.14 294.89,572.14 294.89,574.14 295.74,574.14 295.74,576.13 296.74,576.13 296.74,563.63 297.09,563.63 297.09,563.01 298.14,563.01 298.14,559.63 299.29,559.63 299.29,566.55 299.74,566.55 299.74,567.77 300.39,567.77 300.39,572.74 301.49,572.74 301.49,577.24 302.59,577.24 302.59,578.58 303.69,578.58 303.69,581.24 304.79,581.24 304.79,581.76 305.73,581.76 305.73,585.21 306.99,585.21 306.99,583.54 307.73,583.54 307.73,585.92 308.09,585.92 308.09,584.07 309.19,584.07 309.19,582.43 309.73,582.43 309.73,579.25 310.29,579.25 310.29,574.51 311.33,574.51 311.33,564.2 312.49,564.2 312.49,550.07 313.59,550.07 313.59,543.2 314.33,543.2 314.33,541.54 314.69,541.54 314.69,542.06 315.79,542.06 315.79,539.49 316.32,539.49 316.32,538.73 316.89,538.73 316.89,539.65 317.99,539.65 317.99,542.55 318.72,542.55 318.72,541.27 319.09,541.27 319.09,542.75 320.19,542.75 320.19,539.33 320.72,539.33 320.72,537.25 321.29,537.25 321.29,533.92 322.39,533.92 322.39,530.42 322.72,530.42 322.72,529.81 323.49,529.81 323.49,523.37 324.12,523.37 324.12,519.2 324.59,519.2 324.59,513.72 325.69,513.72 325.69,499.61 326.79,499.61 326.79,478.21 327.11,478.21 327.11,471.92 327.89,471.92 327.89,471.22 328.99,471.22 328.99,492.23 329.31,492.23 329.31,499.77 330.09,499.77 330.09,524.8 331.19,524.8 331.19,539.33 332.29,539.33 332.29,544.21 332.71,544.21 332.71,547.16 333.39,547.16 333.39,548 334.49,548 334.49,554.13 335.59,554.13 335.59,555.58 336.69,555.58 336.69,558.77 337.79,558.77 337.79,557.32 338.7,557.32 338.7,555.62 339.99,555.62 339.99,559.39 340.7,559.39 340.7,562.31 341.09,562.31 341.09,562.2 342.19,562.2 342.19,567.37 342.7,567.37 342.7,567.81 343.29,567.81 343.29,567.87 344.39,567.87 344.39,572.01 344.7,572.01 344.7,573.91 345.49,573.91 345.49,574.02 346.59,574.02 346.59,579.06 347.69,579.06 347.69,581.05 348.69,581.05 348.69,580.12 349.89,580.12 349.89,582.62 350.99,582.62 350.99,582.67 351.69,582.67 351.69,582.09 352.09,582.09 352.09,581.68 353.19,581.68 353.19,587.42 354.29,587.42 354.29,590.78 354.69,590.78 354.69,589.97 355.39,589.97 355.39,588.92 356.49,588.92 356.49,586.63 357.59,586.63 357.59,588.07 358.69,588.07 358.69,586.25 359.68,586.25 359.68,581.8 360.89,581.8 360.89,579.32 361.99,579.32 361.99,579.1 362.68,579.1 362.68,578.55 363.09,578.55 363.09,576.17 364.19,576.17 364.19,574.69 365.29,574.69 365.29,574.78 365.67,574.78 365.67,572.93 366.39,572.93 366.39,575.42 367.49,575.42 367.49,574.47 368.59,574.47 368.59,577.22 369.69,577.22 369.69,578.01 370.79,578.01 370.79,578.76 371.67,578.76 371.67,580.75 372.99,580.75 372.99,582.47 374.09,582.47 374.09,585.32 374.67,585.32 374.67,588.26 375.19,588.26 375.19,590.3 376.29,590.3 376.29,591.94 377.39,591.94 377.39,592.69 378.49,592.69 378.49,592.76 379.59,592.76 379.59,591.08 380.69,591.08 380.69,588.79 381.79,588.79 381.79,586.47 382.66,586.47 382.66,587.6 383.99,587.6 383.99,583.61 385.09,583.61 385.09,581.53 386.19,581.53 386.19,580.86 387.12,580.86 387.12,579.42 388.39,579.42 388.39,580.99 389.49,580.99 389.49,578.12 389.97,578.12 389.97,579.36 390.59,579.36 390.59,577.24 391.69,577.24 391.69,570.1 392.79,570.1 392.79,568.39 393.78,568.39 393.78,563.97 394.99,563.97 394.99,560.63 395.68,560.63 395.68,559.34 396.09,559.34 396.09,559.78 397.19,559.78 397.19,560.45 397.59,560.45 397.59,562.4 398.29,562.4 398.29,562.8 399.39,562.8 399.39,566.44 400.49,566.44 400.49,557.83 400.82,557.83 400.82,553.35 401.59,553.35 401.59,543.65 402.35,543.65 402.35,534.21 402.69,534.21 402.69,530.75 403.79,530.75 403.79,521.48 404.89,521.48 404.89,520.16 405.2,520.16 405.2,519.61 405.99,519.61 405.99,528.97 406.53,528.97 406.53,534.4 407.09,534.4 407.09,543.78 407.68,543.78 407.68,551.92 408.19,551.92 408.19,557.57 409.01,557.57 409.01,567.41 410.39,567.41 410.39,567.91 410.91,567.91 410.91,568.4 411.49,568.4 411.49,566.81 412.59,566.81 412.59,567.08 413.69,567.08 413.69,566.56 414.79,566.56 414.79,569.19 415.89,569.19 415.89,568.24 416.63,568.24 416.63,569.43 416.99,569.43 416.99,567.91 418.09,567.91 418.09,565.89 419.19,565.89 419.19,565.98 420.29,565.98 420.29,570.51 421.39,570.51 421.39,577.26 422.49,577.26 422.49,579.02 423.29,579.02 423.29,581.68 423.59,581.68 423.59,581.25 424.69,581.25 424.69,583.77 425.19,583.77 425.19,586.95 425.79,586.95 425.79,589.13 426.89,589.13 426.89,587.66 427.99,587.66 427.99,587.76 429.09,587.76 429.09,590.85 430.19,590.85 430.19,593.07 430.9,593.07 430.9,592.94 431.29,592.94 431.29,593.86 432.39,593.86 432.39,597.7 433.49,597.7 433.49,597.06 434.59,597.06 434.59,596.56 435.66,596.56 435.66,592.23 436.79,592.23 436.79,589.73 437.57,589.73 437.57,586.24 437.89,586.24 437.89,585.8 438.99,585.8 438.99,585.25 440.09,585.25 440.09,582.81 440.42,582.81 440.42,584.1 441.19,584.1 441.19,581.57 442.29,581.57 442.29,579.53 443.39,579.53 443.39,572.38 444.23,572.38 444.23,568.28 445.59,568.28 445.59,557.83 446.14,557.83 446.14,555.57 446.69,555.57 446.69,552.45 447.79,552.45 447.79,549.05 448.89,549.05 448.89,547.79 449.99,547.79 449.99,546.16 450.89,546.16 450.89,546.11 452.19,546.11 452.19,548.62 453.29,548.62 453.29,550.65 454.39,550.65 454.39,553.92 455.27,553.92 455.27,555.78 456.59,555.78 456.59,558.68 457.18,558.68 457.18,558.53 457.69,558.53 457.69,561 458.79,561 458.79,568.37 459.89,568.37 459.89,572.79 460.99,572.79 460.99,577.82 462.09,577.82 462.09,581.62 463.19,581.62 463.19,587.02 464.29,587.02 464.29,585.41 465.39,585.41 465.39,585.84 466.49,585.84 466.49,589.06 467.59,589.06 467.59,592.68 468.03,592.68 468.03,591.76 468.69,591.76 468.69,590.17 469.79,590.17 469.79,591.47 470.5,591.47 470.5,589.12 470.89,589.12 470.89,588 471.99,588 471.99,587.14 472.41,587.14 472.41,586.88 473.09,586.88 473.09,589.58 474.19,589.58 474.19,590.24 474.69,590.24 474.69,591.34 475.29,591.34 475.29,592.06 476.39,592.06 476.39,592.92 476.98,592.92 476.98,595 477.49,595 477.49,597.32 478.59,597.32 478.59,600.36 479.45,600.36 479.45,599.19 480.79,599.19 480.79,598.3 481.89,598.3 481.89,601.77 482.31,601.77 482.31,602.5 482.99,602.5 482.99,601.93 484.09,601.93 484.09,598.37 484.59,598.37 484.59,598.07 485.19,598.07 485.19,600.2 486.29,600.2 486.29,602.72 487.07,602.72 487.07,603.38 487.39,603.38 487.39,606.02 488.49,606.02 488.49,607.7 489.59,607.7 489.59,607.53 489.92,607.53 489.92,608.76 490.69,608.76 490.69,607.53 491.79,607.53 491.79,609.26 492.78,609.26 492.78,611.51 493.99,611.51 493.99,611.68 494.68,611.68 494.68,611.91" fill="none" stroke="#ff0000" stroke-width="2.6" stroke-linejoin="miter" clip-path="url(#c2)"/>
<line x1="48.7" y1="655" x2="495.9" y2="655" stroke="#000" stroke-width="1.8"/>
<line x1="49.6" y1="655" x2="49.6" y2="661.3" stroke="#000" stroke-width="1.8"/>
<text transform="translate(49.2 679.9) scale(1.02 1)" font-size="15.5" text-anchor="middle" fill="#1f1f1f" stroke="#1f1f1f" stroke-width="0.3">4.5</text>
<line x1="77.44" y1="655" x2="77.44" y2="658.5" stroke="#000" stroke-width="1.7"/>
<line x1="105.28" y1="655" x2="105.28" y2="661.3" stroke="#000" stroke-width="1.8"/>
<text transform="translate(104.88 679.9) scale(1.02 1)" font-size="15.5" text-anchor="middle" fill="#1f1f1f" stroke="#1f1f1f" stroke-width="0.3">4.0</text>
<line x1="133.11" y1="655" x2="133.11" y2="658.5" stroke="#000" stroke-width="1.7"/>
<line x1="160.95" y1="655" x2="160.95" y2="661.3" stroke="#000" stroke-width="1.8"/>
<text transform="translate(160.55 679.9) scale(1.02 1)" font-size="15.5" text-anchor="middle" fill="#1f1f1f" stroke="#1f1f1f" stroke-width="0.3">3.5</text>
<line x1="188.79" y1="655" x2="188.79" y2="658.5" stroke="#000" stroke-width="1.7"/>
<line x1="216.62" y1="655" x2="216.62" y2="661.3" stroke="#000" stroke-width="1.8"/>
<text transform="translate(216.22 679.9) scale(1.02 1)" font-size="15.5" text-anchor="middle" fill="#1f1f1f" stroke="#1f1f1f" stroke-width="0.3">3.0</text>
<line x1="244.46" y1="655" x2="244.46" y2="658.5" stroke="#000" stroke-width="1.7"/>
<line x1="272.3" y1="655" x2="272.3" y2="661.3" stroke="#000" stroke-width="1.8"/>
<text transform="translate(271.9 679.9) scale(1.02 1)" font-size="15.5" text-anchor="middle" fill="#1f1f1f" stroke="#1f1f1f" stroke-width="0.3">2.5</text>
<line x1="300.14" y1="655" x2="300.14" y2="658.5" stroke="#000" stroke-width="1.7"/>
<line x1="327.98" y1="655" x2="327.98" y2="661.3" stroke="#000" stroke-width="1.8"/>
<text transform="translate(327.58 679.9) scale(1.02 1)" font-size="15.5" text-anchor="middle" fill="#1f1f1f" stroke="#1f1f1f" stroke-width="0.3">2.0</text>
<line x1="355.81" y1="655" x2="355.81" y2="658.5" stroke="#000" stroke-width="1.7"/>
<line x1="383.65" y1="655" x2="383.65" y2="661.3" stroke="#000" stroke-width="1.8"/>
<text transform="translate(383.25 679.9) scale(1.02 1)" font-size="15.5" text-anchor="middle" fill="#1f1f1f" stroke="#1f1f1f" stroke-width="0.3">1.5</text>
<line x1="411.49" y1="655" x2="411.49" y2="658.5" stroke="#000" stroke-width="1.7"/>
<line x1="439.32" y1="655" x2="439.32" y2="661.3" stroke="#000" stroke-width="1.8"/>
<text transform="translate(438.93 679.9) scale(1.02 1)" font-size="15.5" text-anchor="middle" fill="#1f1f1f" stroke="#1f1f1f" stroke-width="0.3">1.0</text>
<line x1="467.16" y1="655" x2="467.16" y2="658.5" stroke="#000" stroke-width="1.7"/>
<line x1="495" y1="655" x2="495" y2="661.3" stroke="#000" stroke-width="1.8"/>
<text transform="translate(494.6 679.9) scale(1.02 1)" font-size="15.5" text-anchor="middle" fill="#1f1f1f" stroke="#1f1f1f" stroke-width="0.3">0.5</text>
<polyline points="46.38,981.3 47.48,981.3 47.48,974.75 47.98,974.75 47.98,974.77 48.58,974.77 48.58,977.94 49.68,977.94 49.68,975.61 50.78,975.61 50.78,971.75 51.88,971.75 51.88,967.56 52.98,967.56 52.98,968.29 53.98,968.29 53.98,962.09 55.18,962.09 55.18,972.57 55.57,972.57 55.57,974.78 56.28,974.78 56.28,980 56.97,980 56.97,989.68 57.38,989.68 57.38,989.74 58.48,989.74 58.48,990.48 58.97,990.48 58.97,994.62 59.58,994.62 59.58,986.56 60.68,986.56 60.68,979.28 61.78,979.28 61.78,986.92 62.88,986.92 62.88,987.32 63.98,987.32 63.98,978.57 64.97,978.57 64.97,972.7 66.18,972.7 66.18,968.78 66.96,968.78 66.96,970.13 67.28,970.13 67.28,965.48 68.38,965.48 68.38,962.33 68.96,962.33 68.96,963.94 69.48,963.94 69.48,966.31 70.58,966.31 70.58,973.84 70.96,973.84 70.96,974.11 71.68,974.11 71.68,969.16 72.78,969.16 72.78,963.92 73.88,963.92 73.88,969.93 74.96,969.93 74.96,972.93 76.08,972.93 76.08,974.15 76.95,974.15 76.95,982.63 78.28,982.63 78.28,985.89 78.95,985.89 78.95,984.2 79.38,984.2 79.38,977.38 80.35,977.38 80.35,970.96 81.58,970.96 81.58,964.05 81.95,964.05 81.95,958.59 82.68,958.59 82.68,968.61 83.55,968.61 83.55,976.69 84.88,976.69 84.88,974.95 85.54,974.95 85.54,978.25 85.98,978.25 85.98,975.29 87.08,975.29 87.08,968.51 87.94,968.51 87.94,964.39 89.28,964.39 89.28,964.77 89.94,964.77 89.94,963.92 90.38,963.92 90.38,963.7 91.48,963.7 91.48,959.72 92.34,959.72 92.34,954.05 93.68,954.05 93.68,959.17 94.34,959.17 94.34,962.11 94.78,962.11 94.78,965.24 95.88,965.24 95.88,967.4 96.33,967.4 96.33,968.88 96.98,968.88 96.98,962.98 98.08,962.98 98.08,959.58 99.18,959.58 99.18,956.52 99.93,956.52 99.93,948.61 100.28,948.61 100.28,948.94 101.38,948.94 101.38,942 101.93,942 101.93,942.86 102.48,942.86 102.48,941.85 103.58,941.85 103.58,932.09 103.93,932.09 103.93,930.36 104.68,930.36 104.68,923.92 105.78,923.92 105.78,921.6 106.88,921.6 106.88,926.1 107.92,926.1 107.92,925.87 109.08,925.87 109.08,907.04 109.52,907.04 109.52,898.33 110.18,898.33 110.18,885.53 110.92,885.53 110.92,874.13 111.28,874.13 111.28,877.47 112.32,877.47 112.32,868.35 113.48,868.35 113.48,874.61 113.92,874.61 113.92,878.73 114.58,878.73 114.58,893.16 115.51,893.16 115.51,911.23 116.78,911.23 116.78,928.26 117.88,928.26 117.88,935.72 118.91,935.72 118.91,943.29 120.08,943.29 120.08,938.11 120.91,938.11 120.91,936.93 122.28,936.93 122.28,950.69 122.91,950.69 122.91,956.52 123.38,956.52 123.38,949.52 124.48,949.52 124.48,941.53 124.91,941.53 124.91,939.65 125.58,939.65 125.58,928.75 126.3,928.75 126.3,914.6 126.68,914.6 126.68,913.84 127.78,913.84 127.78,903.33 128.88,903.33 128.88,897.31 129.9,897.31 129.9,899.24 131.08,899.24 131.08,901.2 131.9,901.2 131.9,895.63 133.28,895.63 133.28,908.44 134.38,908.44 134.38,932.97 134.9,932.97 134.9,944.98 135.48,944.98 135.48,946.83 136.58,946.83 136.58,952.24 136.89,952.24 136.89,955.45 137.68,955.45 137.68,955.88 138.78,955.88 138.78,945.48 139.88,945.48 139.88,941.1 140.89,941.1 140.89,932.47 142.08,932.47 142.08,921.86 142.89,921.86 142.89,919.03 144.28,919.03 144.28,908.78 145.38,908.78 145.38,924.39 145.88,924.39 145.88,933.41 146.48,933.41 146.48,936.52 147.58,936.52 147.58,937.75 148.68,937.75 148.68,943.18 149.78,943.18 149.78,943.37 150.88,943.37 150.88,940.99 151.88,940.99 151.88,939.07 153.08,939.07 153.08,931.89 153.48,931.89 153.48,930.98 154.18,930.98 154.18,927.8 155.28,927.8 155.28,921.57 156.38,921.57 156.38,930.02 156.87,930.02 156.87,938.69 157.48,938.69 157.48,946.3 158.58,946.3 158.58,959.72 159.68,959.72 159.68,959.5 160.78,959.5 160.78,955.14 161.88,955.14 161.88,941.8 162.87,941.8 162.87,935.15 164.08,935.15 164.08,912.72 164.87,912.72 164.87,901.37 165.18,901.37 165.18,891.33 165.86,891.33 165.86,873.34 166.28,873.34 166.28,870.24 167.38,870.24 167.38,865.46 168.48,865.46 168.48,869.19 169.58,869.19 169.58,870.12 170.68,870.12 170.68,889.51 171.46,889.51 171.46,910.6 171.78,910.6 171.78,920.34 172.86,920.34 172.86,950.94 173.98,950.94 173.98,973.76 175.08,973.76 175.08,976.01 175.85,976.01 175.85,971.75 176.18,971.75 176.18,967.49 177.28,967.49 177.28,962.92 177.85,962.92 177.85,965.19 178.38,965.19 178.38,962.53 179.48,962.53 179.48,961.21 179.85,961.21 179.85,963.57 180.58,963.57 180.58,949.97 181.68,949.97 181.68,930.85 182.78,930.85 182.78,907.61 183.85,907.61 183.85,885.17 184.98,885.17 184.98,853.8 185.44,853.8 185.44,839.66 186.08,839.66 186.08,834.2 186.84,834.2 186.84,822.35 187.18,822.35 187.18,827.23 188.28,827.23 188.28,845.89 188.84,845.89 188.84,853.9 189.38,853.9 189.38,852.38 190.24,852.38 190.24,852.35 191.58,852.35 191.58,840.66 192.68,840.66 192.68,862.78 193.44,862.78 193.44,884.36 193.78,884.36 193.78,893.81 194.84,893.81 194.84,919.16 195.98,919.16 195.98,930.99 196.83,930.99 196.83,937.62 198.18,937.62 198.18,946.69 198.83,946.69 198.83,954.72 199.28,954.72 199.28,959.67 200.38,959.67 200.38,962.45 200.83,962.45 200.83,967.78 201.48,967.78 201.48,968.34 202.58,968.34 202.58,968.79 203.68,968.79 203.68,974.07 204.78,974.07 204.78,973 205.88,973 205.88,961.86 206.82,961.86 206.82,951.3 208.08,951.3 208.08,896.37 209.18,896.37 209.18,847.11 210.28,847.11 210.28,810.63 211.38,810.63 211.38,806.18 211.82,806.18 211.82,803.25 212.48,803.25 212.48,814.2 213.42,814.2 213.42,829.96 214.68,829.96 214.68,885.69 215.78,885.69 215.78,918.57 216.21,918.57 216.21,930.06 216.88,930.06 216.88,937.37 217.81,937.37 217.81,941.29 219.08,941.29 219.08,938.23 219.81,938.23 219.81,938.71 220.18,938.71 220.18,940.72 221.28,940.72 221.28,944.84 221.81,944.84 221.81,949.14 222.38,949.14 222.38,954.27 223.41,954.27 223.41,954.77 224.58,954.77 224.58,951.16 225.4,951.16 225.4,943.69 226.78,943.69 226.78,961.88 227.4,961.88 227.4,966.95 227.88,966.95 227.88,961.71 228.98,961.71 228.98,958.46 229.8,958.46 229.8,951.73 231.18,951.73 231.18,949.57 231.8,949.57 231.8,951.98 232.28,951.98 232.28,952.27 233.38,952.27 233.38,954.61 233.8,954.61 233.8,948.34 234.48,948.34 234.48,948.73 235.58,948.73 235.58,954.8 236.68,954.8 236.68,952.78 237.78,952.78 237.78,954.54 238.19,954.54 238.19,955.83 238.88,955.83 238.88,960.27 239.98,960.27 239.98,965.83 241.08,965.83 241.08,971.29 242.18,971.29 242.18,983.15 243.28,983.15 243.28,978.32 244.19,978.32 244.19,975.68 245.48,975.68 245.48,962.66 246.18,962.66 246.18,956.63 246.58,956.63 246.58,960.41 247.68,960.41 247.68,963.58 248.18,963.58 248.18,963.53 248.78,963.53 248.78,956.71 249.78,956.71 249.78,948.19 250.98,948.19 250.98,940.34 251.78,940.34 251.78,941.21 252.08,941.21 252.08,940.51 253.18,940.51 253.18,953.86 254.28,953.86 254.28,964.99 255.37,964.99 255.37,969.36 256.48,969.36 256.48,975.56 257.37,975.56 257.37,981.27 258.68,981.27 258.68,981.21 259.37,981.21 259.37,977.29 259.78,977.29 259.78,980.55 260.77,980.55 260.77,979.8 261.98,979.8 261.98,975.58 262.77,975.58 262.77,969.73 263.08,969.73 263.08,968.49 264.18,968.49 264.18,970.1 265.28,970.1 265.28,968.39 266.38,968.39 266.38,964.23 267.36,964.23 267.36,957.55 268.58,957.55 268.58,956.55 269.68,956.55 269.68,950.21 270.78,950.21 270.78,952.38 271.76,952.38 271.76,955.53 272.98,955.53 272.98,946.64 273.76,946.64 273.76,940.07 274.08,940.07 274.08,941.65 275.18,941.65 275.18,943.22 276.28,943.22 276.28,947.84 277.35,947.84 277.35,948.38 278.48,948.38 278.48,950.33 279.58,950.33 279.58,951.04 280.68,951.04 280.68,950.17 281.75,950.17 281.75,952.21 282.88,952.21 282.88,940.91 283.75,940.91 283.75,933.01 285.08,933.01 285.08,920.43 286.18,920.43 286.18,916.66 286.74,916.66 286.74,916.7 287.28,916.7 287.28,916.93 288.34,916.93 288.34,920.05 289.48,920.05 289.48,929.34 290.58,929.34 290.58,934.95 291.68,934.95 291.68,944.25 292.78,944.25 292.78,946.3 293.74,946.3 293.74,954.84 294.98,954.84 294.98,948.44 295.73,948.44 295.73,951.06 296.08,951.06 296.08,947.58 297.18,947.58 297.18,948.91 297.73,948.91 297.73,945.73 298.28,945.73 298.28,945.48 299.38,945.48 299.38,950.5 299.73,950.5 299.73,956.87 300.48,956.87 300.48,960.95 301.58,960.95 301.58,966.97 302.68,966.97 302.68,970.53 303.73,970.53 303.73,976.67 304.88,976.67 304.88,967.84 305.72,967.84 305.72,959.74 307.08,959.74 307.08,948.27 307.72,948.27 307.72,941.03 308.18,941.03 308.18,940.24 309.28,940.24 309.28,930.1 309.72,930.1 309.72,927.25 310.38,927.25 310.38,920.72 311.48,920.72 311.48,919.88 312.58,919.88 312.58,918.31 313.68,918.31 313.68,919.45 314.12,919.45 314.12,918.61 314.78,918.61 314.78,916.06 315.88,916.06 315.88,914.16 316.71,914.16 316.71,913.57 318.08,913.57 318.08,914.62 318.71,914.62 318.71,917.93 319.18,917.93 319.18,916.02 320.28,916.02 320.28,906.31 320.71,906.31 320.71,902.23 321.38,902.23 321.38,888.21 322.11,888.21 322.11,871.69 322.48,871.69 322.48,856.99 323.31,856.99 323.31,828.78 324.31,828.78 324.31,822.26 324.68,822.26 324.68,822.99 325.7,822.99 325.7,835.8 326.88,835.8 326.88,868.07 327.98,868.07 327.98,893.97 328.7,893.97 328.7,910.94 329.08,910.94 329.08,916.33 330.18,916.33 330.18,922.98 330.7,922.98 330.7,929.41 331.28,929.41 331.28,928.3 332.38,928.3 332.38,932.36 332.7,932.36 332.7,931.64 333.48,931.64 333.48,933.83 334.58,933.83 334.58,927.53 335.68,927.53 335.68,925.8 336.69,925.8 336.69,928.07 337.88,928.07 337.88,926.75 338.69,926.75 338.69,921.39 340.08,921.39 340.08,919.74 341.18,919.74 341.18,926.51 341.69,926.51 341.69,926.42 342.28,926.42 342.28,927.07 343.38,927.07 343.38,936.72 343.69,936.72 343.69,934.35 344.48,934.35 344.48,940.93 345.58,940.93 345.58,947.3 346.68,947.3 346.68,942.93 347.68,942.93 347.68,937.19 348.88,937.19 348.88,950.5 349.28,950.5 349.28,953.45 349.98,953.45 349.98,955.06 351.08,955.06 351.08,968.43 352.18,968.43 352.18,963.8 353.28,963.8 353.28,954.98 354.38,954.98 354.38,949.67 355.27,949.67 355.27,947.23 356.58,947.23 356.58,961.64 357.27,961.64 357.27,967.63 357.68,967.63 357.68,962.04 358.78,962.04 358.78,951.5 359.27,951.5 359.27,947.54 359.88,947.54 359.88,945.19 360.98,945.19 360.98,938.71 362.08,938.71 362.08,938.83 363.18,938.83 363.18,945.22 364.28,945.22 364.28,948.35 365.38,948.35 365.38,941.17 366.48,941.17 366.48,944.07 367.58,944.07 367.58,947.52 368.68,947.52 368.68,945.97 369.66,945.97 369.66,946.69 370.88,946.69 370.88,951.93 371.66,951.93 371.66,957.44 371.98,957.44 371.98,964.25 373.08,964.25 373.08,970.17 373.66,970.17 373.66,971.32 374.18,971.32 374.18,974.97 375.28,974.97 375.28,974.04 375.65,974.04 375.65,974.34 376.38,974.34 376.38,981.75 377.48,981.75 377.48,986.2 378.05,986.2 378.05,990.15 378.58,990.15 378.58,985.28 379.68,985.28 379.68,980.54 380.05,980.54 380.05,980.86 380.78,980.86 380.78,980.21 381.88,980.21 381.88,970.85 382.65,970.85 382.65,968.29 382.98,968.29 382.98,964.38 384.08,964.38 384.08,963.92 385.18,963.92 385.18,963.22 386.28,963.22 386.28,956.64 387.38,956.64 387.38,948.5 388.48,948.5 388.48,947.44 389.58,947.44 389.58,943.41 390.68,943.41 390.68,933.05 391.64,933.05 391.64,931.56 392.88,931.56 392.88,930.45 393.64,930.45 393.64,928.06 393.98,928.06 393.98,929.42 394.99,929.42 394.99,936.06 396.18,936.06 396.18,935.84 396.98,935.84 396.98,934.91 397.28,934.91 397.28,932.09 398.38,932.09 398.38,929.44 398.98,929.44 398.98,926.74 399.48,926.74 399.48,918.26 399.98,918.26 399.98,907.8 400.58,907.8 400.58,902.39 401.58,902.39 401.58,896.96 402.78,896.96 402.78,895.96 403.88,895.96 403.88,904.69 404.38,904.69 404.38,910.06 404.98,910.06 404.98,920.33 405.97,920.33 405.97,928.34 407.18,928.34 407.18,942.78 407.57,942.78 407.57,947.02 408.28,947.02 408.28,951.13 408.97,951.13 408.97,952.75 409.38,952.75 409.38,946.34 409.97,946.34 409.97,938.05 410.48,938.05 410.48,939.59 411.58,939.59 411.58,939 411.97,939 411.97,939 412.68,939 412.68,938.97 413.78,938.97 413.78,934.4 414.88,934.4 414.88,936.17 415.98,936.17 415.98,940.28 416.36,940.28 416.36,936.44 417.08,936.44 417.08,936.16 418.18,936.16 418.18,940.55 418.96,940.55 418.96,942.85 419.28,942.85 419.28,945.54 420.38,945.54 420.38,946.15 420.96,946.15 420.96,952.12 421.48,952.12 421.48,950.3 422.58,950.3 422.58,954.09 422.96,954.09 422.96,953.84 423.68,953.84 423.68,957.74 424.78,957.74 424.78,959.19 425.55,959.19 425.55,962.72 425.88,962.72 425.88,966.7 426.98,966.7 426.98,964.42 427.95,964.42 427.95,970.34 429.18,970.34 429.18,973.23 430.28,973.23 430.28,972.8 430.95,972.8 430.95,972.89 431.38,972.89 431.38,980.22 432.48,980.22 432.48,984.79 433.55,984.79 433.55,988.68 434.68,988.68 434.68,981.15 435.78,981.15 435.78,982.85 436.88,982.85 436.88,976.36 437.98,976.36 437.98,972.65 438.34,972.65 438.34,972.04 439.08,972.04 439.08,965.01 439.94,965.01 439.94,959.82 441.28,959.82 441.28,947.41 441.94,947.41 441.94,942.69 442.38,942.69 442.38,940.31 443.48,940.31 443.48,932.74 443.94,932.74 443.94,924.75 444.58,924.75 444.58,920.49 445.68,920.49 445.68,918.24 446.78,918.24 446.78,912.7 447.88,912.7 447.88,907.27 448.98,907.27 448.98,907.71 449.33,907.71 449.33,902.14 450.08,902.14 450.08,903.78 450.93,903.78 450.93,906.14 452.28,906.14 452.28,908.86 452.93,908.86 452.93,907.86 453.38,907.86 453.38,908.19 454.48,908.19 454.48,913.31 454.93,913.31 454.93,914.42 455.58,914.42 455.58,923.33 456.68,923.33 456.68,935.23 457.78,935.23 457.78,936.04 458.88,936.04 458.88,940.77 459.98,940.77 459.98,940.38 460.92,940.38 460.92,947.76 462.18,947.76 462.18,941.27 462.92,941.27 462.92,939.32 463.28,939.32 463.28,943.36 464.38,943.36 464.38,946.06 464.92,946.06 464.92,949.18 465.48,949.18 465.48,946.47 466.58,946.47 466.58,945.1 466.91,945.1 466.91,947.38 467.68,947.38 467.68,948.56 468.78,948.56 468.78,952.17 469.88,952.17 469.88,954.38 470.91,954.38 470.91,951.76 472.08,951.76 472.08,949.05 473.18,949.05 473.18,950.59 473.91,950.59 473.91,958.04 474.28,958.04 474.28,959.9 475.38,959.9 475.38,967.88 475.9,967.88 475.9,966.51 476.48,966.51 476.48,962.61 477.58,962.61 477.58,947.78 477.9,947.78 477.9,945.51 478.68,945.51 478.68,946.1 479.78,946.1 479.78,941.01 480.88,941.01 480.88,954.22 481.5,954.22 481.5,963.11 481.98,963.11 481.98,966.62 482.9,966.62 482.9,969.2 484.18,969.2 484.18,962.8 484.9,962.8 484.9,958.64 485.28,958.64 485.28,958.6 486.38,958.6 486.38,958.62 486.89,958.62 486.89,960.03 487.48,960.03 487.48,964.4 488.29,964.4 488.29,977.16 489.49,977.16 489.49,982.41 490.49,982.41 490.49,970.34 491.29,970.34 491.29,981.41" fill="none" stroke="#000" stroke-width="2.4" stroke-linejoin="miter" clip-path="url(#c3)"/>
<polyline points="46.98,971.59 48.08,971.59 48.08,968.95 48.98,968.95 48.98,967.68 50.28,967.68 50.28,971.67 50.98,971.67 50.98,972.85 51.38,972.85 51.38,973.18 52.48,973.18 52.48,971.55 53.58,971.55 53.58,971.82 53.98,971.82 53.98,972.03 54.68,972.03 54.68,971.77 55.78,971.77 55.78,972.21 56.88,972.21 56.88,971.87 57.98,971.87 57.98,969.76 59.08,969.76 59.08,967.7 59.97,967.7 59.97,967.91 61.28,967.91 61.28,963.33 61.97,963.33 61.97,961.55 62.38,961.55 62.38,961.85 63.48,961.85 63.48,961.59 64.58,961.59 64.58,960.94 64.97,960.94 64.97,960.16 65.68,960.16 65.68,958.95 66.78,958.95 66.78,957.67 67.88,957.67 67.88,956.91 68.98,956.91 68.98,957.95 70.08,957.95 70.08,955.77 70.96,955.77 70.96,955.58 72.28,955.58 72.28,956.51 73.38,956.51 73.38,957.98 73.96,957.98 73.96,959.5 74.48,959.5 74.48,960.21 75.58,960.21 75.58,961.81 76.68,961.81 76.68,963.87 77.78,963.87 77.78,965.93 78.88,965.93 78.88,964.92 79.95,964.92 79.95,965.99 81.08,965.99 81.08,966.07 82.18,966.07 82.18,965.35 82.95,965.35 82.95,964.89 83.28,964.89 83.28,966.23 84.38,966.23 84.38,968.94 85.48,968.94 85.48,971.24 86.58,971.24 86.58,973.59 87.68,973.59 87.68,975.74 88.78,975.74 88.78,973.61 89.88,973.61 89.88,970.74 90.98,970.74 90.98,965.68 91.94,965.68 91.94,961.63 93.18,961.63 93.18,949.23 93.94,949.23 93.94,941.93 94.28,941.93 94.28,937.09 95.38,937.09 95.38,922.13 96.48,922.13 96.48,916.51 96.93,916.51 96.93,915.62 97.58,915.62 97.58,922.37 98.33,922.37 98.33,929.72 98.68,929.72 98.68,937.26 99.53,937.26 99.53,955.8 100.88,955.8 100.88,945.78 101.98,945.78 101.98,938.84 102.93,938.84 102.93,933.62 104.18,933.62 104.18,929.36 104.93,929.36 104.93,925.98 105.28,925.98 105.28,926.04 106.38,926.04 106.38,923.11 106.92,923.11 106.92,922.12 107.48,922.12 107.48,922.2 108.58,922.2 108.58,920.62 108.92,920.62 108.92,919.91 109.68,919.91 109.68,910.11 110.32,910.11 110.32,901.82 110.78,901.82 110.78,894.03 111.52,894.03 111.52,881.95 111.88,881.95 111.88,879.69 112.92,879.69 112.92,875.04 114.08,875.04 114.08,877.51 115.18,877.51 115.18,892.47 115.51,892.47 115.51,897.97 116.28,897.97 116.28,910.13 116.91,910.13 116.91,919.8 117.38,919.8 117.38,924.26 118.48,924.26 118.48,935 118.91,935 118.91,939.67 119.58,939.67 119.58,943.72 120.68,943.72 120.68,948.94 121.78,948.94 121.78,949.95 122.88,949.95 122.88,948.62 123.98,948.62 123.98,945.51 124.91,945.51 124.91,944.09 126.18,944.09 126.18,932.96 126.9,932.96 126.9,925.89 127.28,925.89 127.28,921.3 128.38,921.3 128.38,909.33 128.9,909.33 128.9,903.77 129.48,903.77 129.48,901.28 130.58,901.28 130.58,896.47 130.9,896.47 130.9,895.95 131.68,895.95 131.68,897.67 132.78,897.67 132.78,897.4 133.88,897.4 133.88,909.35 134.3,909.35 134.3,913.91 134.98,913.91 134.98,920.76 135.89,920.76 135.89,929.98 137.18,929.98 137.18,937.52 137.89,937.52 137.89,941.97 138.28,941.97 138.28,940.31 139.38,940.31 139.38,939.55 139.89,939.55 139.89,937.72 140.48,937.72 140.48,933.56 141.58,933.56 141.58,928.04 141.89,928.04 141.89,925.97 142.68,925.97 142.68,916.16 143.49,916.16 143.49,905.97 144.88,905.97 144.88,887.88 145.98,887.88 145.98,886.31 146.28,886.31 146.28,886.74 147.08,886.74 147.08,892.85 147.88,892.85 147.88,898.1 148.18,898.1 148.18,900.76 149.28,900.76 149.28,911.81 150.38,911.81 150.38,922.83 150.88,922.83 150.88,927.98 151.48,927.98 151.48,923.03 152.28,923.03 152.28,917.96 152.58,917.96 152.58,913.15 153.68,913.15 153.68,896.8 154.78,896.8 154.78,885.08 155.27,885.08 155.27,880.75 155.88,880.75 155.88,882.65 156.87,882.65 156.87,883.94 158.08,883.94 158.08,899.9 159.18,899.9 159.18,915.94 159.87,915.94 159.87,925.95 160.28,925.95 160.28,930.05 161.38,930.05 161.38,942.52 161.87,942.52 161.87,947.99 162.48,947.99 162.48,946.41 163.47,946.41 163.47,943.63 164.68,943.63 164.68,920.89 165.78,920.89 165.78,889.18 166.26,889.18 166.26,873.99 166.88,873.99 166.88,864.48 167.86,864.48 167.86,849.89 169.08,849.89 169.08,847.67 170.18,847.67 170.18,860.08 171.28,860.08 171.28,886.13 171.86,886.13 171.86,901.96 172.38,901.96 172.38,912.51 173.46,912.51 173.46,933.84 174.58,933.84 174.58,945.77 175.45,945.77 175.45,955.81 176.78,955.81 176.78,961.73 177.85,961.73 177.85,965.7 178.98,965.7 178.98,962.2 180.08,962.2 180.08,960.47 181.18,960.47 181.18,950.02 182.25,950.02 182.25,937.84 183.38,937.84 183.38,912.29 183.85,912.29 183.85,901.91 184.48,901.91 184.48,883.6 185.44,883.6 185.44,855.88 186.68,855.88 186.68,829.22 187.78,829.22 187.78,823.39 188.24,823.39 188.24,822.77 188.88,822.77 188.88,826.03 189.44,826.03 189.44,829.88 189.98,829.88 189.98,826.43 190.84,826.43 190.84,822.08 192.18,822.08 192.18,819.2 193.28,819.2 193.28,826.1 193.84,826.1 193.84,830.1 194.38,830.1 194.38,848.18 195.03,848.18 195.03,869.87 195.48,869.87 195.48,883.37 196.23,883.37 196.23,905.88 196.58,905.88 196.58,912.02 197.68,912.02 197.68,930.98 198.78,930.98 198.78,941.45 199.83,941.45 199.83,949.93 200.98,949.93 200.98,954.62 202.08,954.62 202.08,958.86 203.18,958.86 203.18,962.02 204.28,962.02 204.28,962.75 204.83,962.75 204.83,964.09 205.38,964.09 205.38,962.64 206.48,962.64 206.48,958.13 206.82,958.13 206.82,957.76 207.58,957.76 207.58,944.24 208.42,944.24 208.42,929.9 209.78,929.9 209.78,881.23 210.82,881.23 210.82,829.92 211.82,829.92 211.82,806.05 213.08,806.05 213.08,803.85 214.18,803.85 214.18,816.88 215.28,816.88 215.28,863.4 216.38,863.4 216.38,897.39 216.81,897.39 216.81,909.94 217.48,909.94 217.48,915.05 218.58,915.05 218.58,924.03 219.68,924.03 219.68,929.87 220.78,929.87 220.78,934.92 221.41,934.92 221.41,937.64 221.88,937.64 221.88,940.28 222.98,940.28 222.98,944.49 223.81,944.49 223.81,947.8 225.18,947.8 225.18,951.22 226.28,951.22 226.28,953.57 226.8,953.57 226.8,954 227.38,954 227.38,955.51 228.48,955.51 228.48,955.96 229.58,955.96 229.58,956.76 230.68,956.76 230.68,958.56 231.78,958.56 231.78,960.58 232.8,960.58 232.8,962 233.98,962 233.98,963.22 235.08,963.22 235.08,963.74 235.79,963.74 235.79,963.91 236.18,963.91 236.18,963.83 237.28,963.83 237.28,962.56 238.38,962.56 238.38,960.31 238.79,960.31 238.79,960.8 239.48,960.8 239.48,961.05 240.58,961.05 240.58,961.67 241.68,961.67 241.68,963.76 242.78,963.76 242.78,966.13 243.88,966.13 243.88,967.04 244.79,967.04 244.79,968.9 246.08,968.9 246.08,963.22 246.78,963.22 246.78,959.92 247.18,959.92 247.18,959.31 248.28,959.31 248.28,955.79 248.78,955.79 248.78,953.66 249.38,953.66 249.38,954.55 250.48,954.55 250.48,955.26 251.58,955.26 251.58,954.02 252.68,954.02 252.68,952.3 253.78,952.3 253.78,953.32 254.78,953.32 254.78,955.87 255.98,955.87 255.98,962.51 256.77,962.51 256.77,965.68 257.08,965.68 257.08,967.15 258.18,967.15 258.18,970.04 259.28,970.04 259.28,972.45 259.77,972.45 259.77,973.95 260.38,973.95 260.38,971.92 261.48,971.92 261.48,969.64 262.58,969.64 262.58,968.94 263.68,968.94 263.68,967.61 264.78,967.61 264.78,965.87 265.76,965.87 265.76,965.56 266.98,965.56 266.98,963.11 268.08,963.11 268.08,961.22 268.76,961.22 268.76,960.1 269.18,960.1 269.18,959.31 270.28,959.31 270.28,960.03 271.38,960.03 271.38,959.74 271.76,959.74 271.76,959.86 272.48,959.86 272.48,959.74 273.58,959.74 273.58,956.84 274.68,956.84 274.68,956.47 275.78,956.47 275.78,955.74 276.88,955.74 276.88,954.05 277.75,954.05 277.75,953.58 279.08,953.58 279.08,959.36 279.75,959.36 279.75,962 280.18,962 280.18,962.76 281.28,962.76 281.28,965.01 282.15,965.01 282.15,967.81 283.48,967.81 283.48,962.73 284.15,962.73 284.15,959.78 284.58,959.78 284.58,955.34 285.68,955.34 285.68,944.03 286.78,944.03 286.78,935.55 287.34,935.55 287.34,931.73 287.88,931.73 287.88,931.49 288.74,931.49 288.74,929.67 290.08,929.67 290.08,938.95 291.18,938.95 291.18,943.87 292.14,943.87 292.14,947.7 293.38,947.7 293.38,945.98 294.14,945.98 294.14,945.95 294.48,945.95 294.48,945.64 295.58,945.64 295.58,946.99 296.68,946.99 296.68,946.96 297.78,946.96 297.78,950.13 298.88,950.13 298.88,953.12 299.33,953.12 299.33,953.83 299.98,953.83 299.98,955.51 301.08,955.51 301.08,958.83 301.73,958.83 301.73,961.67 302.18,961.67 302.18,962.31 303.28,962.31 303.28,963.62 304.38,963.62 304.38,965.96 304.73,965.96 304.73,966.81 305.48,966.81 305.48,964.17 306.58,964.17 306.58,962.31 307.68,962.31 307.68,956.69 308.72,956.69 308.72,949.96 309.88,949.96 309.88,944.04 310.72,944.04 310.72,939.99 312.08,939.99 312.08,938.98 313.18,938.98 313.18,937.62 313.72,937.62 313.72,936.18 314.28,936.18 314.28,935.83 315.38,935.83 315.38,934.63 316.48,934.63 316.48,932.87 317.58,932.87 317.58,930.5 318.68,930.5 318.68,928.49 319.71,928.49 319.71,927.81 320.88,927.81 320.88,925.25 321.98,925.25 321.98,921.85 323.08,921.85 323.08,911.91 323.71,911.91 323.71,905.74 324.18,905.74 324.18,895.29 325.1,895.29 325.1,875.85 326.3,875.85 326.3,858 327.3,858 327.3,865.79 328.58,865.79 328.58,896.73 329.68,896.73 329.68,917.99 330.1,917.99 330.1,925.95 330.78,925.95 330.78,931.59 331.7,931.59 331.7,939.69 332.98,939.69 332.98,941.04 334.08,941.04 334.08,943.34 334.7,943.34 334.7,944.54 335.18,944.54 335.18,945.17 336.28,945.17 336.28,944.46 337.38,944.46 337.38,944.89 337.69,944.89 337.69,945.52 338.48,945.52 338.48,945.68 339.58,945.68 339.58,946.11 340.68,946.11 340.68,946.94 341.78,946.94 341.78,947.76 342.88,947.76 342.88,948.59 343.69,948.59 343.69,949.88 345.08,949.88 345.08,951.48 346.18,951.48 346.18,952.56 346.68,952.56 346.68,953.52 347.28,953.52 347.28,955.48 348.38,955.48 348.38,957.96 349.48,957.96 349.48,960.39 350.58,960.39 350.58,961.06 351.68,961.06 351.68,961.15 352.68,961.15 352.68,961.72 353.88,961.72 353.88,960.32 354.98,960.32 354.98,960.03 355.67,960.03 355.67,959.76 356.08,959.76 356.08,960.42 357.18,960.42 357.18,958.38 358.28,958.38 358.28,958.41 358.67,958.41 358.67,958 359.38,958 359.38,956.8 360.48,956.8 360.48,954.49 361.58,954.49 361.58,951.24 362.68,951.24 362.68,950.28 363.78,950.28 363.78,950.29 364.67,950.29 364.67,949.9 365.98,949.9 365.98,951.72 367.08,951.72 367.08,952.24 367.66,952.24 367.66,951.71 368.18,951.71 368.18,952.54 369.28,952.54 369.28,956.49 370.38,956.49 370.38,958.33 371.48,958.33 371.48,962.07 372.58,962.07 372.58,963.05 373.66,963.05 373.66,965.84 374.78,965.84 374.78,968 375.88,968 375.88,968.13 376.65,968.13 376.65,969.55 376.98,969.55 376.98,970.23 378.08,970.23 378.08,971.71 379.18,971.71 379.18,971.46 379.65,971.46 379.65,972.74 380.28,972.74 380.28,972.26 381.38,972.26 381.38,970.54 382.48,970.54 382.48,968.02 383.58,968.02 383.58,964.48 384.68,964.48 384.68,962.42 385.64,962.42 385.64,959.85 386.88,959.85 386.88,956.41 387.98,956.41 387.98,953.73 388.64,953.73 388.64,951.89 389.08,951.89 389.08,950.96 390.18,950.96 390.18,948.84 391.28,948.84 391.28,946.68 391.64,946.68 391.64,946 392.38,946 392.38,941.88 393.48,941.88 393.48,934.3 393.99,934.3 393.99,931.9 394.58,931.9 394.58,931.12 395.68,931.12 395.68,930.98 396.78,930.98 396.78,930.22 397.88,930.22 397.88,931.67 398.98,931.67 398.98,933.73 400.08,933.73 400.08,924.06 400.58,924.06 400.58,919.69 401.18,919.69 401.18,911.8 401.98,911.8 401.98,901.82 402.28,901.82 402.28,900.15 403.38,900.15 403.38,894.86 404.48,894.86 404.48,900.74 405.58,900.74 405.58,917.61 405.97,917.61 405.97,923.92 406.68,923.92 406.68,930.35 407.57,930.35 407.57,937.85 408.88,937.85 408.88,940.59 409.97,940.59 409.97,941.78 411.08,941.78 411.08,939.68 412.18,939.68 412.18,938.95 412.97,938.95 412.97,937.67 413.28,937.67 413.28,937.04 414.38,937.04 414.38,937.31 415.48,937.31 415.48,936.24 415.96,936.24 415.96,935.62 416.58,935.62 416.58,936.41 417.68,936.41 417.68,939.55 418.78,939.55 418.78,941.78 419.88,941.78 419.88,945.01 420.98,945.01 420.98,947.75 421.96,947.75 421.96,949.72 423.18,949.72 423.18,952.57 424.28,952.57 424.28,955.2 424.96,955.2 424.96,956.05 425.38,956.05 425.38,957.05 426.48,957.05 426.48,956.02 427.58,956.02 427.58,956.47 428.68,956.47 428.68,956.84 429.78,956.84 429.78,958.9 430.88,958.9 430.88,959.74 431.98,959.74 431.98,960.28 432.95,960.28 432.95,960.62 434.18,960.62 434.18,960.17 435.28,960.17 435.28,960.56 436.38,960.56 436.38,958.98 436.94,958.98 436.94,959.99 437.48,959.99 437.48,959.21 438.58,959.21 438.58,957.32 439.68,957.32 439.68,955.28 440.78,955.28 440.78,950.08 441.88,950.08 441.88,944.49 442.94,944.49 442.94,939.74 444.08,939.74 444.08,931.73 444.94,931.73 444.94,925.86 446.28,925.86 446.28,917.47 446.93,917.47 446.93,913.74 447.38,913.74 447.38,912.89 448.48,912.89 448.48,911.16 448.93,911.16 448.93,909.6 449.58,909.6 449.58,910.76 450.68,910.76 450.68,910.89 451.78,910.89 451.78,910.89 452.88,910.89 452.88,911.29 453.98,911.29 453.98,912.25 454.93,912.25 454.93,911.84 456.18,911.84 456.18,917.88 456.92,917.88 456.92,921.64 457.28,921.64 457.28,923.27 458.38,923.27 458.38,928.44 458.92,928.44 458.92,931.67 459.48,931.67 459.48,933.82 460.58,933.82 460.58,937.16 461.68,937.16 461.68,941.64 462.78,941.64 462.78,943.61 463.88,943.61 463.88,946.36 464.92,946.36 464.92,947.68 466.08,947.68 466.08,949.49 467.18,949.49 467.18,950.23 467.91,950.23 467.91,950.11 468.28,950.11 468.28,950.54 469.38,950.54 469.38,949.52 470.48,949.52 470.48,948.24 470.91,948.24 470.91,948.98 471.58,948.98 471.58,950.51 472.68,950.51 472.68,950.7 473.78,950.7 473.78,952.23 474.88,952.23 474.88,952.82 475.98,952.82 475.98,953.82 476.9,953.82 476.9,954.09 478.18,954.09 478.18,955.99 479.28,955.99 479.28,956.38 479.9,956.38 479.9,957.72 480.38,957.72 480.38,958.15 481.48,958.15 481.48,958.29 482.58,958.29 482.58,959.9 482.9,959.9 482.9,959.7 483.68,959.7 483.68,959.4 484.78,959.4 484.78,960.57 485.88,960.57 485.88,962.17 486.98,962.17 486.98,963.23 488.08,963.23 488.08,963.69 488.89,963.69 488.89,964.72 490.28,964.72 490.28,966.51 490.89,966.51 490.89,967.01" fill="none" stroke="#ff0000" stroke-width="2.7" stroke-linejoin="miter" clip-path="url(#c3)"/>
<line x1="45.9" y1="1016.5" x2="493.6" y2="1016.5" stroke="#000" stroke-width="1.8"/>
<line x1="46.8" y1="1016.5" x2="46.8" y2="1021.9" stroke="#000" stroke-width="1.8"/>
<text transform="translate(46.4 1039.7) scale(1.02 1)" font-size="15.5" text-anchor="middle" fill="#1f1f1f" stroke="#1f1f1f" stroke-width="0.3">4.5</text>
<line x1="74.67" y1="1016.5" x2="74.67" y2="1019.4" stroke="#000" stroke-width="1.7"/>
<line x1="102.54" y1="1016.5" x2="102.54" y2="1021.9" stroke="#000" stroke-width="1.8"/>
<text transform="translate(102.14 1039.7) scale(1.02 1)" font-size="15.5" text-anchor="middle" fill="#1f1f1f" stroke="#1f1f1f" stroke-width="0.3">4.0</text>
<line x1="130.41" y1="1016.5" x2="130.41" y2="1019.4" stroke="#000" stroke-width="1.7"/>
<line x1="158.27" y1="1016.5" x2="158.27" y2="1021.9" stroke="#000" stroke-width="1.8"/>
<text transform="translate(157.87 1039.7) scale(1.02 1)" font-size="15.5" text-anchor="middle" fill="#1f1f1f" stroke="#1f1f1f" stroke-width="0.3">3.5</text>
<line x1="186.14" y1="1016.5" x2="186.14" y2="1019.4" stroke="#000" stroke-width="1.7"/>
<line x1="214.01" y1="1016.5" x2="214.01" y2="1021.9" stroke="#000" stroke-width="1.8"/>
<text transform="translate(213.61 1039.7) scale(1.02 1)" font-size="15.5" text-anchor="middle" fill="#1f1f1f" stroke="#1f1f1f" stroke-width="0.3">3.0</text>
<line x1="241.88" y1="1016.5" x2="241.88" y2="1019.4" stroke="#000" stroke-width="1.7"/>
<line x1="269.75" y1="1016.5" x2="269.75" y2="1021.9" stroke="#000" stroke-width="1.8"/>
<text transform="translate(269.35 1039.7) scale(1.02 1)" font-size="15.5" text-anchor="middle" fill="#1f1f1f" stroke="#1f1f1f" stroke-width="0.3">2.5</text>
<line x1="297.62" y1="1016.5" x2="297.62" y2="1019.4" stroke="#000" stroke-width="1.7"/>
<line x1="325.49" y1="1016.5" x2="325.49" y2="1021.9" stroke="#000" stroke-width="1.8"/>
<text transform="translate(325.09 1039.7) scale(1.02 1)" font-size="15.5" text-anchor="middle" fill="#1f1f1f" stroke="#1f1f1f" stroke-width="0.3">2.0</text>
<line x1="353.36" y1="1016.5" x2="353.36" y2="1019.4" stroke="#000" stroke-width="1.7"/>
<line x1="381.22" y1="1016.5" x2="381.22" y2="1021.9" stroke="#000" stroke-width="1.8"/>
<text transform="translate(380.82 1039.7) scale(1.02 1)" font-size="15.5" text-anchor="middle" fill="#1f1f1f" stroke="#1f1f1f" stroke-width="0.3">1.5</text>
<line x1="409.09" y1="1016.5" x2="409.09" y2="1019.4" stroke="#000" stroke-width="1.7"/>
<line x1="436.96" y1="1016.5" x2="436.96" y2="1021.9" stroke="#000" stroke-width="1.8"/>
<text transform="translate(436.56 1039.7) scale(1.02 1)" font-size="15.5" text-anchor="middle" fill="#1f1f1f" stroke="#1f1f1f" stroke-width="0.3">1.0</text>
<line x1="464.83" y1="1016.5" x2="464.83" y2="1019.4" stroke="#000" stroke-width="1.7"/>
<line x1="492.7" y1="1016.5" x2="492.7" y2="1021.9" stroke="#000" stroke-width="1.8"/>
<text transform="translate(492.3 1039.7) scale(1.02 1)" font-size="15.5" text-anchor="middle" fill="#1f1f1f" stroke="#1f1f1f" stroke-width="0.3">0.5</text>
<text x="171.6" y="1068.7" font-size="17.5" fill="#1f1f1f" stroke="#1f1f1f" stroke-width="0.3" textLength="196" lengthAdjust="spacingAndGlyphs"><tspan font-size="11" dy="-7">1</tspan><tspan dy="7">H Chemical shift (ppm)</tspan></text>
<text x="24.2" y="106.9" font-size="33.4" font-weight="bold" fill="#000" textLength="122" lengthAdjust="spacingAndGlyphs">Model 1</text>
<text x="30.4" y="146.3" font-size="33.4" font-weight="bold" fill="#000" textLength="110.6" lengthAdjust="spacingAndGlyphs">U87GM</text>
<text x="23.6" y="428.6" font-size="33.4" font-weight="bold" fill="#000" textLength="126" lengthAdjust="spacingAndGlyphs">Model 2</text>
<text x="-1.2" y="467" font-size="33.4" font-weight="bold" fill="#000" textLength="175.6" lengthAdjust="spacingAndGlyphs">LN-2669GS</text>
<text x="24.1" y="721" font-size="33.4" font-weight="bold" fill="#000" textLength="125.2" lengthAdjust="spacingAndGlyphs">Model 3</text>
<text x="-1.2" y="759.9" font-size="33.4" font-weight="bold" fill="#000" textLength="175.6" lengthAdjust="spacingAndGlyphs">LN-3708GS</text>
<line x1="95.5" y1="886.8" x2="95.5" y2="913.9" stroke="#222" stroke-width="1.2"/>
<text x="99.9" y="881.8" font-size="16.5" fill="#1f1f1f" stroke="#1f1f1f" stroke-width="0.3" transform="rotate(-90 99.9 881.8)" textLength="22" lengthAdjust="spacingAndGlyphs">Ins</text>
<line x1="112.9" y1="842.8" x2="112.9" y2="868.9" stroke="#222" stroke-width="1.2"/>
<text x="116.3" y="838.3" font-size="16.5" fill="#1f1f1f" stroke="#1f1f1f" stroke-width="0.3" transform="rotate(-90 116.3 838.3)" textLength="55.4" lengthAdjust="spacingAndGlyphs">PCr, Cr</text>
<line x1="130.5" y1="868.9" x2="130.5" y2="893.9" stroke="#222" stroke-width="1.2"/>
<text x="133.9" y="869.8" font-size="16.5" fill="#1f1f1f" stroke="#1f1f1f" stroke-width="0.3" transform="rotate(-90 133.9 869.8)" textLength="62" lengthAdjust="spacingAndGlyphs">Glu, Gln</text>
<line x1="146.5" y1="848.8" x2="146.5" y2="885.9" stroke="#222" stroke-width="1.2"/>
<text x="145.9" y="843.8" font-size="16.5" fill="#1f1f1f" stroke="#1f1f1f" stroke-width="0.3" transform="rotate(-90 145.9 843.8)" textLength="70" lengthAdjust="spacingAndGlyphs">Ins, PCho</text>
<line x1="155.5" y1="851.8" x2="155.5" y2="879.9" stroke="#222" stroke-width="1.2"/>
<text x="160.9" y="846.8" font-size="16.5" fill="#1f1f1f" stroke="#1f1f1f" stroke-width="0.3" transform="rotate(-90 160.9 846.8)" textLength="56" lengthAdjust="spacingAndGlyphs">Ins, Gly</text>
<line x1="169.9" y1="819.9" x2="169.9" y2="843.9" stroke="#222" stroke-width="1.2"/>
<text x="173.5" y="814.9" font-size="16.5" fill="#1f1f1f" stroke="#1f1f1f" stroke-width="0.3" transform="rotate(-90 173.5 814.9)" textLength="25" lengthAdjust="spacingAndGlyphs">Tau</text>
<line x1="187.8" y1="796.9" x2="187.8" y2="819.9" stroke="#222" stroke-width="1.2"/>
<text x="185.4" y="795.9" font-size="16.5" fill="#1f1f1f" stroke="#1f1f1f" stroke-width="0.3" transform="rotate(-90 185.4 795.9)" textLength="29" lengthAdjust="spacingAndGlyphs">Tau</text>
<line x1="193.4" y1="790.9" x2="193.4" y2="812.9" stroke="#222" stroke-width="1.2"/>
<text x="200.8" y="785.9" font-size="16.5" fill="#1f1f1f" stroke="#1f1f1f" stroke-width="0.3" transform="rotate(-90 200.8 785.9)" textLength="87" lengthAdjust="spacingAndGlyphs">GPC, Pcho</text>
<line x1="213.8" y1="777.9" x2="213.8" y2="800.9" stroke="#222" stroke-width="1.2"/>
<text x="219.8" y="771.9" font-size="16.5" fill="#1f1f1f" stroke="#1f1f1f" stroke-width="0.3" transform="rotate(-90 219.8 771.9)" textLength="56" lengthAdjust="spacingAndGlyphs">PCr, Cr</text>
<line x1="287.3" y1="848.8" x2="287.3" y2="913.9" stroke="#222" stroke-width="1.2"/>
<text x="289.7" y="840.8" font-size="16.5" fill="#1f1f1f" stroke="#1f1f1f" stroke-width="0.3" transform="rotate(-90 289.7 840.8)" textLength="23" lengthAdjust="spacingAndGlyphs">Glu</text>
<line x1="296.7" y1="914.9" x2="296.7" y2="937.9" stroke="#222" stroke-width="1.2"/>
<text x="300.7" y="912.9" font-size="16.5" fill="#1f1f1f" stroke="#1f1f1f" stroke-width="0.3" transform="rotate(-90 300.7 912.9)" textLength="47" lengthAdjust="spacingAndGlyphs">GABA</text>
<line x1="312.3" y1="881.8" x2="312.3" y2="904.8" stroke="#222" stroke-width="1.2"/>
<text x="316.1" y="878.8" font-size="16.5" fill="#1f1f1f" stroke="#1f1f1f" stroke-width="0.3" transform="rotate(-90 316.1 878.8)" textLength="60" lengthAdjust="spacingAndGlyphs">Glu, Gln</text>
<line x1="325.3" y1="794.9" x2="325.3" y2="817.9" stroke="#222" stroke-width="1.2"/>
<text x="329.1" y="789.5" font-size="16.5" fill="#1f1f1f" stroke="#1f1f1f" stroke-width="0.3" transform="rotate(-90 329.1 789.5)" textLength="35.2" lengthAdjust="spacingAndGlyphs">NAA</text>
<line x1="342.3" y1="892.8" x2="342.3" y2="916.9" stroke="#222" stroke-width="1.2"/>
<text x="346.7" y="889.8" font-size="16.5" fill="#1f1f1f" stroke="#1f1f1f" stroke-width="0.3" transform="rotate(-90 346.7 889.8)" textLength="47" lengthAdjust="spacingAndGlyphs">GABA</text>
<line x1="395.2" y1="900.9" x2="395.2" y2="923.9" stroke="#222" stroke-width="1.2"/>
<text x="394" y="893.8" font-size="16.5" fill="#1f1f1f" stroke="#1f1f1f" stroke-width="0.3" transform="rotate(-90 394 893.8)" textLength="23" lengthAdjust="spacingAndGlyphs">Ala</text>
<line x1="402.2" y1="865.8" x2="402.2" y2="888.8" stroke="#222" stroke-width="1.2"/>
<text x="406.6" y="861.8" font-size="16.5" fill="#1f1f1f" stroke="#1f1f1f" stroke-width="0.3" transform="rotate(-90 406.6 861.8)" textLength="27" lengthAdjust="spacingAndGlyphs">Lac</text>
<line x1="449.9" y1="889.9" x2="478.9" y2="889.9" stroke="#222" stroke-width="1.2"/>
<text x="481.9" y="896.9" font-size="15.4" fill="#1f1f1f" stroke="#1f1f1f" stroke-width="0.3" textLength="31" lengthAdjust="spacingAndGlyphs">Mac</text>
<defs><clipPath id="ic1"><rect x="433.8" y="97.2" width="141.7" height="98.3"/></clipPath>
<linearGradient id="bg1" x1="0.3" y1="0" x2="0.6" y2="1"><stop offset="0" stop-color="#a2a2a2"/><stop offset="1" stop-color="#585858"/></linearGradient>
<linearGradient id="vg1" x1="0" y1="0" x2="0" y2="1"><stop offset="0" stop-color="#fff" stop-opacity="0.10"/><stop offset="1" stop-color="#000" stop-opacity="0.25"/></linearGradient>
<filter id="bl1" x="-30%" y="-30%" width="160%" height="160%"><feGaussianBlur stdDeviation="3"/></filter>
<filter id="bm1" x="-30%" y="-30%" width="160%" height="160%"><feGaussianBlur stdDeviation="1.5"/></filter>
<filter id="bs1" x="-30%" y="-30%" width="160%" height="160%"><feGaussianBlur stdDeviation="0.8"/></filter>
<filter id="nz1" x="0" y="0" width="100%" height="100%"><feTurbulence type="fractalNoise" baseFrequency="0.55" numOctaves="2" seed="1"/><feColorMatrix type="matrix" values="0 0 0 0 1  0 0 0 0 1  0 0 0 0 1  1.6 0 0 0 -0.55"/><feGaussianBlur stdDeviation="0.5"/></filter></defs>
<rect x="433.8" y="97.2" width="141.7" height="98.3" fill="#171717"/>
<g clip-path="url(#ic1)">
<ellipse cx="462" cy="172" rx="32" ry="19" fill="#363636" filter="url(#bl1)"/>
<ellipse cx="510.5" cy="151" rx="57.5" ry="40.5" fill="#0c0c0c" transform="rotate(3 511 150)" filter="url(#bm1)"/>
<ellipse cx="510.5" cy="151.5" rx="55" ry="38" fill="url(#bg1)" transform="rotate(3 511 150)" filter="url(#bm1)"/>
<path d="M464 124 Q478 108 499 108 Q507 108 512 111" fill="none" stroke="#ececec" stroke-width="3.3" stroke-linecap="round" filter="url(#bs1)"/>
<path d="M514 110 Q548 115 569 143" fill="none" stroke="#505050" stroke-width="2.6" filter="url(#bm1)"/>
<ellipse cx="486" cy="121" rx="4" ry="2.5" fill="#d8d8d8" filter="url(#bs1)"/>
<ellipse cx="513" cy="143" rx="2.2" ry="2.6" fill="#a8a8a8" filter="url(#bs1)"/>
<rect x="433.8" y="97.2" width="141.7" height="98.3" fill="#fff" opacity="0.16" filter="url(#nz1)"/>
</g>
<rect x="479.9" y="133.9" width="21" height="21.7" fill="url(#vg1)" stroke="#f6f6f6" stroke-width="2.3"/>
<text x="491.5" y="187.5" font-size="16.8" font-weight="bold" fill="#ffffff" textLength="77.5" lengthAdjust="spacingAndGlyphs">NCH-1600</text>
<line x1="433.8" y1="98.4" x2="575.5" y2="98.4" stroke="#00008b" stroke-width="2.4"/>
<defs><clipPath id="ic2"><rect x="425.8" y="389" width="143.6" height="105.5"/></clipPath>
<linearGradient id="bg2" x1="0.3" y1="0" x2="0.6" y2="1"><stop offset="0" stop-color="#a8a8a8"/><stop offset="1" stop-color="#383838"/></linearGradient>
<linearGradient id="vg2" x1="0" y1="0" x2="0" y2="1"><stop offset="0" stop-color="#fff" stop-opacity="0.10"/><stop offset="1" stop-color="#000" stop-opacity="0.25"/></linearGradient>
<filter id="bl2" x="-30%" y="-30%" width="160%" height="160%"><feGaussianBlur stdDeviation="3"/></filter>
<filter id="bm2" x="-30%" y="-30%" width="160%" height="160%"><feGaussianBlur stdDeviation="1.5"/></filter>
<filter id="bs2" x="-30%" y="-30%" width="160%" height="160%"><feGaussianBlur stdDeviation="0.8"/></filter>
<filter id="nz2" x="0" y="0" width="100%" height="100%"><feTurbulence type="fractalNoise" baseFrequency="0.55" numOctaves="2" seed="2"/><feColorMatrix type="matrix" values="0 0 0 0 1  0 0 0 0 1  0 0 0 0 1  1.6 0 0 0 -0.55"/><feGaussianBlur stdDeviation="0.5"/></filter></defs>
<rect x="425.8" y="389" width="143.6" height="105.5" fill="#171717"/>
<g clip-path="url(#ic2)">
<path d="M429 453 Q438 422 468 411 Q490 404 505 407 Q538 410 555 429 Q565 442 568 453" fill="none" stroke="#858585" stroke-width="4" filter="url(#bm2)"/>
<ellipse cx="503" cy="476" rx="40" ry="18" fill="#383838" filter="url(#bl2)"/>
<ellipse cx="500" cy="447" rx="50" ry="37" fill="#0e0e0e" filter="url(#bm2)"/>
<ellipse cx="500" cy="447" rx="47.5" ry="34.5" fill="url(#bg2)" filter="url(#bm2)"/>
<ellipse cx="482.5" cy="427.6" rx="6.5" ry="2.5" fill="#ececec" filter="url(#bs2)"/>
<ellipse cx="517.5" cy="430" rx="7" ry="3.2" fill="#e0e0e0" filter="url(#bs2)"/>
<ellipse cx="500.5" cy="432.5" rx="2.6" ry="3.6" fill="#cfcfcf" filter="url(#bs2)"/>
<rect x="425.8" y="389" width="143.6" height="105.5" fill="#fff" opacity="0.16" filter="url(#nz2)"/>
</g>
<rect x="470.9" y="432.7" width="18.8" height="20.4" fill="url(#vg2)" stroke="#f6f6f6" stroke-width="2.3"/>
<text x="487.9" y="486.9" font-size="16.8" font-weight="bold" fill="#ffffff" textLength="77.5" lengthAdjust="spacingAndGlyphs">NCH-1527</text>
<defs><clipPath id="ic3"><rect x="422.7" y="761.1" width="142.2" height="106.8"/></clipPath>
<linearGradient id="bg3" x1="0.3" y1="0" x2="0.6" y2="1"><stop offset="0" stop-color="#9c9c9c"/><stop offset="1" stop-color="#3c3c3c"/></linearGradient>
<linearGradient id="vg3" x1="0" y1="0" x2="0" y2="1"><stop offset="0" stop-color="#fff" stop-opacity="0.10"/><stop offset="1" stop-color="#000" stop-opacity="0.25"/></linearGradient>
<filter id="bl3" x="-30%" y="-30%" width="160%" height="160%"><feGaussianBlur stdDeviation="3"/></filter>
<filter id="bm3" x="-30%" y="-30%" width="160%" height="160%"><feGaussianBlur stdDeviation="1.5"/></filter>
<filter id="bs3" x="-30%" y="-30%" width="160%" height="160%"><feGaussianBlur stdDeviation="0.8"/></filter>
<filter id="nz3" x="0" y="0" width="100%" height="100%"><feTurbulence type="fractalNoise" baseFrequency="0.55" numOctaves="2" seed="3"/><feColorMatrix type="matrix" values="0 0 0 0 1  0 0 0 0 1  0 0 0 0 1  1.6 0 0 0 -0.55"/><feGaussianBlur stdDeviation="0.5"/></filter></defs>
<rect x="422.7" y="761.1" width="142.2" height="106.8" fill="#171717"/>
<g clip-path="url(#ic3)">
<path d="M431 793 Q440 778 460 774 Q480 770 491 775 Q505 770 520 773 Q548 778 562 796 L565 805" fill="none" stroke="#b4b4b4" stroke-width="4.6" filter="url(#bm3)"/>
<ellipse cx="445" cy="850" rx="24" ry="12" fill="#2c2c2c" filter="url(#bl3)"/>
<path d="M431 812 Q431 785 462 780 Q484 777 491.5 783 Q500 777 520 780 Q549 785 551 812 Q551 838 520 851 Q491 859 462 851 Q431 838 431 812Z" fill="url(#bg3)" filter="url(#bm3)"/>
<line x1="491.5" y1="784" x2="491.5" y2="812" stroke="#5c5c5c" stroke-width="1.3" filter="url(#bs3)"/>
<ellipse cx="505" cy="804" rx="5" ry="2" fill="#a2a2a2" transform="rotate(-30 505 804)" filter="url(#bs3)"/>
<rect x="422.7" y="761.1" width="142.2" height="106.8" fill="#fff" opacity="0.16" filter="url(#nz3)"/>
</g>
<rect x="450.1" y="804.6" width="23.6" height="24.5" fill="url(#vg3)" stroke="#f6f6f6" stroke-width="2.3"/>
<text x="483.3" y="861.7" font-size="16.8" font-weight="bold" fill="#ffffff" textLength="78.1" lengthAdjust="spacingAndGlyphs">NCH-1625</text>
</svg>
</body></html>
